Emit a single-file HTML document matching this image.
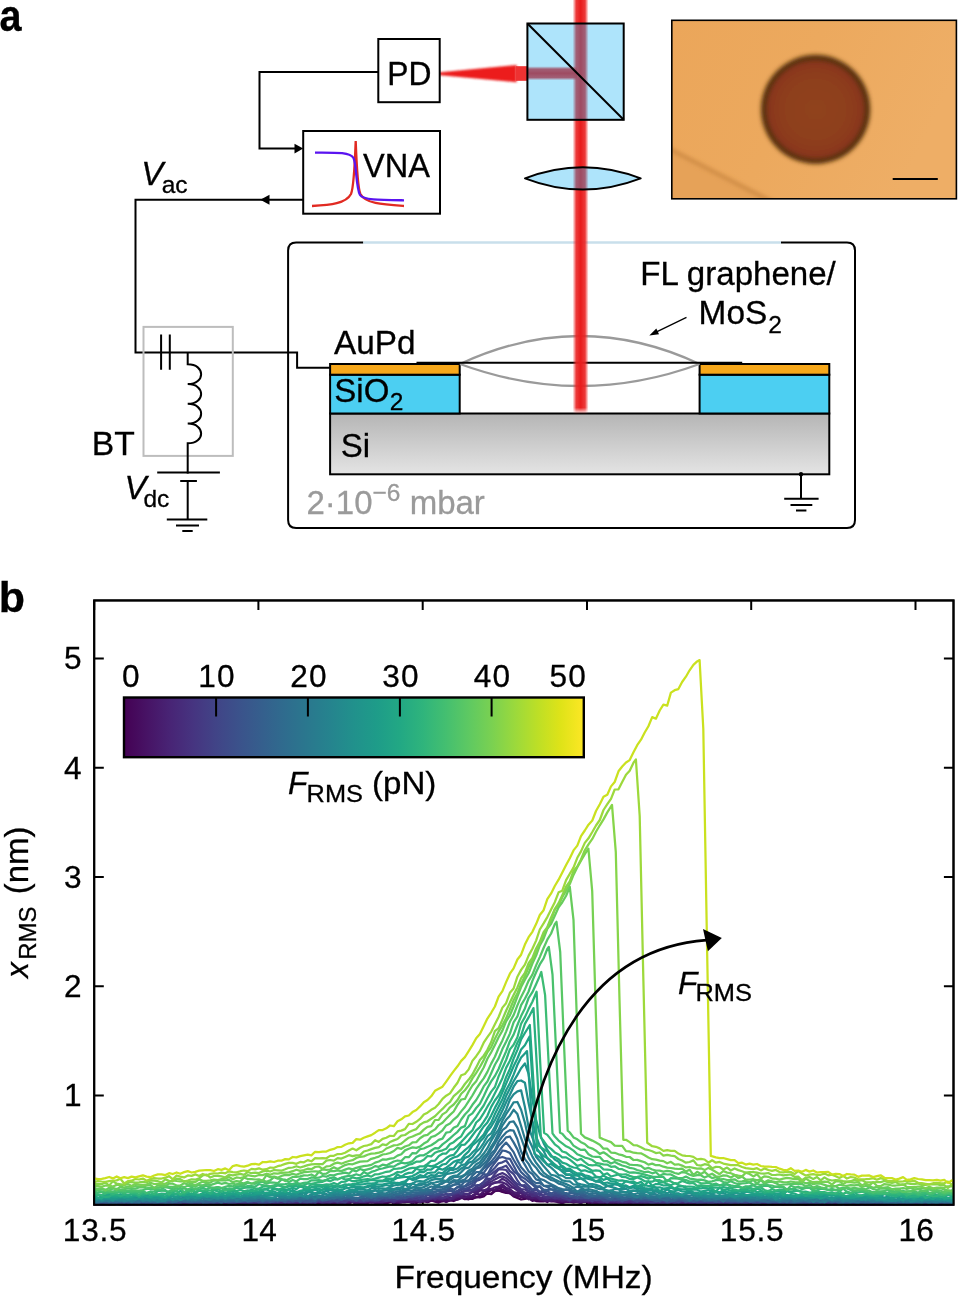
<!DOCTYPE html>
<html lang="en"><head><meta charset="utf-8"><title>Figure</title>
<style>html,body{margin:0;padding:0;background:#fff}svg{display:block}text{stroke:#000;stroke-width:0.3px}text.g{stroke:#9a9a9a}</style></head>
<body>
<svg width="958" height="1297" viewBox="0 0 958 1297" font-family="'Liberation Sans', Arial, Helvetica, sans-serif" fill="#000">
<defs>
<linearGradient id="si" x1="0" y1="0" x2="0" y2="1"><stop offset="0" stop-color="#b5b5b5"/><stop offset="1" stop-color="#e4e4e4"/></linearGradient>
<linearGradient id="vbeam" x1="0" y1="0" x2="1" y2="0"><stop offset="0" stop-color="#f03030" stop-opacity="0"/><stop offset="0.22" stop-color="#ea2424" stop-opacity="0.9"/><stop offset="0.5" stop-color="#e81c1c" stop-opacity="1"/><stop offset="0.78" stop-color="#ea2424" stop-opacity="0.9"/><stop offset="1" stop-color="#f03030" stop-opacity="0"/></linearGradient>
<linearGradient id="hbeam" x1="0" y1="0" x2="0" y2="1"><stop offset="0" stop-color="#f03030" stop-opacity="0"/><stop offset="0.2" stop-color="#ea2424" stop-opacity="0.9"/><stop offset="0.5" stop-color="#e81c1c" stop-opacity="1"/><stop offset="0.8" stop-color="#ea2424" stop-opacity="0.9"/><stop offset="1" stop-color="#f03030" stop-opacity="0"/></linearGradient>
<linearGradient id="vfade" x1="0" y1="0" x2="0" y2="1"><stop offset="0" stop-color="#fff"/><stop offset="0.97" stop-color="#fff"/><stop offset="1" stop-color="#000"/></linearGradient>
<radialGradient id="hole" cx="0.5" cy="0.5" r="0.5"><stop offset="0" stop-color="#90431c"/><stop offset="0.6" stop-color="#8e3f1c"/><stop offset="0.9" stop-color="#8b381b"/><stop offset="1" stop-color="#80331a"/></radialGradient>
<linearGradient id="photo" x1="0" y1="0" x2="1" y2="0.3"><stop offset="0" stop-color="#eba65a"/><stop offset="0.5" stop-color="#eca95e"/><stop offset="1" stop-color="#eeae66"/></linearGradient>
<filter id="blur05" x="-20%" y="-20%" width="140%" height="140%"><feGaussianBlur stdDeviation="0.7"/></filter>
<linearGradient id="vmg" x1="0" y1="0" x2="0" y2="1"><stop offset="0" stop-color="#fff"/><stop offset="0.985" stop-color="#fff"/><stop offset="1" stop-color="#000"/></linearGradient>
<mask id="vm" maskUnits="userSpaceOnUse" x="560" y="-10" width="40" height="430"><rect x="560" y="-10" width="40" height="424" fill="url(#vmg)"/></mask>
<filter id="blur1" x="-20%" y="-20%" width="140%" height="140%"><feGaussianBlur stdDeviation="1.1"/></filter>
<filter id="blur2" x="-20%" y="-20%" width="140%" height="140%"><feGaussianBlur stdDeviation="2.2"/></filter>
<clipPath id="photoclip"><rect x="671.8" y="20.3" width="284.6" height="178.5"/></clipPath>
<clipPath id="plotclip"><rect x="94.2" y="600.4" width="859.3" height="606"/></clipPath>

<linearGradient id="vir" x1="0" y1="0" x2="1" y2="0"><stop offset="0.000" stop-color="#440154"/><stop offset="0.050" stop-color="#471365"/><stop offset="0.100" stop-color="#482475"/><stop offset="0.150" stop-color="#463480"/><stop offset="0.200" stop-color="#414487"/><stop offset="0.250" stop-color="#3b528b"/><stop offset="0.300" stop-color="#355f8d"/><stop offset="0.350" stop-color="#2f6c8e"/><stop offset="0.400" stop-color="#2a788e"/><stop offset="0.450" stop-color="#25848e"/><stop offset="0.500" stop-color="#21918c"/><stop offset="0.550" stop-color="#1e9c89"/><stop offset="0.600" stop-color="#22a884"/><stop offset="0.650" stop-color="#2fb47c"/><stop offset="0.700" stop-color="#44bf70"/><stop offset="0.750" stop-color="#5ec962"/><stop offset="0.800" stop-color="#7ad151"/><stop offset="0.850" stop-color="#9bd93c"/><stop offset="0.900" stop-color="#bddf26"/><stop offset="0.950" stop-color="#dfe318"/><stop offset="1.000" stop-color="#fde725"/></linearGradient>
</defs>
<rect width="958" height="1297" fill="#fff"/>
<text transform="translate(-0.6,31) scale(0.92,1.02)" font-size="43" font-weight="bold">a</text>
<text x="-1.2" y="612" font-size="43" font-weight="bold">b</text>
<path d="M363.3,242.5 H296.1 Q288.1,242.5 288.1,250.5 V520.1 Q288.1,528.1 296.1,528.1 H847 Q855,528.1 855,520.1 V250.5 Q855,242.5 847,242.5 H781" fill="none" stroke="#000" stroke-width="2"/>
<line x1="363.3" y1="242.5" x2="781" y2="242.5" stroke="#c9dfeb" stroke-width="2.4"/>
<rect x="330.1" y="413.5" width="499.2" height="60.8" fill="url(#si)" stroke="#000" stroke-width="2"/>
<rect x="330.1" y="374.7" width="129.6" height="38.8" fill="#4ccff2" stroke="#000" stroke-width="2"/>
<rect x="699.6" y="374.7" width="129.7" height="38.8" fill="#4ccff2" stroke="#000" stroke-width="2"/>
<rect x="330.1" y="364" width="129.6" height="10.7" fill="#f7a81b" stroke="#000" stroke-width="2"/>
<rect x="699.6" y="364" width="129.7" height="10.7" fill="#f7a81b" stroke="#000" stroke-width="2"/>
<path d="M460,364 Q580,308 699.5,364" fill="none" stroke="#9a9a9a" stroke-width="2.3"/>
<path d="M460,364 Q580,408 699.5,364" fill="none" stroke="#9a9a9a" stroke-width="2.3"/>
<line x1="416.5" y1="362.8" x2="742.2" y2="362.8" stroke="#000" stroke-width="2"/>
<rect x="572.6" y="-5" width="16" height="419" fill="url(#vbeam)" mask="url(#vm)"/>
<path d="M438,72.4 L516.6,65.0 L516.6,82.2 L438,75 Z" fill="#ec1c1c" filter="url(#blur1)"/>
<rect x="516" y="66.2" width="12" height="14.6" fill="#ee3030" filter="url(#blur05)"/>
<rect x="527" y="66.2" width="50" height="14.2" fill="url(#hbeam)"/>
<rect x="527.4" y="23.5" width="96.3" height="96.3" fill="#0aadf3" fill-opacity="0.33" stroke="#000" stroke-width="2"/>
<line x1="527.4" y1="23.5" x2="623.7" y2="119.8" stroke="#000" stroke-width="2"/>
<path d="M525,178.4 Q582.8,156 640.7,178.4 Q582.8,200.8 525,178.4 Z" fill="#0aadf3" fill-opacity="0.33" stroke="#000" stroke-width="2" stroke-linejoin="round"/>
<rect x="378.3" y="39" width="61.4" height="63.2" fill="#fff" stroke="#000" stroke-width="2"/>
<text x="387.2" y="84.7" font-size="33" textLength="44.2" lengthAdjust="spacingAndGlyphs">PD</text>
<rect x="303.2" y="131" width="136.8" height="82.7" fill="#fff" stroke="#000" stroke-width="2"/>
<text x="363" y="176.6" font-size="33" textLength="67" lengthAdjust="spacingAndGlyphs">VNA</text>
<path d="M378.3,72.1 H259.5 V148.6 H298" fill="none" stroke="#000" stroke-width="2"/>
<path d="M303.2,148.6 L294.5,143.8 L294.5,153.4 Z"/>
<path d="M303.2,199.8 H135.5 V352.4 H297.1 V367.8 H330" fill="none" stroke="#000" stroke-width="2"/>
<path d="M260.3,199.8 L269.5,194.8 L269.5,204.8 Z"/>
<path d="M312,206 C331,205 346,203.5 351,194 C354,187 355,160 355.7,141 C356.4,160 357.4,187 360.4,194 C365.4,203.5 382,204.5 404,206" fill="none" stroke="#e12a22" stroke-width="2.3"/>
<path d="M315,152.6 C335,152.6 350,152 353.5,158 C356.5,164 356,188 360,195 C363,200 380,200 404,200.3" fill="none" stroke="#5a14f0" stroke-width="2.3"/>
<text x="141.3" y="184.6" font-size="33"><tspan font-style="italic">V</tspan><tspan font-size="24.5" dy="8.4" dx="-1.6">ac</tspan></text>
<rect x="143.5" y="326.9" width="89.3" height="129" fill="none" stroke="#bdbdbd" stroke-width="2"/>
<path d="M161.1,334.5 V369.8 M169.8,334.5 V369.8" stroke="#000" stroke-width="2" fill="none"/>
<path d="M187.7,352.4 V364.3 C205.6,364.3 205.6,384.1 187.7,384.1 C205.6,384.1 205.6,403.8 187.7,403.8 C205.6,403.8 205.6,423.6 187.7,423.6 C205.6,423.6 205.6,443.3 187.7,443.3 V519.4" fill="none" stroke="#000" stroke-width="2"/>
<rect x="184" y="473.6" width="8" height="6.5" fill="#fff"/>
<path d="M157.2,472.6 H219.9 M180.2,481 H196.9 M166.8,519.4 H207.3 M176,525.6 H199 M182.3,531 H192.7" stroke="#000" stroke-width="2" fill="none"/>
<text x="91.8" y="454.6" font-size="33" textLength="43" lengthAdjust="spacingAndGlyphs">BT</text>
<text x="124.6" y="498.7" font-size="33"><tspan font-style="italic">V</tspan><tspan font-size="24.5" dy="8.6" dx="-3.2">dc</tspan></text>
<text x="334" y="354.4" font-size="33" textLength="81.5" lengthAdjust="spacingAndGlyphs">AuPd</text>
<text x="334.3" y="401.8" font-size="33">SiO<tspan font-size="24.5" dy="8.4" dx="0.5">2</tspan></text>
<text x="340.8" y="457.4" font-size="33">Si</text>
<text x="306.5" y="513.7" font-size="33" fill="#9a9a9a" class="g">2·10<tspan font-size="24.5" dy="-12.5">−6</tspan><tspan dy="12.5"> mbar</tspan></text>
<text x="640.3" y="285.4" font-size="33" textLength="195.5" lengthAdjust="spacingAndGlyphs">FL graphene/</text>
<text x="698.6" y="323.9" font-size="33.4">MoS<tspan font-size="24.5" dy="8.6" dx="1">2</tspan></text>
<line x1="686.5" y1="317.4" x2="654" y2="333.2" stroke="#000" stroke-width="1.3"/>
<path d="M649.3,335.5 L656.3,328.6 L659,334.2 Z"/>
<circle cx="801" cy="474.3" r="2.2"/>
<path d="M801,474.3 V498.7 M784.2,498.7 H818.6 M790.5,505 H812.3 M796,510.6 H806.4" stroke="#000" stroke-width="2" fill="none"/>
<g clip-path="url(#photoclip)">
<rect x="671.8" y="20.3" width="284.6" height="178.5" fill="url(#photo)"/>
<path d="M660,146 L775,205 L660,205 Z" fill="#e6a258" filter="url(#blur2)"/>
<path d="M660,144 L775,203.5" stroke="#c8853f" stroke-width="3.4" fill="none" filter="url(#blur2)"/>
<circle cx="815.6" cy="109.4" r="54.6" fill="#57300d" filter="url(#blur2)"/>
<circle cx="815.6" cy="109.4" r="49.5" fill="url(#hole)" filter="url(#blur2)"/>
</g>
<rect x="671.8" y="20.3" width="284.6" height="178.5" fill="none" stroke="#000" stroke-width="1.6"/>
<line x1="892.7" y1="178.9" x2="937.8" y2="178.9" stroke="#000" stroke-width="2"/>
<rect x="94.2" y="600.4" width="859.3" height="604.35" fill="none" stroke="#000" stroke-width="2"/>
<path d="M94.2,600.4 v9.6 M94.2,1204.75 v-9.6 M258.4,600.4 v9.6 M258.4,1204.75 v-9.6 M422.7,600.4 v9.6 M422.7,1204.75 v-9.6 M587.0,600.4 v9.6 M587.0,1204.75 v-9.6 M751.2,600.4 v9.6 M751.2,1204.75 v-9.6 M915.5,600.4 v9.6 M915.5,1204.75 v-9.6 M94.2,1095.5 h9.6 M953.5,1095.5 h-9.6 M94.2,986.2 h9.6 M953.5,986.2 h-9.6 M94.2,877.0 h9.6 M953.5,877.0 h-9.6 M94.2,767.8 h9.6 M953.5,767.8 h-9.6 M94.2,658.5 h9.6 M953.5,658.5 h-9.6 " stroke="#000" stroke-width="2" fill="none"/>
<g fill="none" stroke-width="2.25" stroke-linejoin="round" clip-path="url(#plotclip)">
<path d="M94.2,1204.2 L97.9,1203.1 L101.7,1203.1 L105.4,1201.4 L109.2,1204.8 L112.9,1202.5 L116.7,1203.5 L120.4,1203.4 L124.2,1204.8 L127.9,1203.8 L131.6,1202.6 L135.4,1203.4 L139.1,1203.3 L142.9,1203.6 L146.6,1202.2 L150.4,1203.4 L154.1,1204.8 L157.9,1204.0 L161.6,1204.8 L165.4,1204.8 L169.1,1203.8 L172.8,1202.0 L176.6,1203.3 L180.3,1204.4 L184.1,1204.2 L187.8,1202.2 L191.6,1203.1 L195.3,1203.2 L199.1,1203.3 L202.8,1203.2 L206.5,1202.5 L210.3,1202.7 L214.0,1203.0 L217.8,1204.2 L221.5,1202.7 L225.3,1203.9 L229.0,1202.1 L232.8,1204.4 L236.5,1203.3 L240.3,1203.2 L244.0,1204.4 L247.7,1201.4 L251.5,1201.7 L255.2,1203.6 L259.0,1202.3 L262.7,1202.7 L266.5,1204.8 L270.2,1202.8 L274.0,1203.1 L277.7,1202.9 L281.4,1204.1 L285.2,1203.3 L288.9,1203.2 L292.7,1201.8 L296.4,1202.6 L300.2,1202.9 L303.9,1201.4 L307.7,1203.4 L311.4,1203.3 L315.1,1204.7 L318.9,1201.3 L322.6,1201.9 L326.4,1201.9 L330.1,1202.1 L333.9,1202.6 L337.6,1202.5 L341.4,1202.9 L345.1,1202.9 L348.9,1202.6 L352.6,1201.1 L356.3,1202.0 L360.1,1202.6 L363.8,1203.1 L367.6,1203.1 L371.3,1200.8 L375.1,1201.9 L378.8,1202.3 L382.6,1202.6 L386.3,1203.3 L390.0,1202.2 L393.8,1201.3 L397.5,1202.5 L401.3,1202.2 L405.0,1202.1 L408.8,1201.7 L412.5,1203.3 L416.3,1201.9 L420.0,1202.4 L423.8,1200.6 L427.5,1202.1 L431.2,1200.6 L435.0,1199.5 L438.7,1201.2 L442.5,1201.3 L446.2,1200.3 L450.0,1200.3 L453.7,1201.0 L457.5,1199.2 L461.2,1197.4 L464.9,1199.2 L468.7,1198.6 L472.4,1198.9 L476.2,1196.9 L479.9,1197.5 L483.7,1196.5 L487.4,1193.1 L491.2,1194.1 L494.9,1191.2 L498.6,1190.4 L502.4,1192.0 L506.1,1193.0 L509.9,1193.1 L513.6,1196.5 L517.4,1197.9 L521.1,1199.5 L524.9,1198.9 L528.6,1198.0 L532.4,1198.9 L536.1,1201.1 L539.8,1201.4 L543.6,1201.3 L547.3,1200.7 L551.1,1201.4 L554.8,1201.2 L558.6,1201.3 L562.3,1202.0 L566.1,1201.8 L569.8,1201.7 L573.5,1202.1 L577.3,1201.6 L581.0,1200.3 L584.8,1201.7 L588.5,1202.3 L592.3,1204.0 L596.0,1202.0 L599.8,1204.4 L603.5,1203.9 L607.3,1201.7 L611.0,1201.9 L614.7,1202.8 L618.5,1204.3 L622.2,1203.0 L626.0,1203.4 L629.7,1202.1 L633.5,1200.5 L637.2,1202.6 L641.0,1203.6 L644.7,1204.0 L648.4,1202.9 L652.2,1203.0 L655.9,1204.0 L659.7,1202.8 L663.4,1204.1 L667.2,1201.8 L670.9,1201.9 L674.7,1201.9 L678.4,1203.5 L682.1,1202.5 L685.9,1203.1 L689.6,1203.4 L693.4,1203.4 L697.1,1204.3 L700.9,1204.5 L704.6,1202.3 L708.4,1203.3 L712.1,1202.9 L715.9,1202.1 L719.6,1204.8 L723.3,1203.9 L727.1,1203.0 L730.8,1202.8 L734.6,1203.5 L738.3,1202.2 L742.1,1203.0 L745.8,1204.4 L749.6,1204.1 L753.3,1202.4 L757.0,1202.8 L760.8,1204.8 L764.5,1201.9 L768.3,1202.7 L772.0,1201.9 L775.8,1203.6 L779.5,1203.6 L783.3,1204.4 L787.0,1200.8 L790.8,1203.5 L794.5,1201.7 L798.2,1203.9 L802.0,1203.2 L805.7,1204.8 L809.5,1203.7 L813.2,1202.4 L817.0,1204.6 L820.7,1202.3 L824.5,1203.0 L828.2,1204.4 L831.9,1203.9 L835.7,1203.8 L839.4,1203.4 L843.2,1203.9 L846.9,1204.2 L850.7,1203.7 L854.4,1204.4 L858.2,1204.7 L861.9,1203.4 L865.6,1202.5 L869.4,1204.8 L873.1,1203.4 L876.9,1204.1 L880.6,1204.4 L884.4,1202.6 L888.1,1203.9 L891.9,1202.0 L895.6,1204.2 L899.4,1203.1 L903.1,1203.7 L906.8,1204.2 L910.6,1202.9 L914.3,1203.6 L918.1,1202.9 L921.8,1203.5 L925.6,1204.5 L929.3,1203.6 L933.1,1203.4 L936.8,1202.5 L940.5,1204.4 L944.3,1203.5 L948.0,1204.8 L951.8,1202.9 L953.5,1204.6" stroke="#440154"/>
<path d="M94.2,1204.4 L97.9,1203.7 L101.7,1200.9 L105.4,1202.4 L109.2,1203.5 L112.9,1202.6 L116.7,1201.3 L120.4,1203.6 L124.2,1203.7 L127.9,1202.1 L131.6,1202.8 L135.4,1202.6 L139.1,1203.8 L142.9,1201.4 L146.6,1201.6 L150.4,1202.7 L154.1,1202.6 L157.9,1204.8 L161.6,1202.6 L165.4,1203.4 L169.1,1202.8 L172.8,1202.6 L176.6,1203.6 L180.3,1204.8 L184.1,1202.9 L187.8,1203.9 L191.6,1203.5 L195.3,1203.8 L199.1,1203.5 L202.8,1204.8 L206.5,1202.0 L210.3,1202.9 L214.0,1202.0 L217.8,1201.2 L221.5,1203.1 L225.3,1204.8 L229.0,1204.0 L232.8,1204.3 L236.5,1203.6 L240.3,1203.0 L244.0,1204.8 L247.7,1202.7 L251.5,1204.5 L255.2,1202.7 L259.0,1203.1 L262.7,1203.3 L266.5,1203.1 L270.2,1203.5 L274.0,1203.6 L277.7,1204.6 L281.4,1203.0 L285.2,1201.1 L288.9,1200.9 L292.7,1201.6 L296.4,1202.1 L300.2,1203.5 L303.9,1201.4 L307.7,1202.8 L311.4,1202.8 L315.1,1203.0 L318.9,1202.6 L322.6,1203.1 L326.4,1202.8 L330.1,1203.7 L333.9,1203.0 L337.6,1200.3 L341.4,1202.6 L345.1,1202.8 L348.9,1202.0 L352.6,1201.8 L356.3,1203.5 L360.1,1202.6 L363.8,1201.4 L367.6,1202.0 L371.3,1202.1 L375.1,1200.7 L378.8,1202.8 L382.6,1202.0 L386.3,1202.6 L390.0,1200.5 L393.8,1203.8 L397.5,1202.5 L401.3,1202.3 L405.0,1201.0 L408.8,1201.0 L412.5,1200.1 L416.3,1203.0 L420.0,1200.6 L423.8,1201.5 L427.5,1201.7 L431.2,1200.4 L435.0,1201.6 L438.7,1202.6 L442.5,1200.7 L446.2,1201.6 L450.0,1200.5 L453.7,1199.2 L457.5,1198.9 L461.2,1197.3 L464.9,1198.6 L468.7,1199.3 L472.4,1197.9 L476.2,1197.3 L479.9,1196.7 L483.7,1194.0 L487.4,1193.8 L491.2,1193.9 L494.9,1190.3 L498.6,1190.6 L502.4,1190.4 L506.1,1192.1 L509.9,1193.3 L513.6,1195.3 L517.4,1195.3 L521.1,1197.1 L524.9,1197.9 L528.6,1198.4 L532.4,1200.8 L536.1,1199.9 L539.8,1200.4 L543.6,1200.2 L547.3,1202.0 L551.1,1199.3 L554.8,1201.0 L558.6,1202.4 L562.3,1203.1 L566.1,1201.8 L569.8,1201.7 L573.5,1202.5 L577.3,1201.8 L581.0,1202.6 L584.8,1201.5 L588.5,1202.8 L592.3,1202.2 L596.0,1201.3 L599.8,1199.8 L603.5,1203.3 L607.3,1202.8 L611.0,1203.3 L614.7,1201.7 L618.5,1203.6 L622.2,1203.0 L626.0,1202.6 L629.7,1203.5 L633.5,1203.6 L637.2,1203.1 L641.0,1204.7 L644.7,1204.1 L648.4,1203.1 L652.2,1202.6 L655.9,1202.9 L659.7,1204.5 L663.4,1203.3 L667.2,1202.1 L670.9,1202.3 L674.7,1202.9 L678.4,1203.8 L682.1,1202.3 L685.9,1203.5 L689.6,1204.1 L693.4,1203.7 L697.1,1201.5 L700.9,1202.8 L704.6,1201.9 L708.4,1203.5 L712.1,1202.1 L715.9,1203.6 L719.6,1203.2 L723.3,1200.6 L727.1,1202.3 L730.8,1203.6 L734.6,1203.2 L738.3,1202.8 L742.1,1201.9 L745.8,1203.6 L749.6,1204.8 L753.3,1203.4 L757.0,1203.1 L760.8,1203.1 L764.5,1201.9 L768.3,1202.9 L772.0,1202.4 L775.8,1204.3 L779.5,1202.4 L783.3,1201.2 L787.0,1202.5 L790.8,1203.0 L794.5,1203.1 L798.2,1201.5 L802.0,1204.2 L805.7,1203.4 L809.5,1202.8 L813.2,1202.5 L817.0,1203.7 L820.7,1203.0 L824.5,1203.6 L828.2,1203.2 L831.9,1203.4 L835.7,1204.4 L839.4,1203.3 L843.2,1202.5 L846.9,1204.3 L850.7,1203.6 L854.4,1202.7 L858.2,1204.4 L861.9,1203.2 L865.6,1204.4 L869.4,1202.2 L873.1,1201.1 L876.9,1201.4 L880.6,1203.6 L884.4,1202.6 L888.1,1203.3 L891.9,1203.3 L895.6,1201.9 L899.4,1204.7 L903.1,1202.4 L906.8,1203.4 L910.6,1202.0 L914.3,1203.2 L918.1,1204.1 L921.8,1203.1 L925.6,1202.7 L929.3,1203.4 L933.1,1202.9 L936.8,1203.9 L940.5,1204.8 L944.3,1202.6 L948.0,1202.8 L951.8,1203.3 L953.5,1203.4" stroke="#46075a"/>
<path d="M94.2,1203.2 L97.9,1201.0 L101.7,1204.1 L105.4,1203.4 L109.2,1203.4 L112.9,1202.8 L116.7,1202.2 L120.4,1203.7 L124.2,1204.1 L127.9,1204.8 L131.6,1204.1 L135.4,1202.7 L139.1,1203.2 L142.9,1204.2 L146.6,1203.6 L150.4,1203.2 L154.1,1202.7 L157.9,1203.8 L161.6,1203.4 L165.4,1204.8 L169.1,1204.3 L172.8,1201.6 L176.6,1204.8 L180.3,1203.5 L184.1,1202.9 L187.8,1203.5 L191.6,1203.9 L195.3,1203.2 L199.1,1203.1 L202.8,1203.2 L206.5,1204.8 L210.3,1203.2 L214.0,1203.9 L217.8,1203.6 L221.5,1202.8 L225.3,1202.4 L229.0,1202.1 L232.8,1203.5 L236.5,1202.1 L240.3,1201.8 L244.0,1201.8 L247.7,1201.6 L251.5,1203.1 L255.2,1203.1 L259.0,1202.1 L262.7,1204.2 L266.5,1202.7 L270.2,1203.4 L274.0,1203.2 L277.7,1204.5 L281.4,1203.7 L285.2,1202.8 L288.9,1201.9 L292.7,1201.8 L296.4,1202.8 L300.2,1202.9 L303.9,1203.5 L307.7,1202.3 L311.4,1202.9 L315.1,1202.0 L318.9,1200.9 L322.6,1202.6 L326.4,1204.0 L330.1,1203.3 L333.9,1203.9 L337.6,1203.6 L341.4,1201.1 L345.1,1202.1 L348.9,1203.8 L352.6,1201.6 L356.3,1201.0 L360.1,1202.6 L363.8,1202.8 L367.6,1202.4 L371.3,1201.8 L375.1,1201.4 L378.8,1200.8 L382.6,1200.7 L386.3,1200.7 L390.0,1200.4 L393.8,1201.0 L397.5,1203.1 L401.3,1201.6 L405.0,1201.1 L408.8,1201.7 L412.5,1200.3 L416.3,1201.5 L420.0,1201.9 L423.8,1199.4 L427.5,1200.1 L431.2,1200.3 L435.0,1199.5 L438.7,1199.1 L442.5,1199.6 L446.2,1202.1 L450.0,1200.0 L453.7,1199.5 L457.5,1199.7 L461.2,1198.1 L464.9,1196.6 L468.7,1197.6 L472.4,1197.5 L476.2,1193.5 L479.9,1195.0 L483.7,1194.6 L487.4,1191.9 L491.2,1190.2 L494.9,1190.2 L498.6,1188.0 L502.4,1189.6 L506.1,1191.5 L509.9,1192.3 L513.6,1193.4 L517.4,1196.2 L521.1,1196.3 L524.9,1197.6 L528.6,1195.4 L532.4,1199.5 L536.1,1197.9 L539.8,1199.7 L543.6,1200.1 L547.3,1199.5 L551.1,1199.6 L554.8,1199.5 L558.6,1200.6 L562.3,1201.7 L566.1,1201.8 L569.8,1200.9 L573.5,1200.9 L577.3,1200.2 L581.0,1201.3 L584.8,1200.8 L588.5,1200.4 L592.3,1201.8 L596.0,1203.5 L599.8,1203.3 L603.5,1203.6 L607.3,1200.6 L611.0,1203.1 L614.7,1201.1 L618.5,1201.7 L622.2,1200.7 L626.0,1201.4 L629.7,1202.5 L633.5,1202.7 L637.2,1202.4 L641.0,1202.3 L644.7,1203.1 L648.4,1202.6 L652.2,1201.0 L655.9,1204.3 L659.7,1202.4 L663.4,1203.6 L667.2,1202.5 L670.9,1201.9 L674.7,1202.8 L678.4,1202.0 L682.1,1204.3 L685.9,1201.7 L689.6,1203.4 L693.4,1202.2 L697.1,1202.7 L700.9,1204.8 L704.6,1203.6 L708.4,1202.7 L712.1,1201.4 L715.9,1202.6 L719.6,1202.7 L723.3,1204.3 L727.1,1201.6 L730.8,1201.2 L734.6,1203.0 L738.3,1203.2 L742.1,1204.6 L745.8,1202.2 L749.6,1200.4 L753.3,1202.3 L757.0,1201.8 L760.8,1202.5 L764.5,1204.1 L768.3,1201.8 L772.0,1204.3 L775.8,1203.3 L779.5,1202.8 L783.3,1202.3 L787.0,1202.7 L790.8,1202.8 L794.5,1203.9 L798.2,1204.4 L802.0,1203.1 L805.7,1203.9 L809.5,1204.5 L813.2,1204.4 L817.0,1203.7 L820.7,1204.8 L824.5,1204.5 L828.2,1204.8 L831.9,1203.1 L835.7,1202.8 L839.4,1201.3 L843.2,1204.7 L846.9,1203.9 L850.7,1202.4 L854.4,1203.5 L858.2,1203.6 L861.9,1201.6 L865.6,1203.6 L869.4,1204.4 L873.1,1204.6 L876.9,1203.0 L880.6,1203.0 L884.4,1204.7 L888.1,1204.3 L891.9,1202.8 L895.6,1202.8 L899.4,1204.0 L903.1,1202.7 L906.8,1202.8 L910.6,1204.8 L914.3,1203.7 L918.1,1202.9 L921.8,1203.9 L925.6,1204.8 L929.3,1203.6 L933.1,1202.6 L936.8,1201.8 L940.5,1204.8 L944.3,1200.8 L948.0,1204.5 L951.8,1202.5 L953.5,1202.2" stroke="#470e61"/>
<path d="M94.2,1204.1 L97.9,1204.2 L101.7,1204.3 L105.4,1204.1 L109.2,1204.1 L112.9,1202.9 L116.7,1204.1 L120.4,1203.1 L124.2,1202.8 L127.9,1203.9 L131.6,1203.0 L135.4,1201.5 L139.1,1202.8 L142.9,1203.8 L146.6,1203.2 L150.4,1204.0 L154.1,1202.8 L157.9,1202.2 L161.6,1203.9 L165.4,1203.3 L169.1,1202.0 L172.8,1203.6 L176.6,1202.9 L180.3,1204.1 L184.1,1203.9 L187.8,1203.5 L191.6,1200.9 L195.3,1203.4 L199.1,1203.5 L202.8,1203.5 L206.5,1203.1 L210.3,1202.3 L214.0,1202.8 L217.8,1200.9 L221.5,1202.7 L225.3,1201.5 L229.0,1202.6 L232.8,1202.3 L236.5,1204.3 L240.3,1203.0 L244.0,1202.9 L247.7,1203.1 L251.5,1204.8 L255.2,1201.9 L259.0,1203.2 L262.7,1203.2 L266.5,1203.0 L270.2,1203.0 L274.0,1202.3 L277.7,1203.9 L281.4,1203.6 L285.2,1202.4 L288.9,1202.5 L292.7,1203.0 L296.4,1203.2 L300.2,1203.4 L303.9,1202.6 L307.7,1201.3 L311.4,1203.5 L315.1,1201.0 L318.9,1201.6 L322.6,1202.8 L326.4,1201.6 L330.1,1203.8 L333.9,1204.0 L337.6,1203.5 L341.4,1202.6 L345.1,1202.5 L348.9,1202.7 L352.6,1202.0 L356.3,1204.1 L360.1,1201.5 L363.8,1203.4 L367.6,1202.5 L371.3,1202.3 L375.1,1202.9 L378.8,1203.1 L382.6,1202.6 L386.3,1201.6 L390.0,1200.9 L393.8,1200.9 L397.5,1202.3 L401.3,1202.0 L405.0,1202.1 L408.8,1200.6 L412.5,1202.9 L416.3,1199.6 L420.0,1201.1 L423.8,1201.3 L427.5,1200.0 L431.2,1199.1 L435.0,1199.6 L438.7,1198.7 L442.5,1199.3 L446.2,1198.0 L450.0,1197.6 L453.7,1198.6 L457.5,1196.7 L461.2,1197.4 L464.9,1196.9 L468.7,1197.3 L472.4,1195.8 L476.2,1193.8 L479.9,1194.8 L483.7,1191.6 L487.4,1190.4 L491.2,1188.9 L494.9,1190.0 L498.6,1187.1 L502.4,1186.7 L506.1,1189.7 L509.9,1190.9 L513.6,1195.3 L517.4,1193.8 L521.1,1196.4 L524.9,1195.8 L528.6,1199.3 L532.4,1197.4 L536.1,1198.9 L539.8,1198.3 L543.6,1200.4 L547.3,1200.4 L551.1,1197.8 L554.8,1201.2 L558.6,1201.2 L562.3,1201.0 L566.1,1201.9 L569.8,1199.9 L573.5,1199.5 L577.3,1202.0 L581.0,1203.1 L584.8,1200.4 L588.5,1200.6 L592.3,1200.9 L596.0,1200.7 L599.8,1202.7 L603.5,1202.1 L607.3,1203.4 L611.0,1203.4 L614.7,1201.1 L618.5,1202.8 L622.2,1199.9 L626.0,1202.1 L629.7,1202.9 L633.5,1201.5 L637.2,1200.6 L641.0,1201.9 L644.7,1203.6 L648.4,1202.1 L652.2,1201.1 L655.9,1203.0 L659.7,1203.3 L663.4,1201.5 L667.2,1202.4 L670.9,1203.7 L674.7,1203.0 L678.4,1203.4 L682.1,1202.4 L685.9,1202.6 L689.6,1201.6 L693.4,1202.0 L697.1,1204.3 L700.9,1202.3 L704.6,1201.9 L708.4,1202.3 L712.1,1201.8 L715.9,1203.4 L719.6,1203.8 L723.3,1201.9 L727.1,1203.9 L730.8,1204.8 L734.6,1201.9 L738.3,1203.6 L742.1,1203.2 L745.8,1204.3 L749.6,1204.2 L753.3,1204.1 L757.0,1203.3 L760.8,1202.6 L764.5,1204.8 L768.3,1202.3 L772.0,1204.2 L775.8,1204.1 L779.5,1202.4 L783.3,1203.1 L787.0,1204.6 L790.8,1201.2 L794.5,1203.9 L798.2,1202.8 L802.0,1202.9 L805.7,1201.7 L809.5,1203.6 L813.2,1202.1 L817.0,1203.8 L820.7,1202.0 L824.5,1203.9 L828.2,1203.5 L831.9,1201.3 L835.7,1202.8 L839.4,1203.1 L843.2,1201.0 L846.9,1202.8 L850.7,1204.0 L854.4,1202.5 L858.2,1204.4 L861.9,1202.1 L865.6,1202.0 L869.4,1203.8 L873.1,1203.8 L876.9,1203.1 L880.6,1203.2 L884.4,1204.2 L888.1,1202.7 L891.9,1204.8 L895.6,1203.7 L899.4,1203.7 L903.1,1203.5 L906.8,1203.0 L910.6,1204.5 L914.3,1202.7 L918.1,1203.5 L921.8,1203.9 L925.6,1204.6 L929.3,1204.5 L933.1,1203.0 L936.8,1204.3 L940.5,1203.3 L944.3,1202.3 L948.0,1202.3 L951.8,1201.8 L953.5,1203.6" stroke="#481467"/>
<path d="M94.2,1203.5 L97.9,1204.3 L101.7,1202.1 L105.4,1201.4 L109.2,1204.0 L112.9,1203.4 L116.7,1202.1 L120.4,1202.8 L124.2,1201.1 L127.9,1203.6 L131.6,1202.5 L135.4,1204.3 L139.1,1201.0 L142.9,1203.8 L146.6,1204.8 L150.4,1203.2 L154.1,1203.2 L157.9,1201.1 L161.6,1203.3 L165.4,1203.0 L169.1,1202.4 L172.8,1201.4 L176.6,1203.0 L180.3,1201.9 L184.1,1202.4 L187.8,1203.2 L191.6,1202.8 L195.3,1202.9 L199.1,1203.8 L202.8,1201.7 L206.5,1204.2 L210.3,1201.7 L214.0,1201.9 L217.8,1202.9 L221.5,1203.6 L225.3,1203.0 L229.0,1202.3 L232.8,1202.1 L236.5,1202.5 L240.3,1201.8 L244.0,1203.3 L247.7,1202.5 L251.5,1204.2 L255.2,1201.9 L259.0,1202.5 L262.7,1203.0 L266.5,1201.5 L270.2,1201.9 L274.0,1204.8 L277.7,1202.5 L281.4,1204.0 L285.2,1201.5 L288.9,1200.0 L292.7,1203.0 L296.4,1202.4 L300.2,1202.7 L303.9,1202.0 L307.7,1201.7 L311.4,1201.1 L315.1,1203.3 L318.9,1200.7 L322.6,1203.1 L326.4,1201.9 L330.1,1201.0 L333.9,1201.4 L337.6,1203.0 L341.4,1202.7 L345.1,1202.4 L348.9,1202.0 L352.6,1200.8 L356.3,1203.1 L360.1,1201.3 L363.8,1201.1 L367.6,1201.1 L371.3,1201.1 L375.1,1200.0 L378.8,1201.0 L382.6,1200.6 L386.3,1200.7 L390.0,1199.5 L393.8,1203.0 L397.5,1199.8 L401.3,1201.2 L405.0,1201.1 L408.8,1201.6 L412.5,1202.4 L416.3,1200.8 L420.0,1200.9 L423.8,1199.6 L427.5,1201.4 L431.2,1198.3 L435.0,1199.2 L438.7,1199.5 L442.5,1199.6 L446.2,1199.4 L450.0,1199.4 L453.7,1198.4 L457.5,1197.4 L461.2,1197.0 L464.9,1197.6 L468.7,1195.8 L472.4,1195.5 L476.2,1193.4 L479.9,1190.5 L483.7,1190.3 L487.4,1189.6 L491.2,1189.2 L494.9,1187.3 L498.6,1186.6 L502.4,1184.5 L506.1,1187.7 L509.9,1189.2 L513.6,1192.1 L517.4,1193.1 L521.1,1193.2 L524.9,1196.4 L528.6,1197.0 L532.4,1198.2 L536.1,1197.1 L539.8,1199.5 L543.6,1200.1 L547.3,1200.6 L551.1,1201.0 L554.8,1199.4 L558.6,1197.6 L562.3,1201.3 L566.1,1199.6 L569.8,1200.5 L573.5,1201.9 L577.3,1201.3 L581.0,1201.4 L584.8,1201.9 L588.5,1199.5 L592.3,1203.3 L596.0,1201.2 L599.8,1201.3 L603.5,1202.3 L607.3,1201.6 L611.0,1200.9 L614.7,1201.7 L618.5,1201.5 L622.2,1201.3 L626.0,1204.0 L629.7,1200.6 L633.5,1199.8 L637.2,1201.1 L641.0,1201.2 L644.7,1203.6 L648.4,1202.4 L652.2,1203.1 L655.9,1202.9 L659.7,1201.4 L663.4,1203.2 L667.2,1202.5 L670.9,1204.3 L674.7,1202.6 L678.4,1202.4 L682.1,1203.2 L685.9,1203.2 L689.6,1200.7 L693.4,1203.8 L697.1,1203.6 L700.9,1203.4 L704.6,1201.4 L708.4,1200.6 L712.1,1202.3 L715.9,1203.4 L719.6,1203.1 L723.3,1201.7 L727.1,1203.6 L730.8,1201.3 L734.6,1201.4 L738.3,1202.7 L742.1,1202.2 L745.8,1202.1 L749.6,1201.3 L753.3,1203.9 L757.0,1201.7 L760.8,1203.2 L764.5,1203.6 L768.3,1202.8 L772.0,1203.1 L775.8,1203.9 L779.5,1204.5 L783.3,1203.9 L787.0,1201.5 L790.8,1201.0 L794.5,1202.3 L798.2,1201.8 L802.0,1203.5 L805.7,1203.1 L809.5,1202.7 L813.2,1204.1 L817.0,1204.0 L820.7,1202.9 L824.5,1203.4 L828.2,1204.1 L831.9,1202.7 L835.7,1203.3 L839.4,1202.1 L843.2,1203.1 L846.9,1203.4 L850.7,1203.0 L854.4,1203.3 L858.2,1203.8 L861.9,1203.5 L865.6,1202.4 L869.4,1202.5 L873.1,1201.9 L876.9,1204.8 L880.6,1203.5 L884.4,1203.6 L888.1,1203.0 L891.9,1203.6 L895.6,1203.7 L899.4,1202.4 L903.1,1203.0 L906.8,1204.3 L910.6,1201.9 L914.3,1202.2 L918.1,1203.8 L921.8,1202.4 L925.6,1204.0 L929.3,1202.1 L933.1,1203.5 L936.8,1204.0 L940.5,1203.6 L944.3,1204.0 L948.0,1203.1 L951.8,1203.1 L953.5,1203.2" stroke="#481b6d"/>
<path d="M94.2,1204.1 L97.9,1202.8 L101.7,1204.0 L105.4,1202.0 L109.2,1202.6 L112.9,1203.0 L116.7,1204.3 L120.4,1202.9 L124.2,1203.8 L127.9,1202.3 L131.6,1203.1 L135.4,1203.8 L139.1,1202.1 L142.9,1202.2 L146.6,1203.5 L150.4,1201.8 L154.1,1203.2 L157.9,1203.2 L161.6,1202.8 L165.4,1203.6 L169.1,1203.3 L172.8,1203.0 L176.6,1201.4 L180.3,1201.4 L184.1,1203.1 L187.8,1201.2 L191.6,1202.8 L195.3,1202.4 L199.1,1201.9 L202.8,1202.5 L206.5,1200.4 L210.3,1202.5 L214.0,1203.9 L217.8,1201.4 L221.5,1203.1 L225.3,1203.0 L229.0,1204.8 L232.8,1201.7 L236.5,1201.8 L240.3,1201.8 L244.0,1201.6 L247.7,1200.9 L251.5,1202.6 L255.2,1201.6 L259.0,1203.2 L262.7,1202.8 L266.5,1201.4 L270.2,1202.1 L274.0,1203.7 L277.7,1202.0 L281.4,1202.6 L285.2,1203.1 L288.9,1201.9 L292.7,1202.7 L296.4,1203.8 L300.2,1203.3 L303.9,1200.5 L307.7,1203.6 L311.4,1201.9 L315.1,1201.5 L318.9,1201.4 L322.6,1203.2 L326.4,1202.3 L330.1,1201.8 L333.9,1201.1 L337.6,1202.5 L341.4,1202.9 L345.1,1200.8 L348.9,1200.6 L352.6,1201.3 L356.3,1202.2 L360.1,1201.1 L363.8,1201.4 L367.6,1200.6 L371.3,1202.6 L375.1,1201.1 L378.8,1201.3 L382.6,1202.2 L386.3,1200.8 L390.0,1200.9 L393.8,1201.2 L397.5,1200.3 L401.3,1202.0 L405.0,1200.5 L408.8,1199.9 L412.5,1199.9 L416.3,1199.0 L420.0,1201.0 L423.8,1201.1 L427.5,1199.2 L431.2,1198.8 L435.0,1196.9 L438.7,1198.1 L442.5,1199.2 L446.2,1197.2 L450.0,1198.4 L453.7,1198.6 L457.5,1194.1 L461.2,1195.7 L464.9,1194.7 L468.7,1194.0 L472.4,1191.8 L476.2,1192.2 L479.9,1189.9 L483.7,1190.5 L487.4,1189.1 L491.2,1184.3 L494.9,1182.3 L498.6,1182.2 L502.4,1182.4 L506.1,1184.0 L509.9,1187.5 L513.6,1187.7 L517.4,1190.7 L521.1,1192.5 L524.9,1194.0 L528.6,1194.5 L532.4,1195.9 L536.1,1196.3 L539.8,1198.8 L543.6,1197.7 L547.3,1196.5 L551.1,1199.5 L554.8,1199.4 L558.6,1198.7 L562.3,1198.9 L566.1,1199.4 L569.8,1201.8 L573.5,1199.9 L577.3,1201.8 L581.0,1201.6 L584.8,1200.4 L588.5,1201.3 L592.3,1200.3 L596.0,1198.1 L599.8,1200.6 L603.5,1200.7 L607.3,1202.4 L611.0,1202.2 L614.7,1202.7 L618.5,1202.2 L622.2,1202.8 L626.0,1202.4 L629.7,1202.0 L633.5,1202.8 L637.2,1203.3 L641.0,1203.3 L644.7,1201.5 L648.4,1202.0 L652.2,1201.1 L655.9,1201.1 L659.7,1202.5 L663.4,1201.5 L667.2,1203.6 L670.9,1200.0 L674.7,1201.1 L678.4,1202.5 L682.1,1203.5 L685.9,1202.0 L689.6,1204.2 L693.4,1203.2 L697.1,1201.7 L700.9,1202.4 L704.6,1203.0 L708.4,1201.6 L712.1,1203.5 L715.9,1202.3 L719.6,1203.0 L723.3,1203.4 L727.1,1202.1 L730.8,1203.6 L734.6,1200.8 L738.3,1203.2 L742.1,1200.7 L745.8,1203.8 L749.6,1202.1 L753.3,1203.9 L757.0,1204.0 L760.8,1202.6 L764.5,1202.1 L768.3,1204.0 L772.0,1201.6 L775.8,1203.6 L779.5,1202.7 L783.3,1202.4 L787.0,1202.2 L790.8,1204.6 L794.5,1201.3 L798.2,1202.3 L802.0,1203.3 L805.7,1203.9 L809.5,1204.6 L813.2,1204.2 L817.0,1202.4 L820.7,1203.3 L824.5,1204.1 L828.2,1203.5 L831.9,1201.4 L835.7,1203.3 L839.4,1203.6 L843.2,1201.7 L846.9,1202.5 L850.7,1203.0 L854.4,1203.6 L858.2,1204.5 L861.9,1204.2 L865.6,1203.5 L869.4,1203.3 L873.1,1202.7 L876.9,1202.5 L880.6,1202.9 L884.4,1202.9 L888.1,1204.1 L891.9,1204.8 L895.6,1203.6 L899.4,1204.0 L903.1,1203.8 L906.8,1203.4 L910.6,1204.3 L914.3,1204.2 L918.1,1203.2 L921.8,1203.0 L925.6,1203.8 L929.3,1202.7 L933.1,1203.4 L936.8,1204.2 L940.5,1203.1 L944.3,1201.3 L948.0,1203.8 L951.8,1202.0 L953.5,1201.8" stroke="#482173"/>
<path d="M94.2,1204.1 L97.9,1202.0 L101.7,1203.7 L105.4,1204.1 L109.2,1203.5 L112.9,1203.0 L116.7,1202.2 L120.4,1202.3 L124.2,1202.9 L127.9,1202.0 L131.6,1202.8 L135.4,1202.0 L139.1,1204.2 L142.9,1204.4 L146.6,1202.1 L150.4,1204.2 L154.1,1203.1 L157.9,1202.9 L161.6,1203.3 L165.4,1203.2 L169.1,1201.4 L172.8,1204.8 L176.6,1201.9 L180.3,1200.5 L184.1,1202.7 L187.8,1202.7 L191.6,1202.0 L195.3,1200.9 L199.1,1203.8 L202.8,1202.5 L206.5,1202.8 L210.3,1202.0 L214.0,1202.4 L217.8,1201.9 L221.5,1203.0 L225.3,1202.5 L229.0,1203.2 L232.8,1203.1 L236.5,1202.6 L240.3,1202.6 L244.0,1203.6 L247.7,1200.9 L251.5,1202.5 L255.2,1203.7 L259.0,1201.3 L262.7,1203.1 L266.5,1201.8 L270.2,1202.3 L274.0,1202.0 L277.7,1202.0 L281.4,1202.7 L285.2,1202.1 L288.9,1200.1 L292.7,1204.3 L296.4,1202.0 L300.2,1201.6 L303.9,1203.0 L307.7,1203.3 L311.4,1199.8 L315.1,1202.3 L318.9,1199.8 L322.6,1201.3 L326.4,1201.7 L330.1,1201.2 L333.9,1201.0 L337.6,1200.5 L341.4,1201.1 L345.1,1201.4 L348.9,1201.3 L352.6,1200.1 L356.3,1200.5 L360.1,1202.2 L363.8,1201.8 L367.6,1200.8 L371.3,1201.6 L375.1,1201.3 L378.8,1201.8 L382.6,1201.0 L386.3,1200.2 L390.0,1199.6 L393.8,1200.4 L397.5,1198.3 L401.3,1200.3 L405.0,1196.9 L408.8,1198.9 L412.5,1199.2 L416.3,1200.0 L420.0,1202.1 L423.8,1199.3 L427.5,1198.7 L431.2,1196.8 L435.0,1199.7 L438.7,1196.2 L442.5,1198.0 L446.2,1196.7 L450.0,1199.4 L453.7,1196.3 L457.5,1196.1 L461.2,1194.5 L464.9,1194.3 L468.7,1194.6 L472.4,1191.5 L476.2,1190.5 L479.9,1189.0 L483.7,1186.9 L487.4,1184.8 L491.2,1183.8 L494.9,1183.0 L498.6,1181.6 L502.4,1178.7 L506.1,1180.9 L509.9,1184.3 L513.6,1187.6 L517.4,1189.6 L521.1,1191.6 L524.9,1193.5 L528.6,1195.0 L532.4,1193.3 L536.1,1196.0 L539.8,1197.4 L543.6,1198.8 L547.3,1198.7 L551.1,1197.6 L554.8,1198.0 L558.6,1199.2 L562.3,1199.3 L566.1,1199.9 L569.8,1200.9 L573.5,1198.7 L577.3,1199.8 L581.0,1197.9 L584.8,1201.3 L588.5,1200.8 L592.3,1199.9 L596.0,1201.2 L599.8,1202.4 L603.5,1202.1 L607.3,1201.1 L611.0,1200.9 L614.7,1201.4 L618.5,1200.4 L622.2,1200.5 L626.0,1201.2 L629.7,1201.5 L633.5,1201.9 L637.2,1201.1 L641.0,1200.8 L644.7,1201.7 L648.4,1201.4 L652.2,1202.2 L655.9,1203.3 L659.7,1202.9 L663.4,1201.2 L667.2,1201.6 L670.9,1200.5 L674.7,1202.0 L678.4,1201.2 L682.1,1200.8 L685.9,1201.2 L689.6,1202.8 L693.4,1202.4 L697.1,1202.1 L700.9,1203.2 L704.6,1201.8 L708.4,1201.3 L712.1,1202.8 L715.9,1200.4 L719.6,1202.7 L723.3,1202.6 L727.1,1202.7 L730.8,1203.2 L734.6,1202.1 L738.3,1202.5 L742.1,1200.9 L745.8,1201.9 L749.6,1202.0 L753.3,1202.8 L757.0,1204.0 L760.8,1202.7 L764.5,1203.5 L768.3,1201.7 L772.0,1202.7 L775.8,1201.0 L779.5,1202.0 L783.3,1201.9 L787.0,1202.5 L790.8,1202.5 L794.5,1202.1 L798.2,1201.8 L802.0,1203.4 L805.7,1202.3 L809.5,1200.2 L813.2,1202.9 L817.0,1203.1 L820.7,1203.5 L824.5,1204.2 L828.2,1201.7 L831.9,1202.8 L835.7,1202.6 L839.4,1201.1 L843.2,1200.4 L846.9,1203.8 L850.7,1201.9 L854.4,1202.3 L858.2,1202.5 L861.9,1202.5 L865.6,1203.0 L869.4,1201.4 L873.1,1202.4 L876.9,1202.6 L880.6,1201.7 L884.4,1202.1 L888.1,1202.5 L891.9,1202.7 L895.6,1201.3 L899.4,1202.5 L903.1,1203.1 L906.8,1203.9 L910.6,1203.4 L914.3,1204.1 L918.1,1202.9 L921.8,1202.8 L925.6,1204.8 L929.3,1203.0 L933.1,1202.4 L936.8,1202.9 L940.5,1204.0 L944.3,1201.8 L948.0,1203.8 L951.8,1204.3 L953.5,1204.2" stroke="#482677"/>
<path d="M94.2,1202.5 L97.9,1201.8 L101.7,1202.3 L105.4,1201.1 L109.2,1201.5 L112.9,1202.8 L116.7,1203.2 L120.4,1201.9 L124.2,1202.3 L127.9,1202.9 L131.6,1204.2 L135.4,1204.5 L139.1,1202.4 L142.9,1202.0 L146.6,1201.9 L150.4,1204.0 L154.1,1201.7 L157.9,1203.2 L161.6,1202.3 L165.4,1202.2 L169.1,1203.4 L172.8,1203.2 L176.6,1204.6 L180.3,1203.5 L184.1,1204.3 L187.8,1202.1 L191.6,1202.5 L195.3,1201.6 L199.1,1202.1 L202.8,1203.1 L206.5,1202.1 L210.3,1202.8 L214.0,1201.8 L217.8,1202.1 L221.5,1203.4 L225.3,1202.4 L229.0,1202.3 L232.8,1202.6 L236.5,1201.4 L240.3,1200.6 L244.0,1202.6 L247.7,1202.6 L251.5,1204.4 L255.2,1202.3 L259.0,1202.6 L262.7,1204.3 L266.5,1201.8 L270.2,1201.5 L274.0,1202.8 L277.7,1202.4 L281.4,1202.9 L285.2,1201.2 L288.9,1203.4 L292.7,1202.2 L296.4,1199.9 L300.2,1201.7 L303.9,1201.3 L307.7,1201.9 L311.4,1202.8 L315.1,1201.7 L318.9,1201.2 L322.6,1202.6 L326.4,1201.2 L330.1,1200.2 L333.9,1200.4 L337.6,1202.9 L341.4,1202.2 L345.1,1202.8 L348.9,1200.1 L352.6,1200.5 L356.3,1200.3 L360.1,1201.8 L363.8,1202.0 L367.6,1200.7 L371.3,1200.6 L375.1,1201.4 L378.8,1200.4 L382.6,1199.8 L386.3,1200.0 L390.0,1201.2 L393.8,1202.1 L397.5,1200.2 L401.3,1199.6 L405.0,1199.9 L408.8,1199.9 L412.5,1199.9 L416.3,1198.4 L420.0,1198.9 L423.8,1198.5 L427.5,1199.3 L431.2,1198.7 L435.0,1197.6 L438.7,1198.4 L442.5,1198.3 L446.2,1196.9 L450.0,1194.9 L453.7,1195.4 L457.5,1193.5 L461.2,1194.3 L464.9,1193.7 L468.7,1193.8 L472.4,1191.7 L476.2,1188.4 L479.9,1187.9 L483.7,1185.4 L487.4,1183.3 L491.2,1181.6 L494.9,1179.4 L498.6,1177.4 L502.4,1176.4 L506.1,1178.0 L509.9,1181.3 L513.6,1184.8 L517.4,1188.4 L521.1,1190.2 L524.9,1192.6 L528.6,1192.1 L532.4,1196.2 L536.1,1195.4 L539.8,1193.6 L543.6,1196.9 L547.3,1198.3 L551.1,1197.7 L554.8,1196.8 L558.6,1198.6 L562.3,1198.1 L566.1,1198.9 L569.8,1199.7 L573.5,1196.4 L577.3,1199.7 L581.0,1200.5 L584.8,1200.6 L588.5,1199.9 L592.3,1200.0 L596.0,1199.8 L599.8,1200.5 L603.5,1202.2 L607.3,1200.3 L611.0,1201.2 L614.7,1201.3 L618.5,1202.5 L622.2,1201.7 L626.0,1201.9 L629.7,1201.3 L633.5,1202.8 L637.2,1201.3 L641.0,1201.3 L644.7,1202.6 L648.4,1202.2 L652.2,1202.4 L655.9,1200.7 L659.7,1204.2 L663.4,1202.1 L667.2,1203.4 L670.9,1202.2 L674.7,1201.0 L678.4,1202.5 L682.1,1201.8 L685.9,1202.8 L689.6,1200.1 L693.4,1201.1 L697.1,1200.9 L700.9,1203.4 L704.6,1203.2 L708.4,1201.1 L712.1,1202.4 L715.9,1202.4 L719.6,1201.9 L723.3,1203.5 L727.1,1201.5 L730.8,1202.3 L734.6,1201.8 L738.3,1203.0 L742.1,1201.8 L745.8,1203.1 L749.6,1201.4 L753.3,1201.3 L757.0,1201.5 L760.8,1201.9 L764.5,1201.8 L768.3,1204.8 L772.0,1201.7 L775.8,1202.8 L779.5,1202.4 L783.3,1202.8 L787.0,1203.9 L790.8,1203.1 L794.5,1201.9 L798.2,1201.2 L802.0,1203.2 L805.7,1203.5 L809.5,1201.2 L813.2,1203.5 L817.0,1200.6 L820.7,1202.6 L824.5,1203.6 L828.2,1201.7 L831.9,1201.1 L835.7,1204.1 L839.4,1201.2 L843.2,1203.0 L846.9,1201.3 L850.7,1203.2 L854.4,1204.3 L858.2,1202.3 L861.9,1201.9 L865.6,1200.8 L869.4,1201.1 L873.1,1202.2 L876.9,1203.1 L880.6,1203.4 L884.4,1203.2 L888.1,1203.7 L891.9,1203.2 L895.6,1204.8 L899.4,1202.7 L903.1,1202.9 L906.8,1200.4 L910.6,1202.2 L914.3,1203.4 L918.1,1202.4 L921.8,1204.2 L925.6,1203.6 L929.3,1204.8 L933.1,1201.6 L936.8,1202.4 L940.5,1204.1 L944.3,1203.1 L948.0,1202.1 L951.8,1202.5 L953.5,1202.6" stroke="#472d7b"/>
<path d="M94.2,1202.5 L97.9,1201.6 L101.7,1204.1 L105.4,1201.8 L109.2,1204.0 L112.9,1203.5 L116.7,1204.4 L120.4,1200.6 L124.2,1202.6 L127.9,1202.4 L131.6,1203.3 L135.4,1201.5 L139.1,1204.7 L142.9,1202.5 L146.6,1200.4 L150.4,1202.9 L154.1,1202.5 L157.9,1201.8 L161.6,1203.3 L165.4,1202.5 L169.1,1201.5 L172.8,1202.3 L176.6,1202.1 L180.3,1202.8 L184.1,1202.1 L187.8,1202.3 L191.6,1200.9 L195.3,1201.6 L199.1,1202.6 L202.8,1204.7 L206.5,1201.6 L210.3,1201.5 L214.0,1203.1 L217.8,1204.2 L221.5,1203.3 L225.3,1201.3 L229.0,1203.2 L232.8,1202.6 L236.5,1201.9 L240.3,1200.9 L244.0,1202.1 L247.7,1202.1 L251.5,1202.6 L255.2,1200.4 L259.0,1200.9 L262.7,1202.0 L266.5,1203.3 L270.2,1202.6 L274.0,1201.2 L277.7,1202.5 L281.4,1200.9 L285.2,1201.4 L288.9,1201.4 L292.7,1201.0 L296.4,1201.1 L300.2,1202.4 L303.9,1201.8 L307.7,1199.2 L311.4,1202.6 L315.1,1201.8 L318.9,1200.3 L322.6,1201.4 L326.4,1202.0 L330.1,1202.5 L333.9,1200.6 L337.6,1200.0 L341.4,1199.6 L345.1,1200.8 L348.9,1199.8 L352.6,1201.8 L356.3,1200.5 L360.1,1201.3 L363.8,1200.3 L367.6,1199.7 L371.3,1199.3 L375.1,1201.2 L378.8,1198.8 L382.6,1200.5 L386.3,1200.8 L390.0,1199.9 L393.8,1201.1 L397.5,1199.4 L401.3,1199.0 L405.0,1199.3 L408.8,1198.4 L412.5,1199.0 L416.3,1198.5 L420.0,1199.7 L423.8,1198.0 L427.5,1198.5 L431.2,1197.8 L435.0,1197.1 L438.7,1196.5 L442.5,1197.9 L446.2,1197.3 L450.0,1195.5 L453.7,1194.1 L457.5,1193.5 L461.2,1192.2 L464.9,1190.8 L468.7,1190.6 L472.4,1189.8 L476.2,1189.3 L479.9,1187.3 L483.7,1184.8 L487.4,1181.5 L491.2,1179.0 L494.9,1176.7 L498.6,1174.5 L502.4,1173.1 L506.1,1175.0 L509.9,1178.3 L513.6,1182.0 L517.4,1186.0 L521.1,1189.1 L524.9,1189.5 L528.6,1191.3 L532.4,1193.2 L536.1,1194.4 L539.8,1192.7 L543.6,1196.4 L547.3,1196.6 L551.1,1196.6 L554.8,1198.4 L558.6,1197.6 L562.3,1196.4 L566.1,1197.5 L569.8,1198.1 L573.5,1198.4 L577.3,1199.1 L581.0,1198.5 L584.8,1199.8 L588.5,1200.2 L592.3,1199.9 L596.0,1199.2 L599.8,1199.9 L603.5,1199.7 L607.3,1202.5 L611.0,1199.4 L614.7,1198.4 L618.5,1199.4 L622.2,1201.1 L626.0,1201.7 L629.7,1200.7 L633.5,1202.0 L637.2,1200.4 L641.0,1201.7 L644.7,1200.3 L648.4,1199.9 L652.2,1203.3 L655.9,1201.1 L659.7,1202.1 L663.4,1202.8 L667.2,1202.1 L670.9,1201.8 L674.7,1200.6 L678.4,1203.1 L682.1,1200.6 L685.9,1199.7 L689.6,1201.2 L693.4,1201.2 L697.1,1201.8 L700.9,1203.0 L704.6,1201.4 L708.4,1201.5 L712.1,1201.2 L715.9,1199.4 L719.6,1201.3 L723.3,1201.6 L727.1,1200.5 L730.8,1203.4 L734.6,1203.2 L738.3,1202.5 L742.1,1202.8 L745.8,1201.5 L749.6,1202.5 L753.3,1200.5 L757.0,1200.7 L760.8,1201.5 L764.5,1202.7 L768.3,1201.7 L772.0,1201.5 L775.8,1203.4 L779.5,1202.0 L783.3,1201.7 L787.0,1202.2 L790.8,1200.9 L794.5,1201.2 L798.2,1203.3 L802.0,1202.3 L805.7,1203.3 L809.5,1201.9 L813.2,1203.4 L817.0,1201.6 L820.7,1202.2 L824.5,1201.6 L828.2,1202.7 L831.9,1204.0 L835.7,1200.9 L839.4,1202.8 L843.2,1201.3 L846.9,1202.2 L850.7,1202.0 L854.4,1200.9 L858.2,1202.3 L861.9,1201.3 L865.6,1204.2 L869.4,1201.8 L873.1,1203.0 L876.9,1202.9 L880.6,1202.7 L884.4,1202.4 L888.1,1201.1 L891.9,1204.6 L895.6,1202.7 L899.4,1203.5 L903.1,1201.6 L906.8,1203.2 L910.6,1202.4 L914.3,1203.2 L918.1,1202.2 L921.8,1201.8 L925.6,1203.2 L929.3,1202.8 L933.1,1204.3 L936.8,1202.6 L940.5,1202.0 L944.3,1203.4 L948.0,1201.8 L951.8,1204.8 L953.5,1204.7" stroke="#46337f"/>
<path d="M94.2,1201.8 L97.9,1204.0 L101.7,1202.7 L105.4,1203.8 L109.2,1202.5 L112.9,1203.2 L116.7,1201.2 L120.4,1202.1 L124.2,1203.3 L127.9,1202.5 L131.6,1203.7 L135.4,1202.5 L139.1,1201.9 L142.9,1202.2 L146.6,1204.4 L150.4,1202.8 L154.1,1201.9 L157.9,1202.1 L161.6,1201.3 L165.4,1203.6 L169.1,1201.8 L172.8,1203.0 L176.6,1202.1 L180.3,1201.9 L184.1,1201.6 L187.8,1202.8 L191.6,1202.1 L195.3,1203.4 L199.1,1203.6 L202.8,1201.6 L206.5,1202.2 L210.3,1203.7 L214.0,1203.0 L217.8,1202.1 L221.5,1200.5 L225.3,1201.0 L229.0,1201.2 L232.8,1203.7 L236.5,1202.1 L240.3,1201.5 L244.0,1201.5 L247.7,1201.5 L251.5,1202.1 L255.2,1200.1 L259.0,1200.3 L262.7,1201.8 L266.5,1202.7 L270.2,1199.7 L274.0,1202.2 L277.7,1200.4 L281.4,1199.7 L285.2,1202.4 L288.9,1201.2 L292.7,1201.8 L296.4,1200.9 L300.2,1201.0 L303.9,1199.4 L307.7,1200.7 L311.4,1201.2 L315.1,1200.0 L318.9,1201.3 L322.6,1201.4 L326.4,1198.8 L330.1,1201.7 L333.9,1201.3 L337.6,1200.7 L341.4,1201.7 L345.1,1202.7 L348.9,1199.5 L352.6,1201.2 L356.3,1200.9 L360.1,1200.6 L363.8,1201.1 L367.6,1201.1 L371.3,1199.8 L375.1,1197.5 L378.8,1199.0 L382.6,1198.9 L386.3,1200.9 L390.0,1199.3 L393.8,1200.3 L397.5,1198.2 L401.3,1199.0 L405.0,1198.5 L408.8,1198.5 L412.5,1198.7 L416.3,1199.4 L420.0,1197.1 L423.8,1198.8 L427.5,1198.2 L431.2,1197.0 L435.0,1197.0 L438.7,1195.7 L442.5,1194.5 L446.2,1194.6 L450.0,1194.1 L453.7,1193.6 L457.5,1192.0 L461.2,1193.8 L464.9,1190.6 L468.7,1190.7 L472.4,1189.6 L476.2,1186.7 L479.9,1185.0 L483.7,1181.8 L487.4,1178.6 L491.2,1178.9 L494.9,1173.9 L498.6,1169.4 L502.4,1169.4 L506.1,1170.0 L509.9,1175.0 L513.6,1180.7 L517.4,1184.1 L521.1,1185.1 L524.9,1187.3 L528.6,1190.9 L532.4,1191.8 L536.1,1192.5 L539.8,1195.5 L543.6,1195.0 L547.3,1193.8 L551.1,1193.9 L554.8,1196.7 L558.6,1195.2 L562.3,1197.9 L566.1,1198.6 L569.8,1200.3 L573.5,1197.5 L577.3,1199.1 L581.0,1196.6 L584.8,1198.8 L588.5,1199.2 L592.3,1201.3 L596.0,1198.3 L599.8,1200.2 L603.5,1200.2 L607.3,1202.3 L611.0,1199.3 L614.7,1199.3 L618.5,1201.0 L622.2,1200.4 L626.0,1200.2 L629.7,1199.7 L633.5,1200.6 L637.2,1199.1 L641.0,1201.1 L644.7,1201.5 L648.4,1201.4 L652.2,1203.5 L655.9,1201.9 L659.7,1200.2 L663.4,1200.9 L667.2,1202.1 L670.9,1201.0 L674.7,1203.3 L678.4,1201.7 L682.1,1200.9 L685.9,1200.8 L689.6,1202.3 L693.4,1200.7 L697.1,1199.8 L700.9,1202.1 L704.6,1200.9 L708.4,1203.2 L712.1,1203.7 L715.9,1201.2 L719.6,1201.8 L723.3,1201.7 L727.1,1202.5 L730.8,1202.2 L734.6,1201.1 L738.3,1200.3 L742.1,1202.2 L745.8,1203.6 L749.6,1200.8 L753.3,1201.5 L757.0,1201.4 L760.8,1201.9 L764.5,1199.9 L768.3,1202.1 L772.0,1201.7 L775.8,1204.0 L779.5,1202.8 L783.3,1202.9 L787.0,1202.3 L790.8,1202.0 L794.5,1203.0 L798.2,1200.6 L802.0,1203.4 L805.7,1202.8 L809.5,1202.1 L813.2,1203.6 L817.0,1201.8 L820.7,1201.8 L824.5,1202.7 L828.2,1200.6 L831.9,1202.4 L835.7,1202.2 L839.4,1203.4 L843.2,1204.2 L846.9,1203.1 L850.7,1202.9 L854.4,1203.0 L858.2,1201.8 L861.9,1204.8 L865.6,1203.7 L869.4,1204.4 L873.1,1201.3 L876.9,1203.2 L880.6,1203.2 L884.4,1203.7 L888.1,1201.8 L891.9,1203.1 L895.6,1202.5 L899.4,1204.7 L903.1,1201.6 L906.8,1202.3 L910.6,1202.2 L914.3,1201.5 L918.1,1202.9 L921.8,1202.9 L925.6,1202.1 L929.3,1202.4 L933.1,1203.0 L936.8,1202.8 L940.5,1203.3 L944.3,1202.1 L948.0,1201.9 L951.8,1202.8 L953.5,1201.0" stroke="#443b84"/>
<path d="M94.2,1201.7 L97.9,1201.2 L101.7,1200.1 L105.4,1202.6 L109.2,1202.1 L112.9,1202.4 L116.7,1204.8 L120.4,1203.7 L124.2,1202.3 L127.9,1201.7 L131.6,1202.9 L135.4,1201.2 L139.1,1201.0 L142.9,1202.7 L146.6,1200.8 L150.4,1200.5 L154.1,1201.7 L157.9,1203.1 L161.6,1200.7 L165.4,1202.3 L169.1,1202.5 L172.8,1202.0 L176.6,1202.6 L180.3,1201.0 L184.1,1201.3 L187.8,1200.8 L191.6,1201.4 L195.3,1202.7 L199.1,1202.1 L202.8,1201.1 L206.5,1202.3 L210.3,1199.0 L214.0,1202.1 L217.8,1202.4 L221.5,1200.7 L225.3,1201.0 L229.0,1201.7 L232.8,1201.9 L236.5,1201.2 L240.3,1200.8 L244.0,1200.9 L247.7,1201.9 L251.5,1201.1 L255.2,1200.7 L259.0,1200.7 L262.7,1204.5 L266.5,1202.2 L270.2,1202.1 L274.0,1201.5 L277.7,1201.1 L281.4,1200.3 L285.2,1200.6 L288.9,1201.2 L292.7,1201.0 L296.4,1199.3 L300.2,1201.6 L303.9,1200.6 L307.7,1199.3 L311.4,1200.5 L315.1,1202.8 L318.9,1200.3 L322.6,1201.0 L326.4,1200.7 L330.1,1199.4 L333.9,1199.9 L337.6,1200.6 L341.4,1199.4 L345.1,1199.7 L348.9,1200.0 L352.6,1199.7 L356.3,1199.6 L360.1,1200.1 L363.8,1200.1 L367.6,1199.5 L371.3,1200.4 L375.1,1200.5 L378.8,1197.9 L382.6,1199.2 L386.3,1198.9 L390.0,1198.8 L393.8,1198.5 L397.5,1198.3 L401.3,1198.1 L405.0,1198.7 L408.8,1196.8 L412.5,1198.1 L416.3,1196.2 L420.0,1198.7 L423.8,1197.6 L427.5,1195.2 L431.2,1196.0 L435.0,1196.0 L438.7,1194.6 L442.5,1195.5 L446.2,1193.7 L450.0,1195.3 L453.7,1192.8 L457.5,1192.2 L461.2,1190.1 L464.9,1188.6 L468.7,1189.0 L472.4,1185.1 L476.2,1185.4 L479.9,1184.8 L483.7,1182.6 L487.4,1175.6 L491.2,1174.0 L494.9,1171.3 L498.6,1168.5 L502.4,1167.2 L506.1,1165.7 L509.9,1171.2 L513.6,1174.0 L517.4,1180.3 L521.1,1185.7 L524.9,1185.2 L528.6,1188.5 L532.4,1190.1 L536.1,1189.7 L539.8,1192.6 L543.6,1192.2 L547.3,1194.2 L551.1,1195.6 L554.8,1195.0 L558.6,1196.6 L562.3,1195.3 L566.1,1196.0 L569.8,1197.3 L573.5,1197.1 L577.3,1197.4 L581.0,1198.5 L584.8,1197.6 L588.5,1199.0 L592.3,1198.3 L596.0,1200.1 L599.8,1199.2 L603.5,1199.0 L607.3,1200.3 L611.0,1200.1 L614.7,1200.3 L618.5,1199.2 L622.2,1200.7 L626.0,1199.6 L629.7,1198.7 L633.5,1199.9 L637.2,1201.9 L641.0,1200.3 L644.7,1199.5 L648.4,1200.8 L652.2,1199.5 L655.9,1200.1 L659.7,1200.3 L663.4,1201.1 L667.2,1201.4 L670.9,1201.2 L674.7,1200.9 L678.4,1200.5 L682.1,1200.7 L685.9,1201.4 L689.6,1201.1 L693.4,1200.8 L697.1,1202.8 L700.9,1202.1 L704.6,1202.1 L708.4,1201.6 L712.1,1201.7 L715.9,1201.7 L719.6,1202.4 L723.3,1200.9 L727.1,1201.3 L730.8,1203.2 L734.6,1201.6 L738.3,1202.8 L742.1,1200.0 L745.8,1202.2 L749.6,1202.1 L753.3,1201.7 L757.0,1202.0 L760.8,1201.9 L764.5,1200.3 L768.3,1201.6 L772.0,1201.1 L775.8,1200.8 L779.5,1202.9 L783.3,1200.3 L787.0,1201.3 L790.8,1201.1 L794.5,1202.9 L798.2,1201.2 L802.0,1201.7 L805.7,1202.6 L809.5,1199.9 L813.2,1201.6 L817.0,1202.4 L820.7,1202.0 L824.5,1201.3 L828.2,1201.1 L831.9,1201.7 L835.7,1201.0 L839.4,1200.8 L843.2,1203.5 L846.9,1202.8 L850.7,1203.2 L854.4,1202.2 L858.2,1200.9 L861.9,1201.7 L865.6,1203.4 L869.4,1202.7 L873.1,1201.4 L876.9,1202.9 L880.6,1202.5 L884.4,1202.1 L888.1,1204.2 L891.9,1201.7 L895.6,1202.1 L899.4,1201.9 L903.1,1203.5 L906.8,1203.3 L910.6,1203.1 L914.3,1202.3 L918.1,1202.5 L921.8,1202.4 L925.6,1200.8 L929.3,1201.3 L933.1,1203.3 L936.8,1203.2 L940.5,1200.9 L944.3,1202.9 L948.0,1201.3 L951.8,1201.1 L953.5,1203.2" stroke="#414287"/>
<path d="M94.2,1203.6 L97.9,1202.7 L101.7,1202.5 L105.4,1203.4 L109.2,1203.3 L112.9,1202.1 L116.7,1202.4 L120.4,1203.8 L124.2,1202.7 L127.9,1201.6 L131.6,1203.3 L135.4,1203.0 L139.1,1200.5 L142.9,1200.7 L146.6,1203.6 L150.4,1203.3 L154.1,1201.6 L157.9,1203.1 L161.6,1202.2 L165.4,1202.4 L169.1,1201.3 L172.8,1204.4 L176.6,1204.0 L180.3,1203.0 L184.1,1200.8 L187.8,1201.9 L191.6,1203.4 L195.3,1201.3 L199.1,1201.0 L202.8,1201.9 L206.5,1202.0 L210.3,1201.2 L214.0,1200.4 L217.8,1201.4 L221.5,1201.0 L225.3,1201.5 L229.0,1201.8 L232.8,1202.3 L236.5,1201.1 L240.3,1201.7 L244.0,1201.6 L247.7,1200.4 L251.5,1200.8 L255.2,1200.4 L259.0,1202.7 L262.7,1200.6 L266.5,1201.7 L270.2,1201.8 L274.0,1201.8 L277.7,1199.7 L281.4,1200.1 L285.2,1201.5 L288.9,1201.9 L292.7,1200.7 L296.4,1201.1 L300.2,1199.0 L303.9,1202.0 L307.7,1202.3 L311.4,1200.7 L315.1,1200.4 L318.9,1200.2 L322.6,1199.5 L326.4,1198.1 L330.1,1200.4 L333.9,1200.5 L337.6,1201.6 L341.4,1199.6 L345.1,1198.9 L348.9,1199.9 L352.6,1198.4 L356.3,1199.4 L360.1,1197.8 L363.8,1198.8 L367.6,1200.1 L371.3,1199.5 L375.1,1200.2 L378.8,1200.3 L382.6,1198.2 L386.3,1197.4 L390.0,1196.1 L393.8,1198.0 L397.5,1197.9 L401.3,1198.6 L405.0,1196.3 L408.8,1196.6 L412.5,1197.3 L416.3,1195.7 L420.0,1195.6 L423.8,1197.5 L427.5,1194.6 L431.2,1194.7 L435.0,1194.8 L438.7,1194.3 L442.5,1191.6 L446.2,1191.2 L450.0,1190.1 L453.7,1192.3 L457.5,1190.9 L461.2,1188.3 L464.9,1189.2 L468.7,1187.3 L472.4,1186.6 L476.2,1181.0 L479.9,1179.6 L483.7,1177.2 L487.4,1174.2 L491.2,1171.4 L494.9,1167.7 L498.6,1163.3 L502.4,1162.3 L506.1,1160.5 L509.9,1165.6 L513.6,1171.1 L517.4,1174.2 L521.1,1179.6 L524.9,1182.2 L528.6,1185.8 L532.4,1189.7 L536.1,1188.6 L539.8,1191.9 L543.6,1190.6 L547.3,1194.2 L551.1,1195.4 L554.8,1193.9 L558.6,1194.4 L562.3,1195.3 L566.1,1197.1 L569.8,1195.5 L573.5,1198.2 L577.3,1197.6 L581.0,1198.2 L584.8,1198.1 L588.5,1197.2 L592.3,1198.9 L596.0,1197.9 L599.8,1198.0 L603.5,1200.5 L607.3,1200.2 L611.0,1199.5 L614.7,1199.9 L618.5,1199.1 L622.2,1201.4 L626.0,1198.9 L629.7,1199.0 L633.5,1200.0 L637.2,1201.3 L641.0,1200.0 L644.7,1200.6 L648.4,1199.6 L652.2,1200.3 L655.9,1199.6 L659.7,1200.8 L663.4,1199.0 L667.2,1202.8 L670.9,1201.6 L674.7,1200.1 L678.4,1202.2 L682.1,1200.0 L685.9,1202.0 L689.6,1200.8 L693.4,1201.8 L697.1,1201.4 L700.9,1200.8 L704.6,1201.1 L708.4,1201.5 L712.1,1199.0 L715.9,1201.2 L719.6,1202.1 L723.3,1200.3 L727.1,1200.5 L730.8,1200.1 L734.6,1199.6 L738.3,1202.3 L742.1,1200.4 L745.8,1200.4 L749.6,1201.5 L753.3,1201.3 L757.0,1204.5 L760.8,1202.2 L764.5,1199.9 L768.3,1203.4 L772.0,1202.2 L775.8,1201.4 L779.5,1201.2 L783.3,1200.1 L787.0,1203.5 L790.8,1201.8 L794.5,1201.0 L798.2,1203.1 L802.0,1201.9 L805.7,1200.0 L809.5,1200.6 L813.2,1201.4 L817.0,1204.5 L820.7,1202.1 L824.5,1201.6 L828.2,1202.3 L831.9,1202.1 L835.7,1199.0 L839.4,1202.3 L843.2,1203.0 L846.9,1201.9 L850.7,1202.4 L854.4,1202.4 L858.2,1202.2 L861.9,1201.4 L865.6,1202.0 L869.4,1203.4 L873.1,1202.4 L876.9,1201.8 L880.6,1202.7 L884.4,1201.1 L888.1,1201.5 L891.9,1203.3 L895.6,1202.0 L899.4,1200.4 L903.1,1200.8 L906.8,1202.4 L910.6,1201.5 L914.3,1203.0 L918.1,1203.8 L921.8,1201.9 L925.6,1202.2 L929.3,1201.9 L933.1,1202.5 L936.8,1202.1 L940.5,1203.0 L944.3,1202.0 L948.0,1201.7 L951.8,1202.6 L953.5,1201.7" stroke="#3e4a89"/>
<path d="M94.2,1200.6 L97.9,1202.5 L101.7,1200.4 L105.4,1200.2 L109.2,1201.1 L112.9,1199.6 L116.7,1201.4 L120.4,1202.7 L124.2,1201.4 L127.9,1202.3 L131.6,1203.2 L135.4,1203.1 L139.1,1199.6 L142.9,1202.4 L146.6,1201.8 L150.4,1202.4 L154.1,1201.6 L157.9,1202.0 L161.6,1202.1 L165.4,1202.9 L169.1,1203.0 L172.8,1202.4 L176.6,1201.3 L180.3,1199.5 L184.1,1200.5 L187.8,1199.7 L191.6,1201.0 L195.3,1201.5 L199.1,1202.7 L202.8,1201.4 L206.5,1203.5 L210.3,1201.6 L214.0,1199.7 L217.8,1201.0 L221.5,1200.1 L225.3,1201.6 L229.0,1202.5 L232.8,1201.6 L236.5,1201.5 L240.3,1199.9 L244.0,1199.1 L247.7,1201.7 L251.5,1201.3 L255.2,1201.0 L259.0,1201.2 L262.7,1202.0 L266.5,1200.6 L270.2,1200.3 L274.0,1200.3 L277.7,1201.8 L281.4,1200.6 L285.2,1202.2 L288.9,1199.5 L292.7,1201.3 L296.4,1200.6 L300.2,1200.7 L303.9,1200.7 L307.7,1201.1 L311.4,1201.8 L315.1,1198.2 L318.9,1199.6 L322.6,1199.5 L326.4,1197.6 L330.1,1199.7 L333.9,1199.0 L337.6,1199.4 L341.4,1198.1 L345.1,1198.7 L348.9,1198.8 L352.6,1199.2 L356.3,1198.6 L360.1,1197.6 L363.8,1200.6 L367.6,1198.6 L371.3,1198.7 L375.1,1198.4 L378.8,1199.9 L382.6,1197.1 L386.3,1198.4 L390.0,1197.6 L393.8,1197.7 L397.5,1198.6 L401.3,1197.1 L405.0,1198.2 L408.8,1197.0 L412.5,1196.1 L416.3,1195.5 L420.0,1195.1 L423.8,1194.9 L427.5,1192.2 L431.2,1193.4 L435.0,1194.5 L438.7,1193.4 L442.5,1192.8 L446.2,1191.6 L450.0,1191.2 L453.7,1190.6 L457.5,1187.2 L461.2,1187.6 L464.9,1186.5 L468.7,1185.0 L472.4,1183.0 L476.2,1179.3 L479.9,1177.6 L483.7,1174.0 L487.4,1174.8 L491.2,1167.6 L494.9,1162.8 L498.6,1158.0 L502.4,1157.0 L506.1,1158.3 L509.9,1158.8 L513.6,1165.7 L517.4,1172.7 L521.1,1176.5 L524.9,1178.7 L528.6,1181.6 L532.4,1184.5 L536.1,1188.2 L539.8,1186.2 L543.6,1191.1 L547.3,1191.2 L551.1,1193.5 L554.8,1191.7 L558.6,1193.2 L562.3,1193.4 L566.1,1194.7 L569.8,1195.4 L573.5,1195.6 L577.3,1198.0 L581.0,1195.6 L584.8,1196.0 L588.5,1197.6 L592.3,1197.5 L596.0,1197.4 L599.8,1196.4 L603.5,1197.8 L607.3,1198.3 L611.0,1199.0 L614.7,1200.1 L618.5,1199.4 L622.2,1198.8 L626.0,1199.3 L629.7,1199.0 L633.5,1198.5 L637.2,1198.9 L641.0,1199.2 L644.7,1198.9 L648.4,1199.4 L652.2,1199.8 L655.9,1199.4 L659.7,1201.6 L663.4,1198.7 L667.2,1201.3 L670.9,1199.3 L674.7,1200.1 L678.4,1199.1 L682.1,1200.3 L685.9,1201.3 L689.6,1199.4 L693.4,1200.3 L697.1,1200.4 L700.9,1200.5 L704.6,1199.6 L708.4,1199.9 L712.1,1200.5 L715.9,1202.3 L719.6,1201.2 L723.3,1200.8 L727.1,1199.2 L730.8,1200.6 L734.6,1201.1 L738.3,1199.9 L742.1,1201.2 L745.8,1201.1 L749.6,1201.0 L753.3,1202.7 L757.0,1200.3 L760.8,1200.8 L764.5,1201.5 L768.3,1202.4 L772.0,1201.1 L775.8,1200.0 L779.5,1202.0 L783.3,1202.5 L787.0,1201.0 L790.8,1203.1 L794.5,1203.7 L798.2,1202.0 L802.0,1202.3 L805.7,1201.9 L809.5,1202.2 L813.2,1201.3 L817.0,1201.9 L820.7,1202.3 L824.5,1202.2 L828.2,1201.1 L831.9,1200.8 L835.7,1200.9 L839.4,1201.1 L843.2,1204.8 L846.9,1202.8 L850.7,1202.2 L854.4,1201.7 L858.2,1203.5 L861.9,1200.5 L865.6,1201.6 L869.4,1202.6 L873.1,1201.8 L876.9,1202.3 L880.6,1202.7 L884.4,1201.5 L888.1,1202.5 L891.9,1203.4 L895.6,1202.7 L899.4,1202.2 L903.1,1203.2 L906.8,1200.9 L910.6,1203.2 L914.3,1200.4 L918.1,1201.3 L921.8,1203.1 L925.6,1202.0 L929.3,1201.0 L933.1,1202.4 L936.8,1203.4 L940.5,1202.1 L944.3,1200.3 L948.0,1203.7 L951.8,1201.7 L953.5,1202.3" stroke="#3b528b"/>
<path d="M94.2,1203.4 L97.9,1203.6 L101.7,1201.3 L105.4,1202.6 L109.2,1203.4 L112.9,1199.5 L116.7,1201.6 L120.4,1202.0 L124.2,1201.0 L127.9,1202.4 L131.6,1200.1 L135.4,1203.1 L139.1,1202.9 L142.9,1201.7 L146.6,1202.3 L150.4,1200.2 L154.1,1203.1 L157.9,1202.2 L161.6,1201.2 L165.4,1200.9 L169.1,1200.4 L172.8,1201.1 L176.6,1199.2 L180.3,1201.8 L184.1,1201.1 L187.8,1200.4 L191.6,1201.6 L195.3,1201.5 L199.1,1201.6 L202.8,1201.8 L206.5,1202.2 L210.3,1201.6 L214.0,1202.6 L217.8,1200.6 L221.5,1202.5 L225.3,1198.9 L229.0,1199.2 L232.8,1199.8 L236.5,1201.0 L240.3,1201.3 L244.0,1199.5 L247.7,1200.5 L251.5,1200.1 L255.2,1201.3 L259.0,1199.5 L262.7,1201.3 L266.5,1200.3 L270.2,1202.1 L274.0,1201.0 L277.7,1199.8 L281.4,1200.6 L285.2,1200.6 L288.9,1199.3 L292.7,1200.1 L296.4,1198.7 L300.2,1202.2 L303.9,1199.2 L307.7,1199.2 L311.4,1201.1 L315.1,1200.8 L318.9,1198.6 L322.6,1200.4 L326.4,1199.9 L330.1,1198.6 L333.9,1199.4 L337.6,1198.5 L341.4,1199.7 L345.1,1198.4 L348.9,1197.5 L352.6,1198.2 L356.3,1200.5 L360.1,1197.5 L363.8,1198.0 L367.6,1198.8 L371.3,1196.4 L375.1,1199.3 L378.8,1195.5 L382.6,1197.8 L386.3,1195.4 L390.0,1196.8 L393.8,1197.8 L397.5,1196.2 L401.3,1195.7 L405.0,1195.1 L408.8,1194.3 L412.5,1195.9 L416.3,1194.1 L420.0,1193.6 L423.8,1194.1 L427.5,1194.2 L431.2,1193.8 L435.0,1191.5 L438.7,1190.8 L442.5,1191.8 L446.2,1191.5 L450.0,1188.1 L453.7,1189.8 L457.5,1187.1 L461.2,1186.7 L464.9,1186.2 L468.7,1182.7 L472.4,1181.0 L476.2,1177.1 L479.9,1173.5 L483.7,1172.9 L487.4,1167.7 L491.2,1163.7 L494.9,1160.8 L498.6,1156.5 L502.4,1150.5 L506.1,1151.2 L509.9,1153.0 L513.6,1159.7 L517.4,1166.2 L521.1,1172.2 L524.9,1175.6 L528.6,1178.5 L532.4,1183.0 L536.1,1186.1 L539.8,1186.6 L543.6,1189.7 L547.3,1190.2 L551.1,1189.5 L554.8,1189.3 L558.6,1192.0 L562.3,1194.1 L566.1,1193.0 L569.8,1196.5 L573.5,1195.5 L577.3,1193.8 L581.0,1195.0 L584.8,1197.4 L588.5,1198.0 L592.3,1195.9 L596.0,1197.1 L599.8,1197.9 L603.5,1197.1 L607.3,1198.4 L611.0,1199.8 L614.7,1197.3 L618.5,1198.9 L622.2,1199.4 L626.0,1199.8 L629.7,1198.4 L633.5,1199.5 L637.2,1198.2 L641.0,1199.2 L644.7,1198.0 L648.4,1199.5 L652.2,1199.9 L655.9,1201.3 L659.7,1200.6 L663.4,1198.9 L667.2,1196.7 L670.9,1201.0 L674.7,1200.8 L678.4,1199.5 L682.1,1199.5 L685.9,1200.7 L689.6,1200.0 L693.4,1201.7 L697.1,1200.5 L700.9,1199.4 L704.6,1198.7 L708.4,1200.6 L712.1,1200.7 L715.9,1200.1 L719.6,1199.5 L723.3,1200.1 L727.1,1201.4 L730.8,1200.4 L734.6,1199.8 L738.3,1201.5 L742.1,1202.1 L745.8,1200.4 L749.6,1200.6 L753.3,1200.0 L757.0,1200.9 L760.8,1201.7 L764.5,1201.5 L768.3,1202.1 L772.0,1202.1 L775.8,1201.7 L779.5,1201.7 L783.3,1200.1 L787.0,1202.5 L790.8,1201.4 L794.5,1201.9 L798.2,1199.9 L802.0,1201.2 L805.7,1201.8 L809.5,1200.7 L813.2,1201.4 L817.0,1202.0 L820.7,1200.0 L824.5,1200.9 L828.2,1199.9 L831.9,1200.5 L835.7,1200.9 L839.4,1201.5 L843.2,1202.7 L846.9,1201.0 L850.7,1201.6 L854.4,1201.1 L858.2,1201.8 L861.9,1202.5 L865.6,1202.8 L869.4,1201.1 L873.1,1200.6 L876.9,1202.1 L880.6,1201.4 L884.4,1200.5 L888.1,1202.7 L891.9,1202.3 L895.6,1203.0 L899.4,1200.8 L903.1,1201.7 L906.8,1202.4 L910.6,1203.6 L914.3,1202.2 L918.1,1201.1 L921.8,1202.4 L925.6,1202.5 L929.3,1201.5 L933.1,1203.3 L936.8,1202.1 L940.5,1201.5 L944.3,1202.9 L948.0,1203.0 L951.8,1201.9 L953.5,1202.3" stroke="#375a8c"/>
<path d="M94.2,1201.2 L97.9,1200.0 L101.7,1201.4 L105.4,1201.4 L109.2,1201.0 L112.9,1203.0 L116.7,1202.3 L120.4,1201.1 L124.2,1200.9 L127.9,1202.3 L131.6,1201.7 L135.4,1201.5 L139.1,1201.5 L142.9,1200.6 L146.6,1201.2 L150.4,1201.1 L154.1,1202.6 L157.9,1202.2 L161.6,1200.9 L165.4,1202.7 L169.1,1200.8 L172.8,1201.7 L176.6,1201.8 L180.3,1200.4 L184.1,1201.7 L187.8,1201.8 L191.6,1201.6 L195.3,1200.8 L199.1,1198.2 L202.8,1202.9 L206.5,1200.8 L210.3,1201.0 L214.0,1199.7 L217.8,1201.0 L221.5,1203.0 L225.3,1199.3 L229.0,1201.6 L232.8,1200.5 L236.5,1201.8 L240.3,1201.4 L244.0,1200.8 L247.7,1199.4 L251.5,1199.4 L255.2,1200.7 L259.0,1199.6 L262.7,1200.4 L266.5,1199.9 L270.2,1199.8 L274.0,1199.3 L277.7,1200.4 L281.4,1199.9 L285.2,1199.4 L288.9,1199.5 L292.7,1200.3 L296.4,1197.8 L300.2,1199.8 L303.9,1198.5 L307.7,1199.0 L311.4,1197.9 L315.1,1201.1 L318.9,1196.9 L322.6,1199.0 L326.4,1199.9 L330.1,1198.5 L333.9,1196.3 L337.6,1197.9 L341.4,1199.4 L345.1,1198.5 L348.9,1196.7 L352.6,1199.2 L356.3,1197.9 L360.1,1197.8 L363.8,1195.2 L367.6,1197.5 L371.3,1195.7 L375.1,1197.5 L378.8,1197.3 L382.6,1195.4 L386.3,1195.5 L390.0,1197.6 L393.8,1195.0 L397.5,1194.7 L401.3,1195.6 L405.0,1194.5 L408.8,1194.1 L412.5,1194.5 L416.3,1194.2 L420.0,1193.8 L423.8,1193.0 L427.5,1193.5 L431.2,1191.6 L435.0,1192.5 L438.7,1190.2 L442.5,1189.6 L446.2,1189.7 L450.0,1186.9 L453.7,1184.7 L457.5,1184.2 L461.2,1185.5 L464.9,1181.3 L468.7,1180.4 L472.4,1178.6 L476.2,1176.7 L479.9,1173.2 L483.7,1168.4 L487.4,1165.3 L491.2,1161.6 L494.9,1157.1 L498.6,1151.8 L502.4,1146.5 L506.1,1142.6 L509.9,1147.1 L513.6,1152.1 L517.4,1160.4 L521.1,1167.2 L524.9,1171.5 L528.6,1175.5 L532.4,1180.8 L536.1,1183.1 L539.8,1183.0 L543.6,1185.7 L547.3,1187.0 L551.1,1189.3 L554.8,1190.3 L558.6,1190.4 L562.3,1192.1 L566.1,1193.5 L569.8,1193.0 L573.5,1192.7 L577.3,1195.2 L581.0,1193.6 L584.8,1194.4 L588.5,1196.3 L592.3,1195.8 L596.0,1196.2 L599.8,1195.8 L603.5,1196.0 L607.3,1198.2 L611.0,1198.4 L614.7,1196.3 L618.5,1197.4 L622.2,1197.2 L626.0,1197.5 L629.7,1196.4 L633.5,1199.3 L637.2,1197.1 L641.0,1199.1 L644.7,1197.7 L648.4,1197.3 L652.2,1200.0 L655.9,1198.4 L659.7,1199.2 L663.4,1199.3 L667.2,1199.0 L670.9,1200.2 L674.7,1200.2 L678.4,1198.7 L682.1,1198.6 L685.9,1200.1 L689.6,1201.0 L693.4,1197.4 L697.1,1198.7 L700.9,1199.5 L704.6,1200.9 L708.4,1200.5 L712.1,1199.8 L715.9,1201.0 L719.6,1198.6 L723.3,1200.0 L727.1,1199.8 L730.8,1201.3 L734.6,1201.2 L738.3,1201.2 L742.1,1200.2 L745.8,1200.7 L749.6,1200.8 L753.3,1200.3 L757.0,1200.4 L760.8,1199.2 L764.5,1200.9 L768.3,1201.7 L772.0,1200.8 L775.8,1199.4 L779.5,1201.4 L783.3,1200.8 L787.0,1201.3 L790.8,1200.6 L794.5,1200.8 L798.2,1201.8 L802.0,1201.3 L805.7,1200.2 L809.5,1200.1 L813.2,1200.3 L817.0,1200.4 L820.7,1201.5 L824.5,1201.6 L828.2,1200.4 L831.9,1202.4 L835.7,1201.4 L839.4,1203.2 L843.2,1201.7 L846.9,1202.1 L850.7,1202.6 L854.4,1200.9 L858.2,1202.2 L861.9,1201.8 L865.6,1201.8 L869.4,1202.3 L873.1,1200.2 L876.9,1202.1 L880.6,1201.4 L884.4,1202.9 L888.1,1202.1 L891.9,1202.0 L895.6,1202.0 L899.4,1202.3 L903.1,1201.6 L906.8,1200.2 L910.6,1201.9 L914.3,1201.9 L918.1,1202.2 L921.8,1199.4 L925.6,1200.3 L929.3,1201.3 L933.1,1201.2 L936.8,1202.6 L940.5,1202.0 L944.3,1201.7 L948.0,1201.8 L951.8,1202.8 L953.5,1202.7" stroke="#34618d"/>
<path d="M94.2,1202.0 L97.9,1201.7 L101.7,1201.1 L105.4,1201.3 L109.2,1199.5 L112.9,1200.6 L116.7,1202.5 L120.4,1200.3 L124.2,1202.5 L127.9,1201.1 L131.6,1202.3 L135.4,1201.9 L139.1,1199.8 L142.9,1201.6 L146.6,1201.6 L150.4,1201.5 L154.1,1201.2 L157.9,1199.5 L161.6,1202.0 L165.4,1202.1 L169.1,1200.2 L172.8,1202.3 L176.6,1201.1 L180.3,1199.6 L184.1,1200.7 L187.8,1201.1 L191.6,1201.3 L195.3,1201.4 L199.1,1201.1 L202.8,1200.3 L206.5,1199.2 L210.3,1199.4 L214.0,1200.9 L217.8,1201.0 L221.5,1199.6 L225.3,1201.9 L229.0,1200.6 L232.8,1200.4 L236.5,1201.1 L240.3,1201.0 L244.0,1199.6 L247.7,1201.5 L251.5,1200.7 L255.2,1200.4 L259.0,1199.6 L262.7,1201.0 L266.5,1198.5 L270.2,1199.8 L274.0,1199.7 L277.7,1199.7 L281.4,1199.9 L285.2,1200.2 L288.9,1198.0 L292.7,1198.9 L296.4,1199.0 L300.2,1197.9 L303.9,1199.4 L307.7,1198.1 L311.4,1198.6 L315.1,1199.3 L318.9,1197.6 L322.6,1199.7 L326.4,1197.5 L330.1,1198.9 L333.9,1197.5 L337.6,1196.4 L341.4,1197.0 L345.1,1198.0 L348.9,1197.4 L352.6,1197.5 L356.3,1198.1 L360.1,1197.9 L363.8,1196.6 L367.6,1196.0 L371.3,1197.9 L375.1,1196.1 L378.8,1195.3 L382.6,1195.5 L386.3,1196.3 L390.0,1194.0 L393.8,1195.9 L397.5,1193.8 L401.3,1192.5 L405.0,1195.7 L408.8,1193.1 L412.5,1192.6 L416.3,1192.3 L420.0,1192.7 L423.8,1191.8 L427.5,1192.3 L431.2,1190.1 L435.0,1189.1 L438.7,1189.5 L442.5,1189.1 L446.2,1187.5 L450.0,1186.1 L453.7,1185.0 L457.5,1183.7 L461.2,1182.0 L464.9,1181.6 L468.7,1181.0 L472.4,1175.6 L476.2,1172.2 L479.9,1171.9 L483.7,1167.5 L487.4,1162.3 L491.2,1157.0 L494.9,1151.9 L498.6,1145.7 L502.4,1141.9 L506.1,1137.4 L509.9,1136.5 L513.6,1142.4 L517.4,1149.4 L521.1,1158.5 L524.9,1164.9 L528.6,1171.3 L532.4,1174.2 L536.1,1179.4 L539.8,1180.6 L543.6,1185.6 L547.3,1185.9 L551.1,1185.7 L554.8,1188.1 L558.6,1188.7 L562.3,1191.4 L566.1,1189.2 L569.8,1190.9 L573.5,1192.2 L577.3,1192.4 L581.0,1193.0 L584.8,1192.4 L588.5,1194.1 L592.3,1196.1 L596.0,1195.4 L599.8,1194.2 L603.5,1195.2 L607.3,1196.5 L611.0,1195.7 L614.7,1196.4 L618.5,1196.1 L622.2,1198.4 L626.0,1197.9 L629.7,1196.6 L633.5,1197.6 L637.2,1197.2 L641.0,1195.8 L644.7,1198.1 L648.4,1197.7 L652.2,1198.7 L655.9,1198.8 L659.7,1198.4 L663.4,1199.8 L667.2,1200.6 L670.9,1197.3 L674.7,1198.8 L678.4,1197.7 L682.1,1198.8 L685.9,1198.9 L689.6,1198.5 L693.4,1198.5 L697.1,1200.4 L700.9,1198.2 L704.6,1200.4 L708.4,1199.3 L712.1,1197.1 L715.9,1199.5 L719.6,1198.1 L723.3,1200.1 L727.1,1199.2 L730.8,1199.8 L734.6,1199.5 L738.3,1200.8 L742.1,1201.0 L745.8,1199.8 L749.6,1201.7 L753.3,1201.0 L757.0,1199.6 L760.8,1200.9 L764.5,1201.2 L768.3,1201.5 L772.0,1200.3 L775.8,1200.8 L779.5,1200.4 L783.3,1200.8 L787.0,1198.9 L790.8,1201.1 L794.5,1202.6 L798.2,1200.6 L802.0,1200.8 L805.7,1200.7 L809.5,1202.4 L813.2,1199.8 L817.0,1200.9 L820.7,1201.0 L824.5,1202.5 L828.2,1200.6 L831.9,1201.1 L835.7,1199.8 L839.4,1201.5 L843.2,1202.3 L846.9,1201.0 L850.7,1202.1 L854.4,1200.8 L858.2,1202.3 L861.9,1201.4 L865.6,1201.5 L869.4,1201.3 L873.1,1201.8 L876.9,1202.1 L880.6,1201.4 L884.4,1202.0 L888.1,1201.3 L891.9,1201.7 L895.6,1203.6 L899.4,1201.6 L903.1,1200.2 L906.8,1201.3 L910.6,1201.0 L914.3,1201.2 L918.1,1202.1 L921.8,1202.9 L925.6,1200.9 L929.3,1200.7 L933.1,1201.1 L936.8,1201.3 L940.5,1201.4 L944.3,1201.8 L948.0,1201.5 L951.8,1201.8 L953.5,1201.5" stroke="#31688e"/>
<path d="M94.2,1202.0 L97.9,1202.7 L101.7,1199.5 L105.4,1199.6 L109.2,1202.1 L112.9,1199.4 L116.7,1200.7 L120.4,1201.0 L124.2,1200.9 L127.9,1201.0 L131.6,1199.4 L135.4,1200.6 L139.1,1202.4 L142.9,1198.7 L146.6,1199.8 L150.4,1201.6 L154.1,1200.9 L157.9,1201.3 L161.6,1200.4 L165.4,1200.1 L169.1,1200.2 L172.8,1200.9 L176.6,1201.1 L180.3,1199.5 L184.1,1200.3 L187.8,1198.1 L191.6,1200.9 L195.3,1199.4 L199.1,1200.0 L202.8,1200.7 L206.5,1198.7 L210.3,1199.8 L214.0,1200.7 L217.8,1200.1 L221.5,1198.8 L225.3,1200.8 L229.0,1198.4 L232.8,1199.0 L236.5,1199.8 L240.3,1198.2 L244.0,1197.8 L247.7,1198.8 L251.5,1199.1 L255.2,1197.5 L259.0,1197.8 L262.7,1199.9 L266.5,1199.2 L270.2,1199.1 L274.0,1199.2 L277.7,1200.1 L281.4,1197.9 L285.2,1198.5 L288.9,1198.4 L292.7,1197.1 L296.4,1198.9 L300.2,1198.3 L303.9,1197.8 L307.7,1198.4 L311.4,1198.0 L315.1,1197.0 L318.9,1197.7 L322.6,1196.3 L326.4,1198.1 L330.1,1197.0 L333.9,1198.4 L337.6,1197.1 L341.4,1197.5 L345.1,1195.4 L348.9,1195.8 L352.6,1195.8 L356.3,1194.4 L360.1,1194.6 L363.8,1195.1 L367.6,1196.2 L371.3,1196.6 L375.1,1195.1 L378.8,1195.2 L382.6,1195.1 L386.3,1194.5 L390.0,1195.5 L393.8,1192.2 L397.5,1194.3 L401.3,1193.5 L405.0,1192.0 L408.8,1193.6 L412.5,1190.8 L416.3,1190.3 L420.0,1190.9 L423.8,1191.1 L427.5,1189.9 L431.2,1190.4 L435.0,1186.7 L438.7,1187.1 L442.5,1186.9 L446.2,1186.1 L450.0,1183.6 L453.7,1181.5 L457.5,1182.5 L461.2,1180.5 L464.9,1179.6 L468.7,1175.3 L472.4,1173.3 L476.2,1168.3 L479.9,1167.4 L483.7,1163.9 L487.4,1159.9 L491.2,1153.2 L494.9,1150.0 L498.6,1141.8 L502.4,1136.4 L506.1,1132.4 L509.9,1130.1 L513.6,1130.7 L517.4,1139.2 L521.1,1151.5 L524.9,1159.1 L528.6,1163.9 L532.4,1171.0 L536.1,1174.7 L539.8,1178.7 L543.6,1180.1 L547.3,1182.2 L551.1,1184.2 L554.8,1186.1 L558.6,1188.2 L562.3,1189.1 L566.1,1189.8 L569.8,1189.1 L573.5,1190.9 L577.3,1192.0 L581.0,1191.2 L584.8,1191.9 L588.5,1193.6 L592.3,1194.0 L596.0,1193.2 L599.8,1193.9 L603.5,1195.4 L607.3,1194.7 L611.0,1195.3 L614.7,1194.4 L618.5,1196.5 L622.2,1195.1 L626.0,1195.7 L629.7,1197.2 L633.5,1195.5 L637.2,1195.8 L641.0,1198.0 L644.7,1195.1 L648.4,1198.2 L652.2,1198.1 L655.9,1197.7 L659.7,1196.8 L663.4,1197.1 L667.2,1197.8 L670.9,1196.6 L674.7,1197.6 L678.4,1196.8 L682.1,1195.5 L685.9,1198.1 L689.6,1200.8 L693.4,1198.9 L697.1,1199.6 L700.9,1198.6 L704.6,1198.7 L708.4,1200.0 L712.1,1200.0 L715.9,1199.2 L719.6,1199.2 L723.3,1201.6 L727.1,1198.3 L730.8,1199.2 L734.6,1199.4 L738.3,1199.1 L742.1,1200.4 L745.8,1199.6 L749.6,1198.6 L753.3,1198.6 L757.0,1199.3 L760.8,1200.0 L764.5,1200.6 L768.3,1198.6 L772.0,1199.4 L775.8,1200.4 L779.5,1202.1 L783.3,1200.9 L787.0,1201.9 L790.8,1199.0 L794.5,1200.0 L798.2,1201.0 L802.0,1200.5 L805.7,1197.8 L809.5,1199.2 L813.2,1201.7 L817.0,1200.6 L820.7,1201.6 L824.5,1202.2 L828.2,1200.4 L831.9,1198.3 L835.7,1199.1 L839.4,1200.6 L843.2,1201.0 L846.9,1200.5 L850.7,1199.7 L854.4,1202.2 L858.2,1202.6 L861.9,1199.0 L865.6,1200.6 L869.4,1199.3 L873.1,1200.7 L876.9,1199.5 L880.6,1201.6 L884.4,1200.5 L888.1,1199.5 L891.9,1200.1 L895.6,1201.5 L899.4,1200.2 L903.1,1201.8 L906.8,1202.5 L910.6,1200.7 L914.3,1199.8 L918.1,1200.4 L921.8,1202.5 L925.6,1200.4 L929.3,1200.6 L933.1,1201.7 L936.8,1203.7 L940.5,1200.4 L944.3,1200.5 L948.0,1200.9 L951.8,1203.1 L953.5,1202.9" stroke="#2e6f8e"/>
<path d="M94.2,1200.8 L97.9,1201.5 L101.7,1201.2 L105.4,1201.0 L109.2,1200.7 L112.9,1200.4 L116.7,1200.7 L120.4,1201.3 L124.2,1199.0 L127.9,1199.5 L131.6,1200.2 L135.4,1199.4 L139.1,1200.0 L142.9,1200.5 L146.6,1200.1 L150.4,1197.6 L154.1,1199.2 L157.9,1199.1 L161.6,1200.4 L165.4,1199.4 L169.1,1197.8 L172.8,1199.5 L176.6,1198.9 L180.3,1198.6 L184.1,1199.2 L187.8,1198.2 L191.6,1199.4 L195.3,1199.2 L199.1,1200.2 L202.8,1197.0 L206.5,1199.2 L210.3,1199.3 L214.0,1198.0 L217.8,1199.8 L221.5,1199.2 L225.3,1199.9 L229.0,1199.1 L232.8,1199.5 L236.5,1198.5 L240.3,1199.1 L244.0,1199.4 L247.7,1199.1 L251.5,1198.8 L255.2,1199.1 L259.0,1197.6 L262.7,1197.8 L266.5,1198.3 L270.2,1199.5 L274.0,1197.7 L277.7,1199.4 L281.4,1197.9 L285.2,1197.9 L288.9,1198.4 L292.7,1198.5 L296.4,1198.3 L300.2,1195.6 L303.9,1197.7 L307.7,1197.5 L311.4,1196.3 L315.1,1196.6 L318.9,1195.9 L322.6,1197.9 L326.4,1197.7 L330.1,1193.3 L333.9,1196.4 L337.6,1196.4 L341.4,1195.8 L345.1,1194.9 L348.9,1196.7 L352.6,1195.2 L356.3,1195.2 L360.1,1194.4 L363.8,1194.6 L367.6,1195.0 L371.3,1195.1 L375.1,1196.3 L378.8,1192.8 L382.6,1194.9 L386.3,1193.5 L390.0,1191.2 L393.8,1192.8 L397.5,1191.4 L401.3,1191.8 L405.0,1190.6 L408.8,1190.7 L412.5,1190.7 L416.3,1188.4 L420.0,1189.4 L423.8,1189.8 L427.5,1188.2 L431.2,1186.5 L435.0,1187.3 L438.7,1184.7 L442.5,1183.6 L446.2,1181.3 L450.0,1182.6 L453.7,1180.1 L457.5,1180.7 L461.2,1177.8 L464.9,1175.3 L468.7,1173.0 L472.4,1170.6 L476.2,1167.7 L479.9,1164.9 L483.7,1160.5 L487.4,1155.4 L491.2,1149.5 L494.9,1143.4 L498.6,1137.1 L502.4,1130.2 L506.1,1127.3 L509.9,1122.0 L513.6,1121.4 L517.4,1127.7 L521.1,1137.9 L524.9,1148.7 L528.6,1157.9 L532.4,1163.8 L536.1,1167.7 L539.8,1173.0 L543.6,1176.0 L547.3,1177.5 L551.1,1180.0 L554.8,1181.0 L558.6,1183.6 L562.3,1184.6 L566.1,1186.9 L569.8,1188.3 L573.5,1188.5 L577.3,1191.7 L581.0,1189.6 L584.8,1189.8 L588.5,1191.2 L592.3,1192.0 L596.0,1191.4 L599.8,1192.9 L603.5,1192.3 L607.3,1191.6 L611.0,1193.3 L614.7,1193.4 L618.5,1194.1 L622.2,1194.6 L626.0,1194.8 L629.7,1195.2 L633.5,1194.5 L637.2,1197.2 L641.0,1196.1 L644.7,1195.4 L648.4,1197.0 L652.2,1196.4 L655.9,1197.2 L659.7,1196.3 L663.4,1195.9 L667.2,1195.6 L670.9,1196.6 L674.7,1197.9 L678.4,1197.1 L682.1,1196.9 L685.9,1196.3 L689.6,1199.7 L693.4,1197.4 L697.1,1199.6 L700.9,1197.3 L704.6,1197.6 L708.4,1197.7 L712.1,1197.4 L715.9,1197.9 L719.6,1199.0 L723.3,1198.2 L727.1,1197.4 L730.8,1198.7 L734.6,1198.7 L738.3,1199.9 L742.1,1197.8 L745.8,1199.4 L749.6,1199.7 L753.3,1199.5 L757.0,1200.0 L760.8,1199.5 L764.5,1198.1 L768.3,1198.6 L772.0,1198.0 L775.8,1198.0 L779.5,1200.3 L783.3,1199.1 L787.0,1198.2 L790.8,1197.5 L794.5,1201.0 L798.2,1201.1 L802.0,1199.4 L805.7,1200.2 L809.5,1200.8 L813.2,1199.6 L817.0,1200.7 L820.7,1202.1 L824.5,1200.1 L828.2,1200.0 L831.9,1199.5 L835.7,1199.3 L839.4,1200.1 L843.2,1200.5 L846.9,1200.9 L850.7,1201.9 L854.4,1200.8 L858.2,1199.5 L861.9,1199.8 L865.6,1198.6 L869.4,1200.6 L873.1,1202.2 L876.9,1199.8 L880.6,1199.6 L884.4,1201.7 L888.1,1202.2 L891.9,1200.5 L895.6,1200.0 L899.4,1201.8 L903.1,1201.1 L906.8,1201.5 L910.6,1201.9 L914.3,1202.1 L918.1,1200.7 L921.8,1201.2 L925.6,1201.5 L929.3,1203.4 L933.1,1199.3 L936.8,1201.9 L940.5,1201.1 L944.3,1202.1 L948.0,1200.7 L951.8,1202.5 L953.5,1201.0" stroke="#2b758e"/>
<path d="M94.2,1199.8 L97.9,1200.4 L101.7,1201.4 L105.4,1200.2 L109.2,1201.4 L112.9,1199.2 L116.7,1199.7 L120.4,1201.0 L124.2,1199.9 L127.9,1198.8 L131.6,1202.0 L135.4,1200.1 L139.1,1198.3 L142.9,1201.3 L146.6,1200.0 L150.4,1201.1 L154.1,1199.8 L157.9,1202.0 L161.6,1201.2 L165.4,1200.1 L169.1,1199.4 L172.8,1199.1 L176.6,1199.0 L180.3,1198.3 L184.1,1198.7 L187.8,1198.6 L191.6,1200.2 L195.3,1199.3 L199.1,1196.1 L202.8,1196.9 L206.5,1198.2 L210.3,1198.2 L214.0,1197.9 L217.8,1199.2 L221.5,1196.9 L225.3,1199.0 L229.0,1198.7 L232.8,1196.5 L236.5,1200.5 L240.3,1198.1 L244.0,1200.0 L247.7,1198.9 L251.5,1198.2 L255.2,1198.4 L259.0,1197.8 L262.7,1198.6 L266.5,1197.9 L270.2,1198.9 L274.0,1198.0 L277.7,1198.9 L281.4,1196.8 L285.2,1198.6 L288.9,1196.5 L292.7,1197.5 L296.4,1197.3 L300.2,1195.7 L303.9,1196.6 L307.7,1198.4 L311.4,1195.9 L315.1,1199.1 L318.9,1195.9 L322.6,1196.4 L326.4,1197.2 L330.1,1195.6 L333.9,1195.8 L337.6,1193.3 L341.4,1195.5 L345.1,1193.1 L348.9,1193.3 L352.6,1195.1 L356.3,1195.0 L360.1,1192.7 L363.8,1193.9 L367.6,1193.4 L371.3,1193.5 L375.1,1194.1 L378.8,1193.0 L382.6,1193.2 L386.3,1193.5 L390.0,1191.9 L393.8,1189.5 L397.5,1189.2 L401.3,1190.4 L405.0,1189.7 L408.8,1188.9 L412.5,1187.5 L416.3,1187.9 L420.0,1188.1 L423.8,1187.2 L427.5,1185.1 L431.2,1182.8 L435.0,1185.2 L438.7,1185.5 L442.5,1181.5 L446.2,1181.5 L450.0,1179.7 L453.7,1177.2 L457.5,1176.8 L461.2,1176.4 L464.9,1174.6 L468.7,1170.4 L472.4,1168.7 L476.2,1164.2 L479.9,1162.2 L483.7,1156.9 L487.4,1153.4 L491.2,1146.5 L494.9,1140.8 L498.6,1133.0 L502.4,1125.5 L506.1,1119.8 L509.9,1115.7 L513.6,1109.8 L517.4,1114.1 L521.1,1126.0 L524.9,1138.8 L528.6,1148.3 L532.4,1156.6 L536.1,1162.8 L539.8,1167.5 L543.6,1172.7 L547.3,1175.4 L551.1,1177.4 L554.8,1179.4 L558.6,1181.3 L562.3,1182.5 L566.1,1184.1 L569.8,1185.7 L573.5,1188.0 L577.3,1186.6 L581.0,1187.6 L584.8,1189.9 L588.5,1189.2 L592.3,1190.0 L596.0,1190.8 L599.8,1193.2 L603.5,1193.1 L607.3,1193.0 L611.0,1191.2 L614.7,1193.9 L618.5,1193.8 L622.2,1194.8 L626.0,1194.5 L629.7,1193.8 L633.5,1196.4 L637.2,1197.4 L641.0,1194.2 L644.7,1195.0 L648.4,1195.9 L652.2,1194.5 L655.9,1194.7 L659.7,1197.8 L663.4,1196.1 L667.2,1195.0 L670.9,1196.9 L674.7,1196.7 L678.4,1195.6 L682.1,1196.9 L685.9,1198.0 L689.6,1197.6 L693.4,1198.3 L697.1,1196.6 L700.9,1199.0 L704.6,1196.4 L708.4,1199.1 L712.1,1197.5 L715.9,1199.1 L719.6,1198.1 L723.3,1196.9 L727.1,1196.9 L730.8,1196.8 L734.6,1198.2 L738.3,1198.1 L742.1,1198.1 L745.8,1197.8 L749.6,1198.8 L753.3,1197.5 L757.0,1198.3 L760.8,1197.5 L764.5,1198.2 L768.3,1198.1 L772.0,1199.6 L775.8,1199.3 L779.5,1200.3 L783.3,1199.3 L787.0,1199.3 L790.8,1198.4 L794.5,1200.5 L798.2,1196.1 L802.0,1199.5 L805.7,1198.1 L809.5,1198.4 L813.2,1202.0 L817.0,1199.8 L820.7,1198.1 L824.5,1202.0 L828.2,1198.9 L831.9,1200.6 L835.7,1200.3 L839.4,1199.6 L843.2,1201.7 L846.9,1199.7 L850.7,1200.6 L854.4,1200.7 L858.2,1199.3 L861.9,1196.6 L865.6,1199.8 L869.4,1199.6 L873.1,1200.2 L876.9,1200.9 L880.6,1200.0 L884.4,1198.8 L888.1,1200.1 L891.9,1199.5 L895.6,1200.6 L899.4,1197.9 L903.1,1202.1 L906.8,1199.9 L910.6,1199.9 L914.3,1200.2 L918.1,1201.7 L921.8,1201.7 L925.6,1200.8 L929.3,1200.5 L933.1,1201.8 L936.8,1201.7 L940.5,1200.2 L944.3,1199.7 L948.0,1201.3 L951.8,1201.5 L953.5,1201.5" stroke="#287c8e"/>
<path d="M94.2,1202.5 L97.9,1199.1 L101.7,1198.7 L105.4,1198.5 L109.2,1199.6 L112.9,1198.6 L116.7,1199.7 L120.4,1199.8 L124.2,1201.1 L127.9,1200.3 L131.6,1200.1 L135.4,1198.6 L139.1,1197.8 L142.9,1199.8 L146.6,1199.0 L150.4,1199.0 L154.1,1200.0 L157.9,1200.9 L161.6,1199.9 L165.4,1200.5 L169.1,1199.3 L172.8,1199.2 L176.6,1199.1 L180.3,1199.0 L184.1,1198.3 L187.8,1199.7 L191.6,1197.8 L195.3,1200.3 L199.1,1198.5 L202.8,1198.1 L206.5,1199.2 L210.3,1199.9 L214.0,1197.7 L217.8,1198.9 L221.5,1197.4 L225.3,1197.3 L229.0,1198.0 L232.8,1197.9 L236.5,1196.9 L240.3,1197.4 L244.0,1198.6 L247.7,1197.4 L251.5,1197.0 L255.2,1197.2 L259.0,1197.1 L262.7,1197.3 L266.5,1197.2 L270.2,1197.9 L274.0,1198.3 L277.7,1195.7 L281.4,1197.3 L285.2,1196.3 L288.9,1197.9 L292.7,1196.1 L296.4,1197.0 L300.2,1193.1 L303.9,1196.9 L307.7,1196.6 L311.4,1194.6 L315.1,1194.3 L318.9,1197.3 L322.6,1194.9 L326.4,1194.0 L330.1,1195.9 L333.9,1193.8 L337.6,1194.9 L341.4,1195.1 L345.1,1194.2 L348.9,1194.1 L352.6,1194.8 L356.3,1191.0 L360.1,1193.3 L363.8,1193.4 L367.6,1191.6 L371.3,1192.1 L375.1,1190.4 L378.8,1191.7 L382.6,1190.7 L386.3,1190.5 L390.0,1190.1 L393.8,1190.0 L397.5,1189.5 L401.3,1187.3 L405.0,1189.0 L408.8,1188.2 L412.5,1187.5 L416.3,1186.0 L420.0,1185.4 L423.8,1184.2 L427.5,1185.5 L431.2,1183.1 L435.0,1182.5 L438.7,1181.7 L442.5,1180.1 L446.2,1181.0 L450.0,1177.2 L453.7,1175.8 L457.5,1175.4 L461.2,1172.1 L464.9,1168.4 L468.7,1167.7 L472.4,1163.7 L476.2,1161.0 L479.9,1158.1 L483.7,1153.6 L487.4,1148.2 L491.2,1140.8 L494.9,1134.7 L498.6,1129.6 L502.4,1120.8 L506.1,1114.2 L509.9,1108.3 L513.6,1102.3 L517.4,1102.0 L521.1,1109.7 L524.9,1122.7 L528.6,1139.3 L532.4,1147.3 L536.1,1156.8 L539.8,1161.3 L543.6,1166.1 L547.3,1170.2 L551.1,1174.9 L554.8,1175.5 L558.6,1177.4 L562.3,1180.3 L566.1,1181.1 L569.8,1181.4 L573.5,1184.5 L577.3,1184.7 L581.0,1187.0 L584.8,1186.5 L588.5,1187.0 L592.3,1186.0 L596.0,1188.1 L599.8,1189.2 L603.5,1188.9 L607.3,1191.7 L611.0,1190.3 L614.7,1192.2 L618.5,1192.6 L622.2,1191.3 L626.0,1192.4 L629.7,1191.7 L633.5,1194.6 L637.2,1193.2 L641.0,1194.2 L644.7,1194.2 L648.4,1196.0 L652.2,1193.4 L655.9,1194.3 L659.7,1195.7 L663.4,1196.2 L667.2,1195.9 L670.9,1194.0 L674.7,1195.5 L678.4,1195.9 L682.1,1195.3 L685.9,1195.9 L689.6,1195.8 L693.4,1195.5 L697.1,1196.0 L700.9,1195.6 L704.6,1197.7 L708.4,1196.6 L712.1,1197.1 L715.9,1196.9 L719.6,1197.1 L723.3,1197.7 L727.1,1197.5 L730.8,1196.4 L734.6,1197.9 L738.3,1198.7 L742.1,1197.0 L745.8,1196.7 L749.6,1198.0 L753.3,1197.7 L757.0,1198.8 L760.8,1198.2 L764.5,1197.0 L768.3,1197.4 L772.0,1198.0 L775.8,1198.5 L779.5,1200.0 L783.3,1198.1 L787.0,1198.1 L790.8,1197.5 L794.5,1196.7 L798.2,1198.3 L802.0,1197.9 L805.7,1199.9 L809.5,1197.7 L813.2,1198.1 L817.0,1197.6 L820.7,1198.4 L824.5,1198.7 L828.2,1197.7 L831.9,1199.8 L835.7,1198.6 L839.4,1198.2 L843.2,1200.1 L846.9,1200.5 L850.7,1199.0 L854.4,1199.3 L858.2,1198.9 L861.9,1198.9 L865.6,1200.3 L869.4,1199.3 L873.1,1198.6 L876.9,1200.0 L880.6,1200.0 L884.4,1200.9 L888.1,1199.0 L891.9,1198.0 L895.6,1201.2 L899.4,1199.2 L903.1,1199.1 L906.8,1200.5 L910.6,1200.4 L914.3,1201.1 L918.1,1200.8 L921.8,1200.0 L925.6,1199.5 L929.3,1200.1 L933.1,1199.4 L936.8,1200.0 L940.5,1201.4 L944.3,1198.9 L948.0,1199.2 L951.8,1201.0 L953.5,1198.7" stroke="#26828e"/>
<path d="M94.2,1199.2 L97.9,1199.6 L101.7,1197.7 L105.4,1198.9 L109.2,1198.7 L112.9,1197.4 L116.7,1199.6 L120.4,1199.1 L124.2,1200.0 L127.9,1198.7 L131.6,1197.9 L135.4,1197.5 L139.1,1198.8 L142.9,1199.4 L146.6,1199.5 L150.4,1200.0 L154.1,1198.5 L157.9,1197.2 L161.6,1200.8 L165.4,1200.6 L169.1,1197.0 L172.8,1199.9 L176.6,1197.9 L180.3,1199.4 L184.1,1197.3 L187.8,1197.3 L191.6,1197.8 L195.3,1197.1 L199.1,1197.8 L202.8,1197.2 L206.5,1195.9 L210.3,1196.6 L214.0,1198.2 L217.8,1198.2 L221.5,1197.6 L225.3,1197.5 L229.0,1197.1 L232.8,1197.7 L236.5,1196.4 L240.3,1196.9 L244.0,1196.5 L247.7,1196.7 L251.5,1196.0 L255.2,1197.7 L259.0,1194.9 L262.7,1196.0 L266.5,1195.7 L270.2,1195.5 L274.0,1194.9 L277.7,1195.1 L281.4,1195.5 L285.2,1195.8 L288.9,1197.1 L292.7,1195.1 L296.4,1195.5 L300.2,1195.3 L303.9,1192.5 L307.7,1196.5 L311.4,1194.4 L315.1,1193.1 L318.9,1193.2 L322.6,1192.8 L326.4,1195.0 L330.1,1194.6 L333.9,1192.8 L337.6,1193.4 L341.4,1191.2 L345.1,1192.4 L348.9,1192.3 L352.6,1191.7 L356.3,1192.1 L360.1,1191.4 L363.8,1191.9 L367.6,1190.9 L371.3,1191.0 L375.1,1190.0 L378.8,1191.3 L382.6,1190.8 L386.3,1188.6 L390.0,1188.3 L393.8,1189.0 L397.5,1187.7 L401.3,1188.1 L405.0,1184.4 L408.8,1187.4 L412.5,1183.5 L416.3,1185.3 L420.0,1183.4 L423.8,1183.2 L427.5,1182.4 L431.2,1180.1 L435.0,1179.2 L438.7,1179.2 L442.5,1178.5 L446.2,1174.2 L450.0,1173.3 L453.7,1172.7 L457.5,1171.3 L461.2,1168.5 L464.9,1166.5 L468.7,1162.6 L472.4,1161.5 L476.2,1157.3 L479.9,1153.8 L483.7,1147.2 L487.4,1141.6 L491.2,1137.5 L494.9,1130.5 L498.6,1122.3 L502.4,1116.8 L506.1,1109.7 L509.9,1099.6 L513.6,1094.4 L517.4,1091.3 L521.1,1090.3 L524.9,1107.0 L528.6,1127.4 L532.4,1137.7 L536.1,1147.4 L539.8,1152.7 L543.6,1159.9 L547.3,1164.8 L551.1,1167.7 L554.8,1171.0 L558.6,1175.1 L562.3,1175.6 L566.1,1178.1 L569.8,1178.0 L573.5,1178.7 L577.3,1183.3 L581.0,1184.4 L584.8,1185.2 L588.5,1186.0 L592.3,1186.8 L596.0,1186.9 L599.8,1186.5 L603.5,1189.6 L607.3,1190.4 L611.0,1191.2 L614.7,1188.9 L618.5,1189.1 L622.2,1192.2 L626.0,1192.6 L629.7,1191.2 L633.5,1190.7 L637.2,1191.0 L641.0,1192.1 L644.7,1191.8 L648.4,1192.4 L652.2,1193.6 L655.9,1191.3 L659.7,1193.4 L663.4,1194.8 L667.2,1194.3 L670.9,1195.6 L674.7,1194.3 L678.4,1193.3 L682.1,1195.8 L685.9,1193.6 L689.6,1192.8 L693.4,1194.7 L697.1,1196.3 L700.9,1196.2 L704.6,1195.8 L708.4,1196.9 L712.1,1197.0 L715.9,1196.1 L719.6,1196.2 L723.3,1195.6 L727.1,1197.5 L730.8,1194.5 L734.6,1195.4 L738.3,1195.7 L742.1,1197.3 L745.8,1195.1 L749.6,1197.2 L753.3,1195.2 L757.0,1196.0 L760.8,1198.0 L764.5,1197.7 L768.3,1195.5 L772.0,1196.4 L775.8,1197.6 L779.5,1197.4 L783.3,1197.4 L787.0,1198.5 L790.8,1198.0 L794.5,1198.5 L798.2,1198.4 L802.0,1197.5 L805.7,1199.0 L809.5,1197.4 L813.2,1198.1 L817.0,1197.5 L820.7,1197.4 L824.5,1197.1 L828.2,1197.8 L831.9,1197.8 L835.7,1198.8 L839.4,1198.0 L843.2,1199.6 L846.9,1199.0 L850.7,1198.0 L854.4,1198.8 L858.2,1198.4 L861.9,1200.0 L865.6,1197.6 L869.4,1199.6 L873.1,1198.6 L876.9,1199.1 L880.6,1198.2 L884.4,1199.6 L888.1,1200.2 L891.9,1201.1 L895.6,1199.6 L899.4,1200.5 L903.1,1198.8 L906.8,1198.0 L910.6,1201.7 L914.3,1200.8 L918.1,1199.2 L921.8,1198.3 L925.6,1199.3 L929.3,1199.3 L933.1,1199.2 L936.8,1199.1 L940.5,1198.1 L944.3,1199.2 L948.0,1201.0 L951.8,1200.3 L953.5,1199.7" stroke="#23898e"/>
<path d="M94.2,1198.2 L97.9,1198.2 L101.7,1200.4 L105.4,1198.9 L109.2,1198.7 L112.9,1200.9 L116.7,1197.9 L120.4,1198.1 L124.2,1198.2 L127.9,1199.4 L131.6,1199.1 L135.4,1198.9 L139.1,1197.7 L142.9,1199.2 L146.6,1196.6 L150.4,1197.7 L154.1,1200.2 L157.9,1196.2 L161.6,1197.7 L165.4,1198.4 L169.1,1197.6 L172.8,1199.5 L176.6,1197.4 L180.3,1200.1 L184.1,1198.5 L187.8,1196.0 L191.6,1196.0 L195.3,1197.6 L199.1,1198.2 L202.8,1196.1 L206.5,1197.0 L210.3,1196.7 L214.0,1196.2 L217.8,1197.8 L221.5,1195.9 L225.3,1198.7 L229.0,1195.0 L232.8,1198.0 L236.5,1196.9 L240.3,1196.8 L244.0,1195.3 L247.7,1195.2 L251.5,1195.5 L255.2,1195.1 L259.0,1195.1 L262.7,1195.6 L266.5,1197.3 L270.2,1197.6 L274.0,1197.4 L277.7,1195.0 L281.4,1195.0 L285.2,1194.7 L288.9,1194.2 L292.7,1194.6 L296.4,1195.2 L300.2,1195.5 L303.9,1195.8 L307.7,1192.4 L311.4,1192.5 L315.1,1194.7 L318.9,1193.3 L322.6,1192.4 L326.4,1191.0 L330.1,1193.0 L333.9,1192.0 L337.6,1190.7 L341.4,1193.5 L345.1,1192.2 L348.9,1191.2 L352.6,1191.5 L356.3,1188.4 L360.1,1189.2 L363.8,1189.7 L367.6,1190.5 L371.3,1188.2 L375.1,1188.0 L378.8,1188.9 L382.6,1188.4 L386.3,1188.9 L390.0,1187.0 L393.8,1185.5 L397.5,1184.8 L401.3,1184.6 L405.0,1183.6 L408.8,1184.4 L412.5,1183.6 L416.3,1181.3 L420.0,1181.1 L423.8,1181.5 L427.5,1179.2 L431.2,1177.7 L435.0,1176.9 L438.7,1176.1 L442.5,1175.4 L446.2,1173.0 L450.0,1169.8 L453.7,1169.8 L457.5,1168.5 L461.2,1165.1 L464.9,1164.4 L468.7,1160.0 L472.4,1157.2 L476.2,1151.9 L479.9,1148.5 L483.7,1142.8 L487.4,1136.2 L491.2,1133.3 L494.9,1126.7 L498.6,1118.2 L502.4,1110.6 L506.1,1102.3 L509.9,1094.8 L513.6,1086.7 L517.4,1081.1 L521.1,1080.5 L524.9,1082.8 L528.6,1103.1 L532.4,1120.9 L536.1,1136.3 L539.8,1145.8 L543.6,1151.0 L547.3,1158.3 L551.1,1161.9 L554.8,1165.3 L558.6,1168.1 L562.3,1171.6 L566.1,1174.8 L569.8,1174.7 L573.5,1177.8 L577.3,1179.4 L581.0,1178.5 L584.8,1180.7 L588.5,1183.8 L592.3,1184.1 L596.0,1184.9 L599.8,1186.2 L603.5,1188.2 L607.3,1186.0 L611.0,1186.8 L614.7,1187.8 L618.5,1189.2 L622.2,1189.0 L626.0,1188.8 L629.7,1190.9 L633.5,1190.6 L637.2,1191.0 L641.0,1190.1 L644.7,1190.8 L648.4,1192.8 L652.2,1192.3 L655.9,1190.1 L659.7,1193.2 L663.4,1192.3 L667.2,1193.3 L670.9,1191.6 L674.7,1193.1 L678.4,1193.8 L682.1,1194.7 L685.9,1193.9 L689.6,1193.0 L693.4,1193.4 L697.1,1195.6 L700.9,1192.8 L704.6,1194.8 L708.4,1195.7 L712.1,1194.7 L715.9,1195.6 L719.6,1195.7 L723.3,1195.9 L727.1,1195.5 L730.8,1196.0 L734.6,1197.4 L738.3,1195.3 L742.1,1196.4 L745.8,1194.8 L749.6,1195.6 L753.3,1195.6 L757.0,1196.1 L760.8,1195.1 L764.5,1196.8 L768.3,1197.6 L772.0,1196.3 L775.8,1199.6 L779.5,1197.2 L783.3,1196.7 L787.0,1197.4 L790.8,1195.8 L794.5,1196.5 L798.2,1197.1 L802.0,1197.7 L805.7,1196.3 L809.5,1198.1 L813.2,1198.0 L817.0,1196.9 L820.7,1197.1 L824.5,1195.7 L828.2,1198.1 L831.9,1199.8 L835.7,1197.3 L839.4,1196.7 L843.2,1198.3 L846.9,1196.6 L850.7,1196.4 L854.4,1199.0 L858.2,1198.8 L861.9,1199.7 L865.6,1197.9 L869.4,1197.8 L873.1,1197.9 L876.9,1199.9 L880.6,1199.4 L884.4,1200.2 L888.1,1200.4 L891.9,1200.1 L895.6,1200.4 L899.4,1199.1 L903.1,1198.5 L906.8,1198.3 L910.6,1199.0 L914.3,1199.7 L918.1,1199.1 L921.8,1198.6 L925.6,1199.5 L929.3,1199.1 L933.1,1199.6 L936.8,1199.8 L940.5,1199.3 L944.3,1200.5 L948.0,1198.3 L951.8,1201.0 L953.5,1199.0" stroke="#218f8d"/>
<path d="M94.2,1199.2 L97.9,1198.9 L101.7,1198.3 L105.4,1197.8 L109.2,1198.3 L112.9,1199.5 L116.7,1198.7 L120.4,1197.4 L124.2,1197.0 L127.9,1199.2 L131.6,1198.1 L135.4,1199.4 L139.1,1198.2 L142.9,1194.0 L146.6,1197.4 L150.4,1197.8 L154.1,1197.9 L157.9,1198.5 L161.6,1199.1 L165.4,1197.2 L169.1,1197.4 L172.8,1195.5 L176.6,1198.6 L180.3,1196.4 L184.1,1195.4 L187.8,1198.6 L191.6,1195.9 L195.3,1198.1 L199.1,1195.9 L202.8,1194.8 L206.5,1196.3 L210.3,1195.8 L214.0,1196.7 L217.8,1195.6 L221.5,1194.7 L225.3,1195.9 L229.0,1195.8 L232.8,1195.2 L236.5,1194.6 L240.3,1196.9 L244.0,1195.1 L247.7,1195.8 L251.5,1194.4 L255.2,1193.7 L259.0,1194.3 L262.7,1193.2 L266.5,1195.4 L270.2,1194.6 L274.0,1195.1 L277.7,1193.9 L281.4,1193.7 L285.2,1193.8 L288.9,1194.7 L292.7,1193.4 L296.4,1193.5 L300.2,1192.3 L303.9,1193.0 L307.7,1191.3 L311.4,1192.1 L315.1,1193.9 L318.9,1192.0 L322.6,1193.0 L326.4,1190.4 L330.1,1189.7 L333.9,1190.9 L337.6,1190.1 L341.4,1191.7 L345.1,1192.3 L348.9,1190.2 L352.6,1189.6 L356.3,1190.5 L360.1,1188.5 L363.8,1188.0 L367.6,1187.2 L371.3,1186.0 L375.1,1186.2 L378.8,1187.0 L382.6,1185.9 L386.3,1185.0 L390.0,1186.0 L393.8,1183.2 L397.5,1182.9 L401.3,1183.4 L405.0,1183.1 L408.8,1177.9 L412.5,1180.1 L416.3,1179.1 L420.0,1177.3 L423.8,1177.1 L427.5,1176.9 L431.2,1175.1 L435.0,1175.7 L438.7,1172.5 L442.5,1173.4 L446.2,1169.9 L450.0,1167.8 L453.7,1168.0 L457.5,1162.0 L461.2,1162.9 L464.9,1157.9 L468.7,1156.4 L472.4,1152.4 L476.2,1149.0 L479.9,1141.7 L483.7,1137.8 L487.4,1131.3 L491.2,1126.5 L494.9,1120.2 L498.6,1112.8 L502.4,1105.3 L506.1,1096.1 L509.9,1088.6 L513.6,1081.3 L517.4,1074.9 L521.1,1068.3 L524.9,1063.4 L528.6,1073.8 L532.4,1099.4 L536.1,1119.7 L539.8,1134.0 L543.6,1143.1 L547.3,1150.0 L551.1,1155.2 L554.8,1159.6 L558.6,1161.8 L562.3,1167.3 L566.1,1171.2 L569.8,1170.7 L573.5,1173.8 L577.3,1175.4 L581.0,1174.3 L584.8,1176.8 L588.5,1178.9 L592.3,1179.8 L596.0,1181.7 L599.8,1181.9 L603.5,1184.3 L607.3,1185.3 L611.0,1185.6 L614.7,1184.3 L618.5,1185.0 L622.2,1187.7 L626.0,1186.5 L629.7,1188.2 L633.5,1187.4 L637.2,1189.2 L641.0,1188.2 L644.7,1189.6 L648.4,1190.1 L652.2,1190.2 L655.9,1190.3 L659.7,1191.3 L663.4,1192.3 L667.2,1189.4 L670.9,1191.9 L674.7,1193.5 L678.4,1194.2 L682.1,1195.0 L685.9,1193.0 L689.6,1191.2 L693.4,1194.4 L697.1,1193.3 L700.9,1195.0 L704.6,1192.2 L708.4,1193.1 L712.1,1193.3 L715.9,1192.5 L719.6,1192.3 L723.3,1193.1 L727.1,1194.9 L730.8,1195.7 L734.6,1195.7 L738.3,1196.5 L742.1,1193.0 L745.8,1195.1 L749.6,1195.0 L753.3,1195.0 L757.0,1193.3 L760.8,1196.0 L764.5,1194.4 L768.3,1195.3 L772.0,1195.9 L775.8,1197.8 L779.5,1195.1 L783.3,1196.8 L787.0,1196.6 L790.8,1196.0 L794.5,1196.3 L798.2,1195.3 L802.0,1197.2 L805.7,1196.4 L809.5,1196.3 L813.2,1196.7 L817.0,1196.2 L820.7,1197.1 L824.5,1195.7 L828.2,1197.8 L831.9,1198.6 L835.7,1197.2 L839.4,1196.1 L843.2,1197.9 L846.9,1198.0 L850.7,1197.8 L854.4,1197.4 L858.2,1197.8 L861.9,1197.3 L865.6,1199.5 L869.4,1196.2 L873.1,1197.3 L876.9,1198.8 L880.6,1196.5 L884.4,1197.6 L888.1,1196.6 L891.9,1199.3 L895.6,1196.5 L899.4,1198.2 L903.1,1200.3 L906.8,1197.5 L910.6,1198.6 L914.3,1199.4 L918.1,1198.7 L921.8,1200.5 L925.6,1198.0 L929.3,1198.8 L933.1,1198.9 L936.8,1197.2 L940.5,1198.7 L944.3,1199.4 L948.0,1199.7 L951.8,1198.9 L953.5,1197.8" stroke="#1f958b"/>
<path d="M94.2,1198.1 L97.9,1198.1 L101.7,1196.2 L105.4,1198.1 L109.2,1197.8 L112.9,1197.5 L116.7,1197.5 L120.4,1197.0 L124.2,1197.3 L127.9,1196.7 L131.6,1196.8 L135.4,1196.4 L139.1,1195.5 L142.9,1197.6 L146.6,1195.1 L150.4,1197.1 L154.1,1195.8 L157.9,1196.3 L161.6,1196.7 L165.4,1198.2 L169.1,1194.7 L172.8,1196.8 L176.6,1196.8 L180.3,1194.9 L184.1,1195.8 L187.8,1193.9 L191.6,1194.0 L195.3,1194.9 L199.1,1195.3 L202.8,1194.7 L206.5,1196.6 L210.3,1195.1 L214.0,1194.9 L217.8,1195.4 L221.5,1194.6 L225.3,1196.2 L229.0,1193.7 L232.8,1193.3 L236.5,1195.6 L240.3,1194.1 L244.0,1192.6 L247.7,1193.6 L251.5,1194.8 L255.2,1194.7 L259.0,1192.8 L262.7,1191.6 L266.5,1194.3 L270.2,1193.1 L274.0,1193.7 L277.7,1193.0 L281.4,1192.3 L285.2,1192.4 L288.9,1192.9 L292.7,1190.0 L296.4,1191.9 L300.2,1191.8 L303.9,1190.2 L307.7,1191.1 L311.4,1191.2 L315.1,1189.7 L318.9,1191.5 L322.6,1189.4 L326.4,1188.8 L330.1,1188.9 L333.9,1189.5 L337.6,1189.0 L341.4,1190.3 L345.1,1188.4 L348.9,1187.8 L352.6,1186.8 L356.3,1187.1 L360.1,1187.2 L363.8,1187.3 L367.6,1186.0 L371.3,1185.4 L375.1,1183.9 L378.8,1184.6 L382.6,1184.5 L386.3,1183.5 L390.0,1183.2 L393.8,1182.3 L397.5,1183.7 L401.3,1182.4 L405.0,1181.3 L408.8,1178.7 L412.5,1178.4 L416.3,1177.3 L420.0,1175.2 L423.8,1176.3 L427.5,1173.1 L431.2,1172.6 L435.0,1172.3 L438.7,1168.6 L442.5,1169.7 L446.2,1167.7 L450.0,1164.9 L453.7,1161.9 L457.5,1160.3 L461.2,1159.5 L464.9,1154.8 L468.7,1151.4 L472.4,1145.3 L476.2,1142.1 L479.9,1138.8 L483.7,1134.5 L487.4,1127.8 L491.2,1122.7 L494.9,1114.1 L498.6,1106.7 L502.4,1099.2 L506.1,1090.2 L509.9,1083.2 L513.6,1074.6 L517.4,1064.8 L521.1,1057.5 L524.9,1053.4 L527.0,1051.1 L530.7,1102.0 L534.5,1153.8 L536.1,1154.9 L539.8,1157.3 L543.6,1161.1 L547.3,1164.8 L551.1,1164.0 L554.8,1166.7 L558.6,1168.9 L562.3,1170.0 L566.1,1174.2 L569.8,1174.4 L573.5,1175.9 L577.3,1175.1 L581.0,1178.4 L584.8,1178.6 L588.5,1177.8 L592.3,1179.4 L596.0,1181.2 L599.8,1179.7 L603.5,1183.4 L607.3,1182.5 L611.0,1183.7 L614.7,1183.5 L618.5,1184.9 L622.2,1185.9 L626.0,1185.4 L629.7,1187.4 L633.5,1185.9 L637.2,1187.1 L641.0,1186.4 L644.7,1188.1 L648.4,1188.7 L652.2,1188.0 L655.9,1187.5 L659.7,1191.0 L663.4,1189.2 L667.2,1189.1 L670.9,1191.3 L674.7,1191.1 L678.4,1189.9 L682.1,1191.5 L685.9,1191.6 L689.6,1189.5 L693.4,1192.3 L697.1,1192.5 L700.9,1194.1 L704.6,1193.1 L708.4,1193.4 L712.1,1190.7 L715.9,1191.4 L719.6,1194.0 L723.3,1191.1 L727.1,1192.4 L730.8,1193.4 L734.6,1192.7 L738.3,1193.2 L742.1,1194.5 L745.8,1195.5 L749.6,1194.9 L753.3,1194.2 L757.0,1194.6 L760.8,1195.1 L764.5,1193.6 L768.3,1195.6 L772.0,1193.9 L775.8,1195.4 L779.5,1194.9 L783.3,1196.2 L787.0,1195.2 L790.8,1196.1 L794.5,1197.2 L798.2,1195.5 L802.0,1195.7 L805.7,1194.9 L809.5,1195.5 L813.2,1196.9 L817.0,1196.6 L820.7,1198.5 L824.5,1197.3 L828.2,1195.0 L831.9,1194.9 L835.7,1195.7 L839.4,1196.2 L843.2,1196.0 L846.9,1196.2 L850.7,1198.4 L854.4,1197.6 L858.2,1195.7 L861.9,1195.9 L865.6,1196.7 L869.4,1197.3 L873.1,1197.5 L876.9,1197.7 L880.6,1198.2 L884.4,1199.2 L888.1,1197.3 L891.9,1197.9 L895.6,1197.7 L899.4,1195.9 L903.1,1197.0 L906.8,1198.4 L910.6,1197.2 L914.3,1199.2 L918.1,1196.8 L921.8,1197.6 L925.6,1198.1 L929.3,1197.4 L933.1,1196.6 L936.8,1198.5 L940.5,1199.1 L944.3,1196.1 L948.0,1198.2 L951.8,1196.8 L953.5,1198.9" stroke="#1e9c89"/>
<path d="M94.2,1195.9 L97.9,1194.5 L101.7,1195.0 L105.4,1196.3 L109.2,1194.8 L112.9,1196.6 L116.7,1197.0 L120.4,1194.2 L124.2,1197.4 L127.9,1196.7 L131.6,1196.5 L135.4,1194.7 L139.1,1196.6 L142.9,1195.2 L146.6,1196.3 L150.4,1197.0 L154.1,1195.5 L157.9,1195.4 L161.6,1196.7 L165.4,1196.3 L169.1,1196.1 L172.8,1194.3 L176.6,1194.7 L180.3,1194.8 L184.1,1194.5 L187.8,1195.3 L191.6,1194.3 L195.3,1195.2 L199.1,1195.9 L202.8,1195.1 L206.5,1194.2 L210.3,1194.1 L214.0,1193.1 L217.8,1195.5 L221.5,1194.0 L225.3,1193.3 L229.0,1194.6 L232.8,1193.2 L236.5,1193.7 L240.3,1194.2 L244.0,1192.0 L247.7,1194.2 L251.5,1191.7 L255.2,1192.9 L259.0,1193.3 L262.7,1193.1 L266.5,1192.7 L270.2,1192.6 L274.0,1191.4 L277.7,1193.3 L281.4,1190.0 L285.2,1190.2 L288.9,1189.4 L292.7,1191.6 L296.4,1192.5 L300.2,1190.8 L303.9,1190.1 L307.7,1189.4 L311.4,1189.9 L315.1,1189.2 L318.9,1188.8 L322.6,1190.1 L326.4,1186.5 L330.1,1189.0 L333.9,1187.5 L337.6,1186.3 L341.4,1187.7 L345.1,1186.6 L348.9,1184.5 L352.6,1186.1 L356.3,1184.3 L360.1,1184.6 L363.8,1184.2 L367.6,1183.3 L371.3,1183.6 L375.1,1183.1 L378.8,1181.3 L382.6,1181.5 L386.3,1180.6 L390.0,1181.7 L393.8,1179.8 L397.5,1177.8 L401.3,1177.3 L405.0,1177.0 L408.8,1176.9 L412.5,1176.0 L416.3,1174.0 L420.0,1171.8 L423.8,1172.1 L427.5,1169.5 L431.2,1169.7 L435.0,1166.7 L438.7,1167.3 L442.5,1164.5 L446.2,1163.8 L450.0,1159.6 L453.7,1157.5 L457.5,1156.4 L461.2,1153.5 L464.9,1150.1 L468.7,1147.0 L472.4,1143.2 L476.2,1138.6 L479.9,1132.2 L483.7,1126.5 L487.4,1122.4 L491.2,1115.6 L494.9,1107.9 L498.6,1101.1 L502.4,1092.3 L506.1,1083.6 L509.9,1075.0 L513.6,1066.2 L517.4,1058.5 L521.1,1049.5 L524.9,1045.3 L529.6,1036.5 L533.3,1094.0 L537.1,1150.6 L539.8,1152.2 L543.6,1156.1 L547.3,1157.9 L551.1,1161.0 L554.8,1164.5 L558.6,1167.4 L562.3,1166.0 L566.1,1169.0 L569.8,1168.6 L573.5,1171.6 L577.3,1173.4 L581.0,1173.3 L584.8,1175.3 L588.5,1176.0 L592.3,1177.9 L596.0,1177.2 L599.8,1177.6 L603.5,1179.9 L607.3,1178.5 L611.0,1181.3 L614.7,1181.3 L618.5,1183.8 L622.2,1184.5 L626.0,1181.0 L629.7,1182.4 L633.5,1183.2 L637.2,1186.5 L641.0,1184.9 L644.7,1185.2 L648.4,1186.0 L652.2,1186.1 L655.9,1187.6 L659.7,1187.3 L663.4,1188.5 L667.2,1188.1 L670.9,1187.8 L674.7,1189.2 L678.4,1189.0 L682.1,1189.4 L685.9,1189.3 L689.6,1188.6 L693.4,1189.6 L697.1,1189.7 L700.9,1191.7 L704.6,1190.9 L708.4,1190.0 L712.1,1191.8 L715.9,1191.6 L719.6,1192.4 L723.3,1190.3 L727.1,1192.2 L730.8,1192.7 L734.6,1191.5 L738.3,1191.3 L742.1,1192.0 L745.8,1191.7 L749.6,1192.5 L753.3,1193.1 L757.0,1193.5 L760.8,1193.7 L764.5,1194.0 L768.3,1193.2 L772.0,1193.7 L775.8,1193.7 L779.5,1193.3 L783.3,1194.1 L787.0,1195.5 L790.8,1195.1 L794.5,1195.5 L798.2,1196.3 L802.0,1194.5 L805.7,1195.9 L809.5,1196.1 L813.2,1195.9 L817.0,1194.2 L820.7,1195.4 L824.5,1194.2 L828.2,1195.4 L831.9,1195.8 L835.7,1195.0 L839.4,1195.0 L843.2,1195.5 L846.9,1196.8 L850.7,1196.3 L854.4,1197.1 L858.2,1196.3 L861.9,1196.0 L865.6,1194.7 L869.4,1194.8 L873.1,1195.6 L876.9,1195.4 L880.6,1196.2 L884.4,1193.8 L888.1,1195.1 L891.9,1194.0 L895.6,1196.4 L899.4,1196.3 L903.1,1195.8 L906.8,1196.7 L910.6,1196.7 L914.3,1198.0 L918.1,1196.2 L921.8,1197.0 L925.6,1196.4 L929.3,1197.5 L933.1,1199.1 L936.8,1196.9 L940.5,1196.3 L944.3,1198.8 L948.0,1198.5 L951.8,1197.9 L953.5,1197.8" stroke="#1fa287"/>
<path d="M94.2,1195.9 L97.9,1197.5 L101.7,1198.6 L105.4,1194.7 L109.2,1195.3 L112.9,1195.3 L116.7,1195.2 L120.4,1196.5 L124.2,1194.4 L127.9,1196.4 L131.6,1193.4 L135.4,1195.0 L139.1,1196.9 L142.9,1194.2 L146.6,1193.1 L150.4,1195.1 L154.1,1193.7 L157.9,1194.9 L161.6,1195.2 L165.4,1197.0 L169.1,1193.1 L172.8,1194.7 L176.6,1193.8 L180.3,1195.2 L184.1,1194.9 L187.8,1192.7 L191.6,1194.1 L195.3,1194.0 L199.1,1194.7 L202.8,1193.1 L206.5,1192.5 L210.3,1193.5 L214.0,1193.1 L217.8,1194.0 L221.5,1191.3 L225.3,1193.1 L229.0,1192.5 L232.8,1190.5 L236.5,1192.3 L240.3,1193.4 L244.0,1192.7 L247.7,1191.8 L251.5,1189.6 L255.2,1191.0 L259.0,1191.3 L262.7,1190.0 L266.5,1189.3 L270.2,1191.2 L274.0,1188.8 L277.7,1189.2 L281.4,1189.4 L285.2,1191.9 L288.9,1189.0 L292.7,1187.8 L296.4,1189.1 L300.2,1186.3 L303.9,1188.1 L307.7,1189.1 L311.4,1187.2 L315.1,1187.1 L318.9,1186.3 L322.6,1187.1 L326.4,1185.2 L330.1,1186.7 L333.9,1185.6 L337.6,1186.6 L341.4,1185.7 L345.1,1184.4 L348.9,1184.8 L352.6,1184.1 L356.3,1183.4 L360.1,1182.4 L363.8,1181.5 L367.6,1180.9 L371.3,1180.0 L375.1,1180.3 L378.8,1180.5 L382.6,1180.7 L386.3,1178.8 L390.0,1178.6 L393.8,1178.8 L397.5,1174.4 L401.3,1176.9 L405.0,1174.1 L408.8,1172.9 L412.5,1172.6 L416.3,1168.7 L420.0,1170.0 L423.8,1169.5 L427.5,1165.3 L431.2,1166.4 L435.0,1165.3 L438.7,1163.1 L442.5,1161.0 L446.2,1158.0 L450.0,1155.6 L453.7,1154.9 L457.5,1150.4 L461.2,1145.0 L464.9,1144.6 L468.7,1140.5 L472.4,1135.5 L476.2,1130.4 L479.9,1127.1 L483.7,1121.7 L487.4,1115.8 L491.2,1106.9 L494.9,1100.5 L498.6,1095.5 L502.4,1087.9 L506.1,1077.2 L509.9,1069.0 L513.6,1058.6 L517.4,1049.9 L521.1,1039.3 L524.9,1033.0 L529.8,1025.0 L533.5,1082.7 L537.2,1143.8 L539.8,1146.9 L543.6,1149.2 L547.3,1151.4 L551.1,1156.7 L554.8,1157.0 L558.6,1159.2 L562.3,1162.6 L566.1,1163.8 L569.8,1166.0 L573.5,1167.5 L577.3,1168.0 L581.0,1170.8 L584.8,1170.3 L588.5,1171.7 L592.3,1172.7 L596.0,1176.5 L599.8,1177.4 L603.5,1175.6 L607.3,1177.8 L611.0,1178.7 L614.7,1179.5 L618.5,1180.6 L622.2,1180.4 L626.0,1181.4 L629.7,1181.9 L633.5,1181.4 L637.2,1183.5 L641.0,1181.9 L644.7,1185.6 L648.4,1181.3 L652.2,1185.7 L655.9,1184.0 L659.7,1184.2 L663.4,1185.5 L667.2,1185.2 L670.9,1186.4 L674.7,1188.4 L678.4,1186.6 L682.1,1186.1 L685.9,1188.0 L689.6,1189.6 L693.4,1188.8 L697.1,1188.1 L700.9,1188.4 L704.6,1187.8 L708.4,1188.6 L712.1,1188.9 L715.9,1191.6 L719.6,1187.6 L723.3,1190.0 L727.1,1189.5 L730.8,1190.8 L734.6,1190.9 L738.3,1190.9 L742.1,1189.5 L745.8,1189.7 L749.6,1190.8 L753.3,1189.6 L757.0,1192.2 L760.8,1191.5 L764.5,1192.5 L768.3,1190.9 L772.0,1192.4 L775.8,1191.5 L779.5,1190.9 L783.3,1194.9 L787.0,1190.8 L790.8,1192.8 L794.5,1193.5 L798.2,1195.3 L802.0,1193.7 L805.7,1195.9 L809.5,1193.6 L813.2,1194.0 L817.0,1192.1 L820.7,1194.4 L824.5,1193.1 L828.2,1193.1 L831.9,1192.3 L835.7,1194.7 L839.4,1193.8 L843.2,1196.2 L846.9,1195.9 L850.7,1195.2 L854.4,1195.0 L858.2,1196.3 L861.9,1195.5 L865.6,1194.5 L869.4,1195.7 L873.1,1195.5 L876.9,1196.3 L880.6,1194.1 L884.4,1193.8 L888.1,1195.5 L891.9,1195.9 L895.6,1194.2 L899.4,1195.5 L903.1,1196.7 L906.8,1197.4 L910.6,1196.8 L914.3,1194.0 L918.1,1196.9 L921.8,1193.4 L925.6,1196.4 L929.3,1196.7 L933.1,1195.2 L936.8,1196.8 L940.5,1196.3 L944.3,1197.7 L948.0,1198.0 L951.8,1197.6 L953.5,1196.7" stroke="#23a983"/>
<path d="M94.2,1194.8 L97.9,1194.7 L101.7,1196.0 L105.4,1197.0 L109.2,1196.7 L112.9,1194.1 L116.7,1194.5 L120.4,1195.8 L124.2,1195.0 L127.9,1194.7 L131.6,1194.5 L135.4,1194.1 L139.1,1191.8 L142.9,1194.7 L146.6,1193.7 L150.4,1194.5 L154.1,1194.2 L157.9,1194.4 L161.6,1193.6 L165.4,1193.8 L169.1,1192.8 L172.8,1192.8 L176.6,1193.8 L180.3,1190.9 L184.1,1193.8 L187.8,1192.2 L191.6,1190.3 L195.3,1193.0 L199.1,1190.8 L202.8,1190.6 L206.5,1191.5 L210.3,1193.6 L214.0,1190.2 L217.8,1191.3 L221.5,1191.8 L225.3,1189.8 L229.0,1191.7 L232.8,1189.7 L236.5,1191.2 L240.3,1189.9 L244.0,1191.3 L247.7,1190.4 L251.5,1190.8 L255.2,1190.3 L259.0,1189.2 L262.7,1189.4 L266.5,1188.8 L270.2,1187.5 L274.0,1188.5 L277.7,1190.2 L281.4,1188.4 L285.2,1187.7 L288.9,1186.4 L292.7,1186.2 L296.4,1186.0 L300.2,1186.8 L303.9,1185.9 L307.7,1187.6 L311.4,1184.4 L315.1,1184.9 L318.9,1184.6 L322.6,1185.1 L326.4,1184.3 L330.1,1184.6 L333.9,1183.0 L337.6,1184.5 L341.4,1181.8 L345.1,1181.7 L348.9,1179.7 L352.6,1181.2 L356.3,1180.8 L360.1,1180.1 L363.8,1179.5 L367.6,1179.0 L371.3,1179.5 L375.1,1178.7 L378.8,1177.6 L382.6,1176.5 L386.3,1176.8 L390.0,1175.8 L393.8,1174.2 L397.5,1172.0 L401.3,1172.3 L405.0,1170.4 L408.8,1168.7 L412.5,1167.8 L416.3,1167.8 L420.0,1166.4 L423.8,1166.4 L427.5,1163.8 L431.2,1160.8 L435.0,1160.6 L438.7,1156.1 L442.5,1153.7 L446.2,1153.6 L450.0,1149.6 L453.7,1149.2 L457.5,1145.9 L461.2,1142.1 L464.9,1138.0 L468.7,1133.8 L472.4,1130.4 L476.2,1122.5 L479.9,1119.2 L483.7,1113.1 L487.4,1106.7 L491.2,1100.5 L494.9,1093.3 L498.6,1085.9 L502.4,1078.2 L506.1,1067.9 L509.9,1060.8 L513.6,1052.2 L517.4,1042.7 L521.1,1035.7 L524.9,1023.9 L528.6,1017.4 L533.5,1008.1 L537.2,1071.7 L540.9,1137.8 L543.6,1140.8 L547.3,1146.2 L551.1,1148.9 L554.8,1152.4 L558.6,1154.4 L562.3,1157.3 L566.1,1157.4 L569.8,1159.6 L573.5,1162.6 L577.3,1165.9 L581.0,1164.9 L584.8,1166.3 L588.5,1168.5 L592.3,1170.8 L596.0,1170.3 L599.8,1170.8 L603.5,1174.8 L607.3,1173.3 L611.0,1176.5 L614.7,1175.5 L618.5,1174.5 L622.2,1177.0 L626.0,1177.2 L629.7,1178.9 L633.5,1179.0 L637.2,1177.4 L641.0,1179.0 L644.7,1181.2 L648.4,1181.7 L652.2,1181.7 L655.9,1180.0 L659.7,1182.6 L663.4,1182.1 L667.2,1184.0 L670.9,1185.4 L674.7,1183.1 L678.4,1185.0 L682.1,1186.0 L685.9,1186.3 L689.6,1186.5 L693.4,1186.8 L697.1,1188.0 L700.9,1185.6 L704.6,1186.6 L708.4,1186.4 L712.1,1187.9 L715.9,1187.5 L719.6,1187.9 L723.3,1187.1 L727.1,1187.8 L730.8,1188.5 L734.6,1189.7 L738.3,1190.5 L742.1,1190.3 L745.8,1190.3 L749.6,1190.4 L753.3,1191.3 L757.0,1188.5 L760.8,1190.1 L764.5,1192.7 L768.3,1191.9 L772.0,1192.4 L775.8,1190.8 L779.5,1190.2 L783.3,1192.4 L787.0,1191.0 L790.8,1191.9 L794.5,1190.8 L798.2,1190.7 L802.0,1191.8 L805.7,1191.6 L809.5,1192.5 L813.2,1192.9 L817.0,1193.9 L820.7,1192.5 L824.5,1193.0 L828.2,1193.4 L831.9,1193.3 L835.7,1193.4 L839.4,1194.4 L843.2,1194.0 L846.9,1192.5 L850.7,1193.9 L854.4,1192.4 L858.2,1195.1 L861.9,1195.4 L865.6,1194.0 L869.4,1193.4 L873.1,1195.0 L876.9,1193.8 L880.6,1193.6 L884.4,1193.5 L888.1,1194.8 L891.9,1194.8 L895.6,1196.5 L899.4,1194.9 L903.1,1194.7 L906.8,1193.7 L910.6,1196.4 L914.3,1196.1 L918.1,1196.3 L921.8,1194.5 L925.6,1198.0 L929.3,1196.6 L933.1,1193.6 L936.8,1195.0 L940.5,1197.1 L944.3,1195.9 L948.0,1195.0 L951.8,1195.3 L953.5,1196.2" stroke="#29af7f"/>
<path d="M94.2,1193.2 L97.9,1194.6 L101.7,1195.0 L105.4,1192.9 L109.2,1192.7 L112.9,1194.2 L116.7,1192.3 L120.4,1192.3 L124.2,1193.7 L127.9,1191.2 L131.6,1193.1 L135.4,1192.7 L139.1,1195.2 L142.9,1192.1 L146.6,1193.1 L150.4,1192.0 L154.1,1194.0 L157.9,1191.1 L161.6,1190.6 L165.4,1190.1 L169.1,1194.7 L172.8,1191.2 L176.6,1191.2 L180.3,1194.4 L184.1,1192.0 L187.8,1191.3 L191.6,1189.6 L195.3,1191.7 L199.1,1190.6 L202.8,1190.6 L206.5,1190.0 L210.3,1190.6 L214.0,1189.3 L217.8,1189.0 L221.5,1191.1 L225.3,1188.4 L229.0,1190.1 L232.8,1189.4 L236.5,1187.9 L240.3,1188.6 L244.0,1188.0 L247.7,1187.5 L251.5,1187.5 L255.2,1188.4 L259.0,1188.6 L262.7,1186.7 L266.5,1186.4 L270.2,1186.5 L274.0,1186.9 L277.7,1185.5 L281.4,1186.2 L285.2,1187.2 L288.9,1185.2 L292.7,1184.6 L296.4,1184.1 L300.2,1185.4 L303.9,1185.0 L307.7,1183.5 L311.4,1183.9 L315.1,1183.2 L318.9,1181.8 L322.6,1181.8 L326.4,1180.1 L330.1,1181.3 L333.9,1179.4 L337.6,1179.5 L341.4,1177.8 L345.1,1179.6 L348.9,1179.2 L352.6,1177.3 L356.3,1178.4 L360.1,1177.9 L363.8,1176.3 L367.6,1175.5 L371.3,1176.6 L375.1,1174.3 L378.8,1174.1 L382.6,1173.0 L386.3,1171.8 L390.0,1171.3 L393.8,1168.9 L397.5,1168.7 L401.3,1168.1 L405.0,1166.9 L408.8,1164.7 L412.5,1163.8 L416.3,1161.7 L420.0,1161.7 L423.8,1159.7 L427.5,1156.0 L431.2,1156.4 L435.0,1152.7 L438.7,1151.3 L442.5,1150.3 L446.2,1148.8 L450.0,1144.0 L453.7,1142.2 L457.5,1138.9 L461.2,1136.3 L464.9,1129.9 L468.7,1126.5 L472.4,1121.7 L476.2,1116.7 L479.9,1111.0 L483.7,1105.5 L487.4,1098.3 L491.2,1091.6 L494.9,1087.0 L498.6,1076.4 L502.4,1068.0 L506.1,1060.0 L509.9,1049.4 L513.6,1044.7 L517.4,1037.2 L521.1,1023.8 L524.9,1017.1 L528.6,1009.1 L532.4,1001.8 L536.6,991.7 L540.3,1064.3 L544.1,1132.9 L547.3,1134.9 L551.1,1139.6 L554.8,1144.3 L558.6,1147.1 L562.3,1151.5 L566.1,1152.6 L569.8,1155.6 L573.5,1158.1 L577.3,1160.3 L581.0,1158.9 L584.8,1162.2 L588.5,1164.9 L592.3,1165.4 L596.0,1165.0 L599.8,1166.0 L603.5,1169.4 L607.3,1169.6 L611.0,1170.0 L614.7,1172.0 L618.5,1174.0 L622.2,1174.5 L626.0,1174.4 L629.7,1175.9 L633.5,1177.1 L637.2,1176.8 L641.0,1176.2 L644.7,1177.1 L648.4,1178.6 L652.2,1177.0 L655.9,1180.3 L659.7,1180.2 L663.4,1181.9 L667.2,1180.2 L670.9,1181.4 L674.7,1183.5 L678.4,1183.0 L682.1,1180.9 L685.9,1182.3 L689.6,1183.4 L693.4,1183.0 L697.1,1185.8 L700.9,1185.4 L704.6,1186.2 L708.4,1186.0 L712.1,1185.8 L715.9,1185.2 L719.6,1185.1 L723.3,1185.4 L727.1,1184.0 L730.8,1187.3 L734.6,1187.1 L738.3,1186.8 L742.1,1188.4 L745.8,1188.2 L749.6,1187.6 L753.3,1189.1 L757.0,1188.1 L760.8,1187.5 L764.5,1190.0 L768.3,1191.3 L772.0,1189.2 L775.8,1190.5 L779.5,1189.5 L783.3,1190.2 L787.0,1189.7 L790.8,1189.0 L794.5,1189.5 L798.2,1190.9 L802.0,1191.8 L805.7,1193.2 L809.5,1193.1 L813.2,1191.9 L817.0,1191.1 L820.7,1192.0 L824.5,1192.1 L828.2,1193.2 L831.9,1193.4 L835.7,1193.6 L839.4,1191.4 L843.2,1194.1 L846.9,1191.6 L850.7,1193.3 L854.4,1192.0 L858.2,1192.4 L861.9,1192.0 L865.6,1191.8 L869.4,1193.8 L873.1,1194.1 L876.9,1193.6 L880.6,1194.1 L884.4,1192.8 L888.1,1193.6 L891.9,1193.6 L895.6,1193.3 L899.4,1194.3 L903.1,1192.8 L906.8,1195.8 L910.6,1193.8 L914.3,1193.7 L918.1,1195.0 L921.8,1195.0 L925.6,1193.6 L929.3,1194.8 L933.1,1196.5 L936.8,1196.0 L940.5,1193.7 L944.3,1195.7 L948.0,1193.6 L951.8,1193.6 L953.5,1195.2" stroke="#32b67a"/>
<path d="M94.2,1193.3 L97.9,1192.7 L101.7,1191.7 L105.4,1193.6 L109.2,1191.6 L112.9,1191.8 L116.7,1193.0 L120.4,1191.5 L124.2,1192.7 L127.9,1192.0 L131.6,1192.1 L135.4,1191.4 L139.1,1192.6 L142.9,1190.9 L146.6,1193.3 L150.4,1191.4 L154.1,1191.5 L157.9,1189.4 L161.6,1190.3 L165.4,1191.0 L169.1,1191.3 L172.8,1190.2 L176.6,1190.7 L180.3,1187.9 L184.1,1192.4 L187.8,1189.7 L191.6,1191.9 L195.3,1188.3 L199.1,1189.9 L202.8,1187.5 L206.5,1189.4 L210.3,1187.5 L214.0,1188.3 L217.8,1187.2 L221.5,1188.1 L225.3,1190.6 L229.0,1188.4 L232.8,1188.9 L236.5,1186.3 L240.3,1186.5 L244.0,1186.8 L247.7,1186.1 L251.5,1186.2 L255.2,1186.6 L259.0,1184.0 L262.7,1185.2 L266.5,1185.5 L270.2,1186.3 L274.0,1185.3 L277.7,1184.4 L281.4,1184.3 L285.2,1184.1 L288.9,1183.5 L292.7,1184.1 L296.4,1182.8 L300.2,1183.9 L303.9,1182.8 L307.7,1182.4 L311.4,1180.3 L315.1,1180.3 L318.9,1180.2 L322.6,1180.9 L326.4,1179.8 L330.1,1178.1 L333.9,1177.3 L337.6,1179.2 L341.4,1177.7 L345.1,1176.7 L348.9,1175.8 L352.6,1175.6 L356.3,1174.3 L360.1,1175.5 L363.8,1172.1 L367.6,1174.0 L371.3,1171.9 L375.1,1170.7 L378.8,1169.2 L382.6,1168.5 L386.3,1167.4 L390.0,1166.4 L393.8,1166.6 L397.5,1164.4 L401.3,1162.7 L405.0,1163.4 L408.8,1162.7 L412.5,1161.1 L416.3,1157.0 L420.0,1155.4 L423.8,1155.3 L427.5,1153.1 L431.2,1150.5 L435.0,1148.1 L438.7,1148.3 L442.5,1144.4 L446.2,1141.6 L450.0,1138.3 L453.7,1135.0 L457.5,1131.8 L461.2,1127.6 L464.9,1126.1 L468.7,1115.9 L472.4,1113.3 L476.2,1108.0 L479.9,1103.8 L483.7,1096.3 L487.4,1088.2 L491.2,1081.4 L494.9,1076.0 L498.6,1069.0 L502.4,1059.7 L506.1,1051.4 L509.9,1041.2 L513.6,1034.6 L517.4,1025.0 L521.1,1016.1 L524.9,1008.4 L528.6,998.0 L532.4,992.2 L536.1,984.2 L539.8,975.9 L541.3,972.0 L545.1,995.1 L548.8,1066.0 L552.5,1133.4 L554.8,1136.5 L558.6,1140.6 L562.3,1143.4 L566.1,1146.3 L569.8,1148.1 L573.5,1150.6 L577.3,1154.3 L581.0,1155.8 L584.8,1157.6 L588.5,1158.5 L592.3,1160.0 L596.0,1162.8 L599.8,1163.6 L603.5,1164.3 L607.3,1164.6 L611.0,1166.8 L614.7,1166.3 L618.5,1168.8 L622.2,1169.2 L626.0,1171.0 L629.7,1172.7 L633.5,1172.4 L637.2,1172.8 L641.0,1173.7 L644.7,1174.6 L648.4,1175.7 L652.2,1176.7 L655.9,1176.9 L659.7,1176.8 L663.4,1176.9 L667.2,1181.4 L670.9,1178.2 L674.7,1178.3 L678.4,1178.6 L682.1,1179.8 L685.9,1180.0 L689.6,1181.5 L693.4,1181.5 L697.1,1181.4 L700.9,1183.3 L704.6,1183.4 L708.4,1182.8 L712.1,1184.6 L715.9,1183.6 L719.6,1185.5 L723.3,1184.1 L727.1,1184.6 L730.8,1185.4 L734.6,1186.0 L738.3,1185.8 L742.1,1187.8 L745.8,1186.4 L749.6,1186.1 L753.3,1185.3 L757.0,1187.2 L760.8,1187.1 L764.5,1185.8 L768.3,1185.8 L772.0,1188.0 L775.8,1186.8 L779.5,1187.0 L783.3,1187.7 L787.0,1189.3 L790.8,1189.5 L794.5,1188.1 L798.2,1186.7 L802.0,1189.3 L805.7,1187.9 L809.5,1187.7 L813.2,1190.8 L817.0,1190.4 L820.7,1188.6 L824.5,1189.2 L828.2,1189.8 L831.9,1190.4 L835.7,1190.0 L839.4,1191.3 L843.2,1188.5 L846.9,1192.0 L850.7,1192.8 L854.4,1191.2 L858.2,1190.0 L861.9,1191.9 L865.6,1191.7 L869.4,1192.7 L873.1,1191.9 L876.9,1193.0 L880.6,1193.1 L884.4,1193.6 L888.1,1192.8 L891.9,1190.6 L895.6,1192.6 L899.4,1192.4 L903.1,1190.6 L906.8,1193.4 L910.6,1193.8 L914.3,1192.5 L918.1,1194.3 L921.8,1192.9 L925.6,1192.2 L929.3,1194.4 L933.1,1194.0 L936.8,1191.9 L940.5,1194.6 L944.3,1194.3 L948.0,1193.5 L951.8,1194.2 L953.5,1194.7" stroke="#3dbc74"/>
<path d="M94.2,1191.6 L97.9,1190.4 L101.7,1191.7 L105.4,1191.0 L109.2,1191.4 L112.9,1191.5 L116.7,1190.7 L120.4,1190.6 L124.2,1191.0 L127.9,1190.5 L131.6,1190.2 L135.4,1190.5 L139.1,1190.6 L142.9,1190.0 L146.6,1189.0 L150.4,1188.6 L154.1,1189.2 L157.9,1189.6 L161.6,1189.1 L165.4,1187.1 L169.1,1187.9 L172.8,1189.4 L176.6,1188.5 L180.3,1188.7 L184.1,1188.4 L187.8,1189.5 L191.6,1187.7 L195.3,1189.0 L199.1,1187.8 L202.8,1185.7 L206.5,1186.0 L210.3,1187.6 L214.0,1187.5 L217.8,1187.1 L221.5,1188.0 L225.3,1186.9 L229.0,1185.9 L232.8,1186.4 L236.5,1184.4 L240.3,1185.0 L244.0,1185.0 L247.7,1182.8 L251.5,1183.5 L255.2,1183.8 L259.0,1181.9 L262.7,1182.0 L266.5,1183.6 L270.2,1182.4 L274.0,1182.7 L277.7,1183.2 L281.4,1179.7 L285.2,1179.7 L288.9,1182.0 L292.7,1180.0 L296.4,1181.5 L300.2,1178.6 L303.9,1179.2 L307.7,1179.1 L311.4,1177.4 L315.1,1178.0 L318.9,1177.7 L322.6,1176.0 L326.4,1176.7 L330.1,1175.0 L333.9,1175.4 L337.6,1174.0 L341.4,1173.4 L345.1,1172.7 L348.9,1173.7 L352.6,1170.2 L356.3,1171.4 L360.1,1169.0 L363.8,1170.4 L367.6,1169.4 L371.3,1168.4 L375.1,1166.1 L378.8,1166.8 L382.6,1164.7 L386.3,1165.4 L390.0,1163.4 L393.8,1161.5 L397.5,1160.5 L401.3,1161.0 L405.0,1157.2 L408.8,1157.2 L412.5,1153.1 L416.3,1153.3 L420.0,1149.2 L423.8,1148.5 L427.5,1146.7 L431.2,1145.3 L435.0,1142.8 L438.7,1139.8 L442.5,1138.7 L446.2,1132.7 L450.0,1132.0 L453.7,1127.8 L457.5,1126.0 L461.2,1119.5 L464.9,1114.5 L468.7,1110.5 L472.4,1104.8 L476.2,1100.0 L479.9,1093.7 L483.7,1086.4 L487.4,1081.5 L491.2,1073.2 L494.9,1064.7 L498.6,1058.4 L502.4,1049.1 L506.1,1041.8 L509.9,1033.6 L513.6,1022.4 L517.4,1016.4 L521.1,1005.1 L524.9,998.7 L528.6,991.5 L532.4,980.9 L536.1,972.3 L539.8,964.4 L543.6,958.4 L547.3,949.0 L548.8,946.9 L552.5,974.5 L556.3,1055.1 L560.0,1132.7 L562.3,1133.7 L566.1,1138.3 L569.8,1140.6 L573.5,1145.6 L577.3,1148.0 L581.0,1149.9 L584.8,1149.6 L588.5,1154.3 L592.3,1156.5 L596.0,1156.8 L599.8,1156.9 L603.5,1161.1 L607.3,1161.2 L611.0,1163.5 L614.7,1162.0 L618.5,1163.9 L622.2,1165.5 L626.0,1166.5 L629.7,1167.9 L633.5,1168.5 L637.2,1170.0 L641.0,1171.0 L644.7,1172.2 L648.4,1171.7 L652.2,1173.3 L655.9,1172.2 L659.7,1175.8 L663.4,1173.9 L667.2,1174.5 L670.9,1174.4 L674.7,1176.5 L678.4,1178.2 L682.1,1178.2 L685.9,1176.6 L689.6,1178.6 L693.4,1179.1 L697.1,1179.9 L700.9,1179.6 L704.6,1180.4 L708.4,1181.9 L712.1,1181.3 L715.9,1180.2 L719.6,1180.1 L723.3,1182.0 L727.1,1182.7 L730.8,1181.3 L734.6,1183.0 L738.3,1184.2 L742.1,1183.5 L745.8,1183.1 L749.6,1182.5 L753.3,1184.8 L757.0,1184.0 L760.8,1185.1 L764.5,1184.0 L768.3,1185.1 L772.0,1185.5 L775.8,1186.7 L779.5,1186.4 L783.3,1186.5 L787.0,1190.0 L790.8,1185.8 L794.5,1187.0 L798.2,1187.3 L802.0,1187.7 L805.7,1187.5 L809.5,1187.5 L813.2,1189.1 L817.0,1187.9 L820.7,1188.1 L824.5,1188.3 L828.2,1190.0 L831.9,1188.9 L835.7,1190.1 L839.4,1188.7 L843.2,1187.9 L846.9,1188.5 L850.7,1189.9 L854.4,1190.3 L858.2,1190.3 L861.9,1189.7 L865.6,1190.7 L869.4,1190.7 L873.1,1192.8 L876.9,1191.3 L880.6,1191.4 L884.4,1191.2 L888.1,1189.7 L891.9,1192.3 L895.6,1192.3 L899.4,1190.6 L903.1,1192.2 L906.8,1191.6 L910.6,1191.4 L914.3,1191.5 L918.1,1192.5 L921.8,1191.0 L925.6,1190.5 L929.3,1193.0 L933.1,1192.4 L936.8,1191.4 L940.5,1192.5 L944.3,1193.3 L948.0,1192.9 L951.8,1191.8 L953.5,1193.6" stroke="#4ac16d"/>
<path d="M94.2,1189.7 L97.9,1189.7 L101.7,1189.2 L105.4,1189.5 L109.2,1190.5 L112.9,1188.5 L116.7,1188.9 L120.4,1189.6 L124.2,1189.1 L127.9,1188.4 L131.6,1188.4 L135.4,1188.6 L139.1,1187.5 L142.9,1187.1 L146.6,1188.3 L150.4,1187.7 L154.1,1188.7 L157.9,1187.7 L161.6,1186.8 L165.4,1186.3 L169.1,1186.7 L172.8,1186.8 L176.6,1187.2 L180.3,1186.1 L184.1,1187.2 L187.8,1185.8 L191.6,1185.7 L195.3,1186.5 L199.1,1185.0 L202.8,1185.3 L206.5,1184.3 L210.3,1185.1 L214.0,1183.9 L217.8,1182.6 L221.5,1183.8 L225.3,1182.9 L229.0,1184.0 L232.8,1183.5 L236.5,1184.7 L240.3,1182.8 L244.0,1183.3 L247.7,1181.9 L251.5,1183.7 L255.2,1182.2 L259.0,1180.9 L262.7,1180.3 L266.5,1181.9 L270.2,1180.4 L274.0,1177.2 L277.7,1178.7 L281.4,1178.9 L285.2,1181.1 L288.9,1179.0 L292.7,1177.0 L296.4,1176.9 L300.2,1176.4 L303.9,1175.3 L307.7,1175.5 L311.4,1174.5 L315.1,1176.5 L318.9,1171.8 L322.6,1174.0 L326.4,1173.7 L330.1,1171.0 L333.9,1171.2 L337.6,1170.3 L341.4,1171.1 L345.1,1169.6 L348.9,1168.3 L352.6,1169.4 L356.3,1167.8 L360.1,1166.9 L363.8,1166.1 L367.6,1165.6 L371.3,1164.9 L375.1,1162.6 L378.8,1161.5 L382.6,1159.4 L386.3,1159.6 L390.0,1158.7 L393.8,1158.1 L397.5,1155.6 L401.3,1154.2 L405.0,1150.4 L408.8,1148.7 L412.5,1147.4 L416.3,1147.9 L420.0,1146.6 L423.8,1143.6 L427.5,1141.5 L431.2,1137.0 L435.0,1135.9 L438.7,1133.3 L442.5,1130.3 L446.2,1125.4 L450.0,1123.6 L453.7,1119.6 L457.5,1116.4 L461.2,1111.4 L464.9,1107.0 L468.7,1101.2 L472.4,1095.5 L476.2,1088.9 L479.9,1083.5 L483.7,1078.4 L487.4,1071.9 L491.2,1063.6 L494.9,1056.7 L498.6,1048.0 L502.4,1040.4 L506.1,1031.6 L509.9,1021.8 L513.6,1015.1 L517.4,1005.4 L521.1,996.9 L524.9,989.4 L528.6,980.8 L532.4,974.6 L536.1,965.4 L539.8,957.1 L543.6,948.0 L547.3,939.7 L551.1,933.5 L554.8,924.2 L556.5,921.8 L560.2,951.8 L563.9,1041.6 L567.7,1130.6 L569.8,1132.5 L573.5,1137.4 L577.3,1139.3 L581.0,1142.2 L584.8,1144.0 L588.5,1147.3 L592.3,1148.6 L596.0,1150.7 L599.8,1153.9 L603.5,1152.3 L607.3,1154.8 L611.0,1157.7 L614.7,1159.8 L618.5,1160.3 L622.2,1161.8 L626.0,1162.6 L629.7,1164.7 L633.5,1165.0 L637.2,1165.1 L641.0,1165.8 L644.7,1168.8 L648.4,1167.8 L652.2,1169.5 L655.9,1170.5 L659.7,1170.7 L663.4,1171.6 L667.2,1170.9 L670.9,1171.4 L674.7,1173.0 L678.4,1173.9 L682.1,1172.1 L685.9,1172.7 L689.6,1174.7 L693.4,1175.8 L697.1,1175.1 L700.9,1175.2 L704.6,1177.6 L708.4,1175.7 L712.1,1178.1 L715.9,1177.2 L719.6,1179.3 L723.3,1179.0 L727.1,1180.0 L730.8,1179.9 L734.6,1179.3 L738.3,1181.6 L742.1,1181.3 L745.8,1180.7 L749.6,1182.2 L753.3,1179.9 L757.0,1183.7 L760.8,1180.1 L764.5,1183.5 L768.3,1182.1 L772.0,1181.7 L775.8,1183.1 L779.5,1185.2 L783.3,1184.5 L787.0,1184.4 L790.8,1184.0 L794.5,1183.9 L798.2,1184.1 L802.0,1183.8 L805.7,1186.5 L809.5,1184.7 L813.2,1187.6 L817.0,1186.0 L820.7,1187.3 L824.5,1188.3 L828.2,1185.9 L831.9,1186.9 L835.7,1186.1 L839.4,1188.8 L843.2,1188.6 L846.9,1187.7 L850.7,1188.5 L854.4,1187.8 L858.2,1188.7 L861.9,1188.5 L865.6,1189.4 L869.4,1187.3 L873.1,1189.0 L876.9,1190.0 L880.6,1188.3 L884.4,1188.6 L888.1,1189.0 L891.9,1189.1 L895.6,1190.0 L899.4,1189.8 L903.1,1191.9 L906.8,1191.4 L910.6,1191.3 L914.3,1189.9 L918.1,1189.0 L921.8,1190.6 L925.6,1190.8 L929.3,1189.4 L933.1,1191.0 L936.8,1190.2 L940.5,1190.5 L944.3,1192.4 L948.0,1190.9 L951.8,1191.1 L953.5,1192.4" stroke="#58c765"/>
<path d="M94.2,1188.0 L97.9,1188.8 L101.7,1188.1 L105.4,1190.5 L109.2,1187.6 L112.9,1187.8 L116.7,1189.7 L120.4,1186.6 L124.2,1187.6 L127.9,1186.5 L131.6,1187.0 L135.4,1186.0 L139.1,1186.3 L142.9,1186.4 L146.6,1185.6 L150.4,1185.0 L154.1,1187.9 L157.9,1185.4 L161.6,1185.9 L165.4,1186.1 L169.1,1183.6 L172.8,1183.7 L176.6,1185.5 L180.3,1185.4 L184.1,1183.2 L187.8,1184.4 L191.6,1183.9 L195.3,1185.3 L199.1,1183.2 L202.8,1181.7 L206.5,1183.1 L210.3,1182.6 L214.0,1180.3 L217.8,1180.9 L221.5,1180.2 L225.3,1180.5 L229.0,1179.9 L232.8,1182.2 L236.5,1181.1 L240.3,1181.6 L244.0,1177.4 L247.7,1179.1 L251.5,1179.2 L255.2,1179.5 L259.0,1179.4 L262.7,1180.7 L266.5,1175.2 L270.2,1177.2 L274.0,1176.7 L277.7,1177.7 L281.4,1175.9 L285.2,1174.9 L288.9,1175.1 L292.7,1173.8 L296.4,1174.8 L300.2,1173.3 L303.9,1172.2 L307.7,1171.8 L311.4,1171.5 L315.1,1171.4 L318.9,1171.6 L322.6,1169.4 L326.4,1169.8 L330.1,1169.5 L333.9,1167.3 L337.6,1169.0 L341.4,1167.1 L345.1,1165.1 L348.9,1164.0 L352.6,1164.3 L356.3,1162.9 L360.1,1161.6 L363.8,1161.3 L367.6,1161.1 L371.3,1158.8 L375.1,1157.8 L378.8,1156.6 L382.6,1154.5 L386.3,1154.0 L390.0,1153.0 L393.8,1151.0 L397.5,1147.9 L401.3,1148.8 L405.0,1146.5 L408.8,1145.3 L412.5,1142.3 L416.3,1142.1 L420.0,1138.3 L423.8,1135.7 L427.5,1134.8 L431.2,1131.7 L435.0,1129.4 L438.7,1125.1 L442.5,1122.7 L446.2,1118.7 L450.0,1114.9 L453.7,1111.5 L457.5,1104.9 L461.2,1099.5 L464.9,1098.9 L468.7,1091.5 L472.4,1085.5 L476.2,1081.2 L479.9,1074.2 L483.7,1067.5 L487.4,1058.8 L491.2,1052.3 L494.9,1045.0 L498.6,1037.2 L502.4,1030.6 L506.1,1021.3 L509.9,1015.3 L513.6,1006.5 L517.4,996.6 L521.1,987.1 L524.9,979.8 L528.6,973.3 L532.4,963.5 L536.1,955.5 L539.8,945.4 L543.6,938.6 L547.3,928.8 L551.1,923.9 L554.8,915.7 L558.6,907.2 L562.3,902.3 L566.1,895.8 L569.8,886.8 L573.5,919.9 L577.2,1029.8 L581.0,1133.7 L584.8,1137.4 L588.5,1138.9 L592.3,1140.6 L596.0,1142.6 L599.8,1144.7 L603.5,1148.7 L607.3,1148.7 L611.0,1152.6 L614.7,1152.8 L618.5,1154.3 L622.2,1155.1 L626.0,1156.8 L629.7,1157.0 L633.5,1160.0 L637.2,1159.9 L641.0,1161.1 L644.7,1162.3 L648.4,1164.6 L652.2,1163.6 L655.9,1165.2 L659.7,1165.2 L663.4,1166.7 L667.2,1167.6 L670.9,1168.0 L674.7,1168.6 L678.4,1169.0 L682.1,1168.6 L685.9,1171.6 L689.6,1169.7 L693.4,1175.0 L697.1,1171.8 L700.9,1173.9 L704.6,1171.8 L708.4,1175.2 L712.1,1173.7 L715.9,1176.3 L719.6,1176.8 L723.3,1175.4 L727.1,1175.7 L730.8,1177.6 L734.6,1175.2 L738.3,1178.1 L742.1,1176.6 L745.8,1179.6 L749.6,1179.7 L753.3,1179.2 L757.0,1180.4 L760.8,1179.4 L764.5,1182.3 L768.3,1180.3 L772.0,1181.3 L775.8,1182.1 L779.5,1181.3 L783.3,1182.1 L787.0,1182.4 L790.8,1181.5 L794.5,1182.2 L798.2,1182.4 L802.0,1181.8 L805.7,1183.3 L809.5,1182.7 L813.2,1184.1 L817.0,1183.3 L820.7,1183.7 L824.5,1184.9 L828.2,1186.0 L831.9,1186.1 L835.7,1186.0 L839.4,1184.7 L843.2,1185.5 L846.9,1185.9 L850.7,1185.2 L854.4,1185.4 L858.2,1184.8 L861.9,1186.9 L865.6,1186.0 L869.4,1185.9 L873.1,1187.8 L876.9,1186.9 L880.6,1188.0 L884.4,1187.5 L888.1,1187.2 L891.9,1189.3 L895.6,1188.6 L899.4,1188.7 L903.1,1188.0 L906.8,1188.9 L910.6,1188.0 L914.3,1189.3 L918.1,1189.2 L921.8,1188.1 L925.6,1188.6 L929.3,1188.8 L933.1,1189.2 L936.8,1188.3 L940.5,1188.0 L944.3,1189.8 L948.0,1190.3 L951.8,1190.8 L953.5,1188.0" stroke="#67cc5c"/>
<path d="M94.2,1185.6 L97.9,1186.2 L101.7,1186.9 L105.4,1185.5 L109.2,1185.6 L112.9,1186.5 L116.7,1184.9 L120.4,1184.7 L124.2,1185.2 L127.9,1184.0 L131.6,1185.9 L135.4,1183.8 L139.1,1184.6 L142.9,1185.1 L146.6,1184.6 L150.4,1182.7 L154.1,1184.0 L157.9,1183.8 L161.6,1183.7 L165.4,1183.8 L169.1,1181.7 L172.8,1180.3 L176.6,1181.0 L180.3,1181.4 L184.1,1181.1 L187.8,1181.9 L191.6,1181.8 L195.3,1182.2 L199.1,1179.4 L202.8,1180.9 L206.5,1180.9 L210.3,1180.4 L214.0,1179.6 L217.8,1180.0 L221.5,1179.1 L225.3,1178.6 L229.0,1177.0 L232.8,1179.2 L236.5,1177.4 L240.3,1178.0 L244.0,1177.2 L247.7,1175.2 L251.5,1175.8 L255.2,1176.3 L259.0,1175.0 L262.7,1175.1 L266.5,1173.7 L270.2,1174.8 L274.0,1173.3 L277.7,1173.6 L281.4,1172.9 L285.2,1172.6 L288.9,1172.3 L292.7,1171.2 L296.4,1169.7 L300.2,1170.9 L303.9,1170.0 L307.7,1168.7 L311.4,1169.2 L315.1,1167.0 L318.9,1166.5 L322.6,1168.9 L326.4,1166.4 L330.1,1166.0 L333.9,1163.7 L337.6,1162.6 L341.4,1163.7 L345.1,1162.3 L348.9,1161.0 L352.6,1160.2 L356.3,1158.0 L360.1,1156.8 L363.8,1156.4 L367.6,1154.8 L371.3,1153.6 L375.1,1153.4 L378.8,1152.6 L382.6,1151.5 L386.3,1148.5 L390.0,1147.0 L393.8,1145.4 L397.5,1145.0 L401.3,1143.6 L405.0,1140.5 L408.8,1137.7 L412.5,1136.5 L416.3,1134.7 L420.0,1133.4 L423.8,1129.6 L427.5,1126.8 L431.2,1126.1 L435.0,1120.0 L438.7,1119.8 L442.5,1114.4 L446.2,1112.1 L450.0,1107.3 L453.7,1104.5 L457.5,1100.1 L461.2,1093.8 L464.9,1090.2 L468.7,1085.3 L472.4,1078.4 L476.2,1072.8 L479.9,1067.0 L483.7,1060.1 L487.4,1052.3 L491.2,1047.1 L494.9,1038.8 L498.6,1031.6 L502.4,1025.3 L506.1,1018.4 L509.9,1009.2 L513.6,1000.3 L517.4,993.2 L521.1,983.9 L524.9,976.3 L528.6,967.3 L532.4,960.6 L536.1,952.8 L539.8,942.9 L543.6,935.0 L547.3,928.0 L551.1,919.8 L554.8,909.5 L558.6,904.9 L562.3,897.3 L566.1,890.6 L569.8,884.0 L573.5,874.9 L577.3,867.2 L581.0,860.6 L584.8,854.2 L588.4,848.6 L592.2,891.1 L595.9,1014.7 L599.7,1137.6 L603.5,1139.2 L607.3,1140.7 L611.0,1142.1 L614.7,1145.6 L618.5,1145.8 L622.2,1145.8 L626.0,1151.1 L629.7,1151.4 L633.5,1152.7 L637.2,1153.1 L641.0,1153.3 L644.7,1155.2 L648.4,1157.5 L652.2,1159.2 L655.9,1159.6 L659.7,1160.6 L663.4,1161.1 L667.2,1163.3 L670.9,1161.8 L674.7,1164.7 L678.4,1164.3 L682.1,1165.6 L685.9,1167.4 L689.6,1167.0 L693.4,1167.8 L697.1,1168.6 L700.9,1168.3 L704.6,1170.1 L708.4,1167.9 L712.1,1169.7 L715.9,1172.0 L719.6,1174.2 L723.3,1171.0 L727.1,1172.6 L730.8,1173.2 L734.6,1174.8 L738.3,1175.7 L742.1,1176.4 L745.8,1172.7 L749.6,1174.0 L753.3,1176.4 L757.0,1174.3 L760.8,1178.5 L764.5,1176.3 L768.3,1176.8 L772.0,1178.6 L775.8,1178.7 L779.5,1179.5 L783.3,1178.6 L787.0,1177.8 L790.8,1178.4 L794.5,1179.1 L798.2,1178.8 L802.0,1182.1 L805.7,1178.6 L809.5,1180.9 L813.2,1182.2 L817.0,1181.8 L820.7,1182.2 L824.5,1181.7 L828.2,1181.8 L831.9,1184.6 L835.7,1181.4 L839.4,1181.1 L843.2,1184.1 L846.9,1181.8 L850.7,1182.1 L854.4,1182.6 L858.2,1182.2 L861.9,1185.4 L865.6,1183.4 L869.4,1185.4 L873.1,1182.2 L876.9,1185.8 L880.6,1186.2 L884.4,1184.1 L888.1,1184.7 L891.9,1185.5 L895.6,1185.5 L899.4,1185.2 L903.1,1184.3 L906.8,1186.9 L910.6,1187.0 L914.3,1187.1 L918.1,1186.7 L921.8,1186.7 L925.6,1188.3 L929.3,1186.9 L933.1,1188.4 L936.8,1187.7 L940.5,1187.7 L944.3,1187.9 L948.0,1186.3 L951.8,1186.4 L953.5,1186.9" stroke="#77d153"/>
<path d="M94.2,1184.2 L97.9,1183.8 L101.7,1184.1 L105.4,1182.5 L109.2,1185.6 L112.9,1181.1 L116.7,1183.7 L120.4,1184.4 L124.2,1184.7 L127.9,1181.9 L131.6,1182.1 L135.4,1182.7 L139.1,1182.3 L142.9,1181.8 L146.6,1182.3 L150.4,1180.5 L154.1,1180.7 L157.9,1181.2 L161.6,1182.5 L165.4,1179.4 L169.1,1180.8 L172.8,1181.1 L176.6,1178.6 L180.3,1179.1 L184.1,1181.5 L187.8,1180.6 L191.6,1179.3 L195.3,1179.7 L199.1,1178.4 L202.8,1175.3 L206.5,1174.7 L210.3,1177.5 L214.0,1176.0 L217.8,1175.9 L221.5,1176.4 L225.3,1177.5 L229.0,1174.6 L232.8,1175.3 L236.5,1174.6 L240.3,1173.8 L244.0,1174.8 L247.7,1172.0 L251.5,1173.2 L255.2,1172.7 L259.0,1173.0 L262.7,1171.4 L266.5,1170.6 L270.2,1171.5 L274.0,1170.0 L277.7,1170.3 L281.4,1170.7 L285.2,1169.3 L288.9,1167.8 L292.7,1167.5 L296.4,1166.2 L300.2,1167.5 L303.9,1166.4 L307.7,1165.1 L311.4,1164.3 L315.1,1164.2 L318.9,1164.2 L322.6,1164.1 L326.4,1160.7 L330.1,1160.0 L333.9,1160.6 L337.6,1158.1 L341.4,1158.6 L345.1,1156.9 L348.9,1155.2 L352.6,1156.1 L356.3,1155.4 L360.1,1155.1 L363.8,1151.5 L367.6,1150.5 L371.3,1149.1 L375.1,1147.9 L378.8,1147.2 L382.6,1144.3 L386.3,1145.2 L390.0,1142.0 L393.8,1140.4 L397.5,1139.0 L401.3,1135.6 L405.0,1135.0 L408.8,1132.3 L412.5,1130.5 L416.3,1129.1 L420.0,1124.8 L423.8,1122.4 L427.5,1121.3 L431.2,1118.8 L435.0,1116.2 L438.7,1112.5 L442.5,1108.9 L446.2,1105.0 L450.0,1101.9 L453.7,1096.2 L457.5,1092.9 L461.2,1089.4 L464.9,1084.0 L468.7,1079.6 L472.4,1074.5 L476.2,1067.4 L479.9,1060.1 L483.7,1055.7 L487.4,1049.8 L491.2,1042.0 L494.9,1031.1 L498.6,1028.2 L502.4,1019.6 L506.1,1010.8 L509.9,1002.6 L513.6,995.1 L517.4,987.4 L521.1,978.4 L524.9,972.9 L528.6,963.2 L532.4,958.0 L536.1,948.5 L539.8,941.9 L543.6,932.1 L547.3,927.2 L551.1,917.5 L554.8,909.1 L558.6,903.1 L562.3,895.1 L566.1,886.7 L569.8,881.3 L573.5,871.0 L577.3,866.5 L581.0,859.5 L584.8,850.3 L588.5,844.3 L592.3,838.9 L596.0,831.8 L599.8,825.3 L603.5,819.4 L607.3,812.4 L612.0,804.9 L615.8,852.2 L619.5,999.6 L623.3,1139.8 L626.0,1139.8 L629.7,1142.1 L633.5,1145.1 L637.2,1145.4 L641.0,1147.3 L644.7,1149.3 L648.4,1150.0 L652.2,1151.3 L655.9,1153.1 L659.7,1152.5 L663.4,1155.7 L667.2,1154.9 L670.9,1155.6 L674.7,1156.2 L678.4,1159.0 L682.1,1160.5 L685.9,1162.7 L689.6,1162.0 L693.4,1160.4 L697.1,1165.0 L700.9,1165.6 L704.6,1164.2 L708.4,1164.9 L712.1,1168.2 L715.9,1166.9 L719.6,1167.0 L723.3,1169.5 L727.1,1167.6 L730.8,1170.5 L734.6,1168.5 L738.3,1170.1 L742.1,1171.3 L745.8,1172.7 L749.6,1172.0 L753.3,1172.1 L757.0,1172.7 L760.8,1173.5 L764.5,1173.6 L768.3,1173.0 L772.0,1175.0 L775.8,1174.8 L779.5,1174.5 L783.3,1175.4 L787.0,1174.9 L790.8,1174.5 L794.5,1176.8 L798.2,1176.6 L802.0,1180.2 L805.7,1177.8 L809.5,1177.1 L813.2,1179.0 L817.0,1177.0 L820.7,1180.4 L824.5,1177.4 L828.2,1179.7 L831.9,1180.5 L835.7,1180.1 L839.4,1180.3 L843.2,1181.2 L846.9,1181.7 L850.7,1181.2 L854.4,1179.9 L858.2,1180.9 L861.9,1180.1 L865.6,1182.2 L869.4,1182.3 L873.1,1182.4 L876.9,1182.1 L880.6,1182.2 L884.4,1180.9 L888.1,1182.2 L891.9,1182.9 L895.6,1181.8 L899.4,1184.4 L903.1,1184.9 L906.8,1183.2 L910.6,1183.9 L914.3,1184.1 L918.1,1183.4 L921.8,1184.9 L925.6,1184.8 L929.3,1184.5 L933.1,1184.4 L936.8,1184.2 L940.5,1185.2 L944.3,1185.2 L948.0,1188.0 L951.8,1184.6 L953.5,1187.5" stroke="#86d549"/>
<path d="M94.2,1182.2 L97.9,1181.0 L101.7,1181.5 L105.4,1181.8 L109.2,1181.1 L112.9,1180.5 L116.7,1180.4 L120.4,1178.8 L124.2,1183.5 L127.9,1181.1 L131.6,1180.7 L135.4,1179.0 L139.1,1179.5 L142.9,1178.6 L146.6,1180.7 L150.4,1179.1 L154.1,1178.1 L157.9,1178.5 L161.6,1178.5 L165.4,1177.7 L169.1,1176.1 L172.8,1179.4 L176.6,1175.5 L180.3,1176.6 L184.1,1177.4 L187.8,1175.4 L191.6,1175.9 L195.3,1174.4 L199.1,1176.0 L202.8,1174.0 L206.5,1175.5 L210.3,1173.9 L214.0,1173.3 L217.8,1173.5 L221.5,1172.6 L225.3,1173.3 L229.0,1171.3 L232.8,1172.1 L236.5,1172.4 L240.3,1171.2 L244.0,1170.5 L247.7,1171.1 L251.5,1168.9 L255.2,1169.4 L259.0,1168.3 L262.7,1169.7 L266.5,1169.2 L270.2,1167.5 L274.0,1167.8 L277.7,1166.2 L281.4,1165.3 L285.2,1163.9 L288.9,1162.8 L292.7,1162.9 L296.4,1163.8 L300.2,1161.9 L303.9,1162.3 L307.7,1160.1 L311.4,1161.3 L315.1,1158.2 L318.9,1158.4 L322.6,1158.2 L326.4,1158.3 L330.1,1155.9 L333.9,1155.8 L337.6,1154.1 L341.4,1154.0 L345.1,1152.7 L348.9,1150.6 L352.6,1148.6 L356.3,1150.3 L360.1,1147.7 L363.8,1146.0 L367.6,1145.3 L371.3,1144.1 L375.1,1140.2 L378.8,1141.9 L382.6,1138.9 L386.3,1137.7 L390.0,1135.8 L393.8,1136.0 L397.5,1131.4 L401.3,1130.6 L405.0,1129.1 L408.8,1123.8 L412.5,1124.0 L416.3,1121.8 L420.0,1118.9 L423.8,1114.6 L427.5,1112.7 L431.2,1109.8 L435.0,1107.7 L438.7,1104.0 L442.5,1098.9 L446.2,1095.7 L450.0,1093.4 L453.7,1087.8 L457.5,1082.8 L461.2,1075.3 L464.9,1074.0 L468.7,1069.4 L472.4,1060.9 L476.2,1056.2 L479.9,1050.9 L483.7,1042.7 L487.4,1037.1 L491.2,1031.8 L494.9,1024.3 L498.6,1017.0 L502.4,1007.6 L506.1,1003.2 L509.9,992.8 L513.6,988.5 L517.4,976.7 L521.1,969.9 L524.9,964.6 L528.6,955.6 L532.4,948.7 L536.1,940.6 L539.8,929.5 L543.6,923.4 L547.3,917.1 L551.1,909.4 L554.8,902.2 L558.6,892.3 L562.3,890.7 L566.1,880.1 L569.8,873.7 L573.5,867.6 L577.3,857.8 L581.0,851.4 L584.8,842.9 L588.5,838.3 L592.3,832.0 L596.0,825.5 L599.8,820.0 L603.5,810.0 L607.3,804.2 L611.0,798.8 L614.7,789.5 L618.5,789.3 L622.2,782.1 L626.0,774.7 L629.7,770.7 L633.5,762.7 L635.9,759.4 L639.7,816.0 L643.4,981.1 L647.2,1142.8 L652.2,1146.2 L655.9,1146.8 L659.7,1148.4 L663.4,1150.9 L667.2,1150.2 L670.9,1150.8 L674.7,1150.8 L678.4,1153.6 L682.1,1155.3 L685.9,1155.9 L689.6,1156.0 L693.4,1156.9 L697.1,1159.4 L700.9,1158.9 L704.6,1159.5 L708.4,1162.7 L712.1,1160.3 L715.9,1162.7 L719.6,1161.9 L723.3,1163.6 L727.1,1164.4 L730.8,1165.1 L734.6,1165.2 L738.3,1165.2 L742.1,1167.0 L745.8,1168.1 L749.6,1168.6 L753.3,1169.1 L757.0,1168.2 L760.8,1170.4 L764.5,1168.4 L768.3,1170.0 L772.0,1170.8 L775.8,1169.9 L779.5,1172.0 L783.3,1172.4 L787.0,1171.7 L790.8,1172.1 L794.5,1174.1 L798.2,1171.1 L802.0,1173.5 L805.7,1175.5 L809.5,1174.6 L813.2,1174.1 L817.0,1175.0 L820.7,1174.8 L824.5,1173.6 L828.2,1175.3 L831.9,1174.7 L835.7,1176.2 L839.4,1177.9 L843.2,1175.9 L846.9,1178.5 L850.7,1177.0 L854.4,1177.5 L858.2,1179.4 L861.9,1179.4 L865.6,1179.2 L869.4,1178.8 L873.1,1178.2 L876.9,1179.7 L880.6,1178.1 L884.4,1179.2 L888.1,1181.2 L891.9,1181.2 L895.6,1180.7 L899.4,1181.6 L903.1,1181.3 L906.8,1180.6 L910.6,1181.3 L914.3,1180.8 L918.1,1182.8 L921.8,1183.2 L925.6,1183.8 L929.3,1184.4 L933.1,1183.2 L936.8,1182.8 L940.5,1183.2 L944.3,1183.3 L948.0,1181.6 L951.8,1184.6 L953.5,1184.0" stroke="#9dd93b"/>
<path d="M94.2,1178.4 L97.9,1179.2 L101.7,1178.9 L105.4,1178.1 L109.2,1177.0 L112.9,1178.4 L116.7,1176.4 L120.4,1178.3 L124.2,1177.1 L127.9,1178.1 L131.6,1176.6 L135.4,1177.4 L139.1,1176.3 L142.9,1175.3 L146.6,1176.6 L150.4,1177.2 L154.1,1175.5 L157.9,1174.4 L161.6,1174.4 L165.4,1175.1 L169.1,1173.2 L172.8,1174.0 L176.6,1172.5 L180.3,1173.8 L184.1,1172.1 L187.8,1171.1 L191.6,1172.5 L195.3,1171.8 L199.1,1170.7 L202.8,1170.3 L206.5,1170.0 L210.3,1170.1 L214.0,1171.0 L217.8,1169.2 L221.5,1169.9 L225.3,1168.4 L229.0,1170.2 L232.8,1166.1 L236.5,1165.2 L240.3,1166.2 L244.0,1166.7 L247.7,1165.7 L251.5,1164.1 L255.2,1163.9 L259.0,1164.6 L262.7,1162.0 L266.5,1162.1 L270.2,1161.4 L274.0,1162.0 L277.7,1160.7 L281.4,1160.7 L285.2,1159.1 L288.9,1159.4 L292.7,1157.0 L296.4,1157.4 L300.2,1156.1 L303.9,1155.4 L307.7,1154.6 L311.4,1155.4 L315.1,1151.8 L318.9,1152.1 L322.6,1151.6 L326.4,1151.6 L330.1,1149.8 L333.9,1148.9 L337.6,1147.1 L341.4,1146.9 L345.1,1144.7 L348.9,1143.3 L352.6,1142.9 L356.3,1139.1 L360.1,1139.7 L363.8,1137.8 L367.6,1136.4 L371.3,1135.1 L375.1,1132.7 L378.8,1130.1 L382.6,1130.1 L386.3,1128.3 L390.0,1125.5 L393.8,1126.2 L397.5,1121.3 L401.3,1119.3 L405.0,1116.3 L408.8,1115.5 L412.5,1112.1 L416.3,1110.0 L420.0,1106.4 L423.8,1102.3 L427.5,1100.0 L431.2,1096.3 L435.0,1090.8 L438.7,1088.7 L442.5,1086.7 L446.2,1081.6 L450.0,1076.2 L453.7,1071.1 L457.5,1066.3 L461.2,1060.9 L464.9,1057.1 L468.7,1051.1 L472.4,1045.1 L476.2,1038.2 L479.9,1033.9 L483.7,1026.3 L487.4,1018.6 L491.2,1012.8 L494.9,1006.5 L498.6,996.7 L502.4,991.1 L506.1,982.1 L509.9,973.7 L513.6,968.4 L517.4,959.5 L521.1,954.7 L524.9,944.6 L528.6,937.2 L532.4,931.8 L536.1,924.1 L539.8,915.0 L543.6,910.2 L547.3,899.2 L551.1,893.4 L554.8,886.0 L558.6,879.7 L562.3,872.4 L566.1,865.1 L569.8,858.2 L573.5,850.4 L577.3,845.6 L581.0,836.1 L584.8,830.5 L588.5,824.7 L592.3,820.5 L596.0,811.0 L599.8,804.3 L603.5,796.8 L607.3,794.8 L611.0,786.4 L614.7,782.0 L618.5,771.3 L622.2,766.5 L626.0,762.5 L629.7,760.1 L633.5,752.3 L637.2,745.2 L641.0,739.7 L644.7,732.5 L648.4,726.2 L652.2,717.1 L655.9,718.7 L659.7,710.5 L663.4,704.7 L667.2,705.6 L670.9,692.6 L674.7,690.2 L678.4,689.1 L682.1,682.0 L685.9,676.7 L689.6,670.3 L693.4,664.8 L697.1,661.4 L699.6,660.1 L703.3,728.8 L707.1,949.0 L710.8,1155.9 L715.9,1157.3 L719.6,1158.2 L723.3,1158.0 L727.1,1159.1 L730.8,1160.2 L734.6,1160.2 L738.3,1163.2 L742.1,1162.7 L745.8,1164.6 L749.6,1163.6 L753.3,1164.7 L757.0,1164.0 L760.8,1166.0 L764.5,1166.6 L768.3,1166.5 L772.0,1166.9 L775.8,1167.0 L779.5,1168.7 L783.3,1169.8 L787.0,1170.3 L790.8,1168.2 L794.5,1170.8 L798.2,1170.5 L802.0,1171.7 L805.7,1169.9 L809.5,1171.6 L813.2,1170.5 L817.0,1172.6 L820.7,1172.1 L824.5,1172.0 L828.2,1171.9 L831.9,1174.5 L835.7,1173.9 L839.4,1174.1 L843.2,1176.0 L846.9,1174.0 L850.7,1174.4 L854.4,1174.6 L858.2,1176.8 L861.9,1175.7 L865.6,1175.7 L869.4,1175.4 L873.1,1177.1 L876.9,1176.2 L880.6,1175.3 L884.4,1177.8 L888.1,1178.1 L891.9,1178.1 L895.6,1179.5 L899.4,1178.6 L903.1,1177.1 L906.8,1179.8 L910.6,1179.4 L914.3,1178.1 L918.1,1179.0 L921.8,1179.4 L925.6,1180.2 L929.3,1180.2 L933.1,1180.4 L936.8,1179.9 L940.5,1180.6 L944.3,1179.9 L948.0,1183.0 L951.8,1180.4 L953.5,1181.9" stroke="#cae11f"/>
</g>
<path d="M94.2,1204.75 V600.4 H953.5 V1204.75 Z" fill="none" stroke="#000" stroke-width="2"/>
<text x="62.8" y="1241" font-size="31.6" textLength="63.8" lengthAdjust="spacing">13.5</text>
<text x="259.2" y="1241" font-size="31.6" text-anchor="middle">14</text>
<text x="391.3" y="1241" font-size="31.6" textLength="63.8" lengthAdjust="spacing">14.5</text>
<text x="587.8" y="1241" font-size="31.6" text-anchor="middle">15</text>
<text x="719.8" y="1241" font-size="31.6" textLength="63.8" lengthAdjust="spacing">15.5</text>
<text x="916.2" y="1241" font-size="31.6" text-anchor="middle">16</text>
<text x="81.5" y="1106.4" font-size="31.6" text-anchor="end">1</text>
<text x="81.5" y="997.1" font-size="31.6" text-anchor="end">2</text>
<text x="81.5" y="887.9" font-size="31.6" text-anchor="end">3</text>
<text x="81.5" y="778.6" font-size="31.6" text-anchor="end">4</text>
<text x="81.5" y="669.4" font-size="31.6" text-anchor="end">5</text>
<text x="394.6" y="1287.7" font-size="31.6" textLength="258" lengthAdjust="spacingAndGlyphs">Frequency (MHz)</text>
<g transform="translate(27.8,978) rotate(-90)"><text x="0" y="0" font-size="31.6" font-style="italic">x</text><text x="18.3" y="8.2" font-size="24.3" textLength="53.2" lengthAdjust="spacingAndGlyphs">RMS</text><text x="83.8" y="0" font-size="32.4" textLength="67.6" lengthAdjust="spacingAndGlyphs">(nm)</text></g>
<rect x="124" y="697.5" width="459.8" height="59.7" fill="url(#vir)" stroke="#000" stroke-width="2.4"/>
<path d="M216.1,697.5 v19 M307.9,697.5 v19 M399.9,697.5 v19 M491.6,697.5 v19 M124,697.5 v19" stroke="#000" stroke-width="2" fill="none"/>
<text x="122" y="686.7" font-size="31.6">0</text>
<text x="217.1" y="686.7" font-size="31.6" text-anchor="middle" letter-spacing="1.2">10</text>
<text x="308.9" y="686.7" font-size="31.6" text-anchor="middle" letter-spacing="1.2">20</text>
<text x="400.9" y="686.7" font-size="31.6" text-anchor="middle" letter-spacing="1.2">30</text>
<text x="492.6" y="686.7" font-size="31.6" text-anchor="middle" letter-spacing="1.2">40</text>
<text x="587" y="686.7" font-size="31.6" text-anchor="end" letter-spacing="1.2">50</text>
<text x="288" y="793.6" font-size="31.6" font-style="italic">F</text><text x="306.6" y="801.7" font-size="24.3" textLength="56.3" lengthAdjust="spacingAndGlyphs">RMS</text><text x="372" y="793.6" font-size="32.2" textLength="64.3" lengthAdjust="spacingAndGlyphs">(pN)</text>
<path d="M522.5,1161.3 C540.6,1061.6 586.9,948.8 706.5,940.1" fill="none" stroke="#000" stroke-width="2.7"/>
<path d="M721.8,937.9 L703.0,929.0 L707.9,951.2 Z"/>
<text x="678" y="993.5" font-size="31.6" font-style="italic">F</text><text x="695.4" y="1001" font-size="24.3" textLength="56.6" lengthAdjust="spacingAndGlyphs">RMS</text>
</svg>
</body></html>
